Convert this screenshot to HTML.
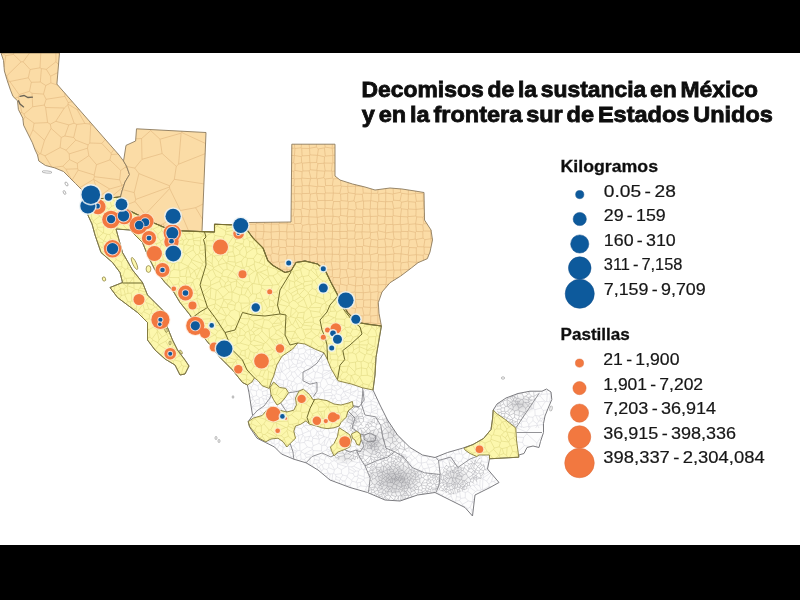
<!DOCTYPE html>
<html><head><meta charset="utf-8"><title>Decomisos</title>
<style>html,body{margin:0;padding:0;background:#000;width:800px;height:600px;overflow:hidden}svg{display:block}</style></head>
<body>
<svg width="800" height="600" viewBox="0 0 800 600" style="display:block">
<rect width="800" height="600" fill="#000"/>
<rect x="0" y="53" width="800" height="492" fill="#fff"/>
<clipPath id="cv"><rect x="0" y="53" width="800" height="492"/></clipPath>
<filter id="bl" x="-2%" y="-2%" width="104%" height="104%"><feGaussianBlur stdDeviation="0.45"/></filter>
<g clip-path="url(#cv)"><g filter="url(#bl)">
<path d="M1.0 53.0 L59.5 53.0 L56.9 84.1 L119.0 155.0 L123.5 161.0 L126.5 166.0 L129.5 174.5 L125.0 182.0 L122.0 191.0 L120.5 197.0 L84.0 200.0 L81.5 189.5 L75.5 183.5 L69.5 177.5 L63.5 171.5 L54.5 167.8 L45.5 165.5 L38.8 161.0 L37.5 155.0 L35.0 149.8 L32.4 142.8 L28.0 134.0 L23.6 125.2 L22.8 118.2 L18.4 109.5 L17.5 100.8 L13.0 96.4 L10.5 90.2 L7.0 79.8 L4.4 71.0 L3.5 60.5 L1.0 53.0Z" fill="#fbdca6"/>
<path d="M68.0 104.2L67.8 104.9M68.0 104.2L77.1 109.5M67.8 104.9L74.1 123.2M77.1 109.5L84.9 123.5M74.1 123.2L76.8 124.4M84.9 123.5L76.8 124.4M61.2 137.4L60.1 147.6M61.2 137.4L64.8 136.0M64.8 136.0L73.7 137.5M66.1 150.2L60.1 147.6M66.1 150.2L75.8 140.1M75.8 140.1L73.7 137.5M40.6 153.8L44.5 140.3M40.6 153.8L44.9 155.8M44.9 155.8L60.1 147.6M44.5 140.3L51.1 128.4M51.1 128.4L61.2 137.4M68.8 124.9L74.1 123.2M68.8 124.9L64.8 136.0M76.8 124.4L73.7 137.5M88.1 144.9L87.5 148.2M88.1 144.9L75.8 140.1M66.1 150.2L69.2 153.9M69.2 153.9L87.5 148.2M46.3 69.3L50.6 76.2M46.3 69.3L56.0 61.7M56.0 61.7L58.5 64.7M50.6 76.2L57.9 72.5M59.4 54.0L58.4 53.0M56.0 61.7L55.9 53.0M50.3 124.2L47.6 122.6M50.3 124.2L55.8 121.3M47.6 122.6L45.6 107.5M55.8 121.3L64.3 108.0M64.3 108.0L45.6 107.5M68.8 124.9L55.8 121.3M51.1 128.4L50.3 124.2M67.8 104.9L64.3 108.0M109.9 159.9L120.7 170.4M109.9 159.9L96.5 164.7M94.4 176.7L119.7 179.8M94.4 176.7L94.2 175.0M120.7 170.4L119.7 179.8M96.5 164.7L94.2 175.0M40.6 153.8L39.8 153.8M44.9 155.8L51.8 167.1M39.8 153.8L37.6 155.5M19.1 94.6L9.8 81.5M19.1 94.6L29.5 91.3M9.8 81.5L28.3 77.8M29.5 91.3L31.3 82.3M31.3 82.3L28.3 77.8M41.4 68.6L46.3 69.3M41.4 68.6L40.0 67.8M40.8 53.0L40.0 67.8M21.1 61.8L23.1 61.8M21.1 61.8L6.8 75.8M6.8 75.8L7.1 77.2M9.8 81.5L9.0 81.1M28.3 77.8L30.1 69.5M7.1 77.2L9.0 81.1M23.1 61.8L30.1 69.5M40.3 82.0L41.4 68.6M40.3 82.0L31.3 82.3M40.0 67.8L30.1 69.5M21.1 61.8L13.5 54.4M13.5 54.4L13.7 53.0M23.1 61.8L29.5 53.0M77.1 109.5L79.3 109.7M84.9 123.5L89.7 124.0M89.7 124.0L89.9 121.7M111.2 154.5L109.9 159.9M111.2 154.5L118.2 154.1M120.7 170.4L125.2 167.4M126.1 165.4L125.2 167.4M121.8 185.6L121.8 185.3M121.8 185.6L122.5 187.5M121.8 185.3L124.2 184.3M122.5 187.5L122.9 188.2M109.7 189.0L93.7 179.4M109.7 189.0L121.8 185.6M94.4 176.7L93.6 179.3M119.7 179.8L121.8 185.3M93.7 179.4L93.6 179.3M110.1 197.9L122.5 187.5M29.6 137.1L32.9 129.7M23.0 120.0L25.0 116.6M32.9 129.7L34.1 123.2M25.0 116.6L34.1 123.2M39.8 153.8L34.3 147.8M44.5 140.3L32.9 129.7M47.6 122.6L34.1 123.2M24.0 114.0L25.0 116.6M24.0 114.0L32.7 106.8M32.7 106.8L44.3 105.0M44.3 105.0L45.6 107.5M40.3 82.0L45.8 85.5M50.6 76.2L50.9 82.9M45.8 85.5L50.9 82.9M32.0 93.3L43.5 94.1M32.0 93.3L29.5 91.3M45.8 85.5L43.5 94.1M50.9 82.9L57.9 85.2M32.0 93.3L32.7 106.8M44.3 105.0L46.1 99.3M46.1 99.3L43.5 94.1M4.1 67.0L5.8 55.7M5.8 55.7L1.8 53.0M6.8 75.8L5.4 74.5M13.5 54.4L5.8 55.7M69.2 153.9L69.5 159.6M87.5 148.2L88.9 155.6M88.9 155.6L77.3 163.4M77.3 163.4L69.5 159.6M53.2 167.4L62.9 166.2M62.9 166.2L69.5 159.6M7.1 77.2L6.3 77.6M9.0 81.1L7.9 82.6M72.2 101.6L68.2 102.6M68.2 102.6L64.9 96.4M64.9 96.4L64.9 93.2M68.0 104.2L68.2 102.6M46.1 99.3L64.9 96.4M89.7 124.0L90.7 125.1M90.7 125.1L92.7 125.0M88.1 144.9L89.8 143.0M90.7 125.1L89.8 143.0M111.2 154.5L111.1 153.4M114.0 149.3L111.1 153.4M89.8 143.0L101.8 143.4M105.3 139.4L101.8 143.4M88.9 155.6L96.5 164.7M111.1 153.4L101.8 143.4M85.2 199.9L82.8 195.0M82.8 195.0L99.1 196.1M99.8 198.7L99.3 196.4M99.3 196.4L99.1 196.1M82.8 195.0L82.8 195.0M79.7 187.7L93.6 179.3M93.7 179.4L99.1 196.1M109.7 189.0L99.3 196.4M20.0 112.7L21.9 112.6M14.8 98.2L18.5 97.1M21.9 112.6L18.5 97.1M24.0 114.0L21.9 112.6M19.1 94.6L18.5 97.1M78.2 170.1L77.7 168.8M78.2 170.1L72.1 180.1M77.7 168.8L65.9 169.2M71.5 179.5L65.9 169.2M94.2 175.0L78.2 170.1M77.3 163.4L77.7 168.8M62.9 166.2L65.9 169.2M125.2 167.4L127.1 167.8" fill="none" stroke="#e0b67c" stroke-width="0.6"/>
<path d="M1.0 53.0 L59.5 53.0 L56.9 84.1 L119.0 155.0 L123.5 161.0 L126.5 166.0 L129.5 174.5 L125.0 182.0 L122.0 191.0 L120.5 197.0 L84.0 200.0 L81.5 189.5 L75.5 183.5 L69.5 177.5 L63.5 171.5 L54.5 167.8 L45.5 165.5 L38.8 161.0 L37.5 155.0 L35.0 149.8 L32.4 142.8 L28.0 134.0 L23.6 125.2 L22.8 118.2 L18.4 109.5 L17.5 100.8 L13.0 96.4 L10.5 90.2 L7.0 79.8 L4.4 71.0 L3.5 60.5 L1.0 53.0Z" fill="none" stroke="#8c7b5e" stroke-width="0.9" stroke-linejoin="round"/>
<path d="M136.5 128.8 L206.0 132.5 L202.0 231.6 L171.0 230.5 L164.5 227.5 L154.0 223.0 L133.0 212.5 L120.0 205.5 L120.5 197.0 L122.0 191.0 L125.0 182.0 L129.5 174.5 L126.5 166.0 L123.5 161.0 L124.5 155.0 L126.0 145.4 L135.6 141.0 L136.5 128.8Z" fill="#fbdca6"/>
<path d="M205.6 143.5L181.7 132.5M181.7 132.5L181.7 131.2M205.1 153.7L178.6 164.2M181.7 132.5L181.1 133.2M181.1 133.2L178.6 164.2M141.6 138.5L142.0 159.3M141.6 138.5L150.7 130.6M150.7 130.6L160.0 139.2M160.0 139.2L162.1 153.5M142.0 159.3L162.1 153.5M135.8 138.8L141.6 138.5M134.8 168.1L126.7 166.5M134.8 168.1L142.0 159.3M150.6 129.5L150.7 130.6M181.1 133.2L160.0 139.2M176.3 166.3L178.6 164.2M176.3 166.3L162.1 153.5M134.8 168.1L138.9 173.6M138.9 173.6L134.2 192.6M122.5 189.6L134.2 192.6M180.4 210.5L195.6 207.7M180.4 210.5L169.7 188.5M174.3 179.3L203.9 183.9M174.3 179.3L169.6 185.8M195.6 207.7L203.1 204.0M169.7 188.5L169.5 187.0M169.6 185.8L169.5 187.0M176.3 166.3L174.3 179.3M138.9 173.6L169.6 185.8M134.2 192.6L135.7 199.4M135.7 199.4L169.5 187.0M195.6 207.7L202.5 219.2M163.1 224.0L165.9 228.1M163.1 224.0L180.2 211.3M180.2 211.3L188.7 231.1M180.2 211.3L180.4 210.5M121.9 206.5L135.1 201.6M135.1 201.6L145.3 214.4M145.3 214.4L145.8 218.9M135.7 199.4L135.1 201.6M169.7 188.5L145.3 214.4M163.1 224.0L159.1 225.2" fill="none" stroke="#e0b67c" stroke-width="0.6"/>
<path d="M136.5 128.8 L206.0 132.5 L202.0 231.6 L171.0 230.5 L164.5 227.5 L154.0 223.0 L133.0 212.5 L120.0 205.5 L120.5 197.0 L122.0 191.0 L125.0 182.0 L129.5 174.5 L126.5 166.0 L123.5 161.0 L124.5 155.0 L126.0 145.4 L135.6 141.0 L136.5 128.8Z" fill="none" stroke="#8c7b5e" stroke-width="0.9" stroke-linejoin="round"/>
<path d="M291.8 144.2 L335.0 144.2 L335.0 176.0 L340.0 180.0 L352.5 184.0 L365.0 187.0 L375.0 190.0 L390.0 188.0 L402.0 189.0 L415.0 191.0 L424.0 192.5 L424.5 220.0 L431.0 230.0 L432.5 240.0 L430.0 252.0 L427.3 258.7 L418.0 262.7 L411.3 268.0 L400.7 276.0 L390.0 282.7 L382.0 292.0 L378.3 302.7 L379.0 313.3 L381.4 326.0 L370.0 324.5 L357.5 322.5 L347.5 312.5 L339.0 297.5 L331.0 282.5 L325.0 270.0 L317.5 264.0 L305.0 261.0 L296.0 262.5 L291.0 271.0 L285.0 272.5 L273.0 265.5 L268.0 261.0 L266.0 256.0 L263.0 248.0 L258.0 243.0 L253.0 238.0 L247.0 230.0 L245.0 226.0 L249.0 222.5 L291.0 222.0 L291.8 144.2Z" fill="#fbdca6"/>
<path d="M332.6 269.8L331.2 261.8M332.6 269.8L339.9 268.8M339.8 261.9L339.9 268.8M339.8 261.9L331.8 261.3M331.8 261.3L331.2 261.8M340.5 269.3L339.9 268.8M340.5 269.3L339.6 277.6M333.1 277.5L339.6 277.6M333.1 277.5L332.3 276.6M332.6 269.8L332.5 269.9M332.3 276.6L332.5 269.9M248.3 224.7L248.7 231.5M248.3 224.7L248.7 224.4M255.7 231.8L248.7 231.5M255.7 231.8L256.1 231.3M256.1 231.3L255.9 224.2M248.7 224.4L255.9 224.2M286.7 254.3L285.7 247.5M286.7 254.3L287.3 254.8M285.7 247.5L286.7 246.3M293.8 254.6L287.3 254.8M293.8 254.6L293.9 246.5M286.7 246.3L293.9 246.5M286.7 254.3L279.0 255.2M285.7 247.5L279.9 247.4M279.0 255.2L278.3 254.3M279.9 247.4L278.3 254.3M291.1 209.1L294.2 209.4M294.3 202.0L291.2 201.7M294.3 202.0L294.4 209.1M294.4 209.1L294.2 209.4M256.1 231.3L263.9 231.6M255.9 224.2L256.4 223.6M256.4 223.6L263.7 224.3M263.7 224.3L263.9 231.6M294.3 193.6L294.2 193.8M294.3 193.6L301.8 193.9M294.8 201.5L294.2 193.8M294.8 201.5L302.2 201.1M301.8 193.9L302.2 201.1M353.9 200.9L355.3 194.1M353.9 200.9L355.6 202.4M355.3 194.1L362.3 194.3M362.3 194.3L363.1 200.8M355.6 202.4L363.1 200.8M408.9 224.4L408.3 223.8M408.9 224.4L408.7 231.0M408.3 223.8L400.8 224.7M408.7 231.0L408.1 231.6M408.1 231.6L401.3 231.4M401.3 231.4L400.8 224.7M408.0 238.8L408.1 231.6M408.0 238.8L401.1 239.2M400.9 231.9L401.1 239.2M400.9 231.9L401.3 231.4M407.7 216.9L408.3 223.8M407.7 216.9L400.5 216.5M400.5 216.5L400.5 216.6M400.8 224.7L400.2 224.3M400.5 216.6L400.2 224.3M400.9 231.9L393.2 231.9M393.2 231.9L394.2 238.9M401.1 239.2L400.4 239.8M400.4 239.8L394.2 238.9M428.9 254.7L424.3 254.1M423.6 260.3L423.1 255.2M424.3 254.1L423.1 255.2M431.0 247.3L424.0 247.1M424.0 247.1L424.3 254.1M377.8 300.8L379.0 300.8M377.8 300.8L377.5 300.5M377.5 300.5L378.4 291.9M378.4 291.9L381.8 292.5M422.9 217.2L416.7 216.9M422.9 217.2L423.8 223.8M416.7 216.9L415.6 223.8M423.8 223.8L422.8 224.9M422.8 224.9L415.8 224.0M415.6 223.8L415.8 224.0M385.6 201.8L385.3 208.7M385.6 201.8L385.7 201.7M385.7 201.7L392.4 201.6M385.3 208.7L393.2 209.3M392.4 201.6L393.8 208.5M393.2 209.3L393.8 208.5M385.3 208.8L385.3 208.7M385.3 208.8L385.5 216.4M385.5 216.4L392.6 216.4M392.6 216.4L393.2 215.7M393.2 215.7L393.2 209.3M400.5 216.5L401.5 208.8M400.5 216.6L393.2 215.7M401.5 208.8L400.7 207.8M400.7 207.8L393.8 208.5M393.1 188.3L393.4 193.8M385.7 193.0L385.7 188.6M385.7 193.0L385.7 193.0M385.7 193.0L393.1 194.1M393.4 193.8L393.1 194.1M400.5 188.9L400.6 192.3M393.4 193.8L400.6 192.3M385.7 193.0L385.7 201.7M392.4 201.6L393.6 200.2M393.1 194.1L393.6 200.2M371.3 193.4L371.4 193.4M371.3 193.4L370.8 200.6M371.4 193.4L377.7 193.3M370.8 200.6L377.8 202.1M378.7 194.0L377.7 193.3M378.7 194.0L378.8 201.3M378.8 201.3L377.8 202.1M370.5 200.8L370.8 200.6M370.5 200.8L363.5 201.1M363.3 193.1L362.3 194.3M363.3 193.1L371.3 193.4M363.5 201.1L363.1 200.8M371.2 188.8L371.4 193.4M378.1 189.6L377.7 193.3M385.7 193.0L378.7 194.0M385.6 201.8L378.8 201.3M293.9 171.2L294.0 178.5M293.9 171.2L291.5 171.0M294.0 178.5L291.4 178.5M369.5 224.5L369.9 224.1M369.5 224.5L370.2 232.1M370.2 232.1L370.7 232.6M369.9 224.1L377.2 223.9M377.2 223.9L378.2 224.8M377.3 231.8L370.7 232.6M377.3 231.8L378.2 230.9M378.2 224.8L378.2 230.9M355.5 239.6L356.2 246.4M355.5 239.6L362.5 238.4M356.2 246.4L362.4 246.6M362.4 246.6L363.6 245.6M362.5 238.4L363.6 239.3M363.6 239.3L363.6 245.6M377.3 231.8L378.4 239.5M370.7 232.6L370.0 237.8M377.7 240.2L378.4 239.5M377.7 240.2L371.2 239.3M371.2 239.3L370.0 237.8M377.4 253.2L378.0 247.5M377.4 253.2L370.2 254.9M377.7 247.1L378.0 247.5M377.7 247.1L370.1 246.5M369.8 246.7L370.1 246.5M369.8 246.7L369.5 254.2M369.5 254.2L370.2 254.9M377.7 240.2L377.7 247.1M371.2 239.3L370.1 246.5M363.6 239.3L370.0 237.8M363.6 245.6L369.8 246.7M362.4 246.6L363.1 254.1M363.1 254.1L369.5 254.2M400.7 245.6L392.9 247.7M400.7 245.6L400.4 239.8M393.1 239.9L394.2 238.9M393.1 239.9L391.9 246.7M391.9 246.7L392.9 247.7M385.3 238.4L384.7 239.0M385.3 238.4L393.1 239.9M384.7 239.0L385.9 246.9M391.9 246.7L385.9 246.9M384.7 239.0L378.4 239.5M378.0 247.5L385.6 247.2M385.9 246.9L385.6 247.2M370.7 261.3L370.2 254.9M370.7 261.3L371.1 261.8M371.1 261.8L377.9 261.9M377.4 253.2L378.5 254.6M378.5 254.6L377.9 261.9M371.1 261.8L370.5 269.5M370.5 269.5L377.8 270.5M377.8 270.5L378.2 270.1M378.2 270.1L378.7 262.5M377.9 261.9L378.7 262.5M385.9 269.9L378.2 270.1M385.9 269.9L385.9 262.1M378.7 262.5L385.9 262.1M355.0 270.0L354.9 276.3M355.0 270.0L347.9 268.4M354.9 276.3L348.4 277.5M346.2 269.8L347.9 268.4M346.2 269.8L347.8 277.1M347.8 277.1L348.4 277.5M340.5 269.3L346.2 269.8M339.6 277.6L340.4 278.4M340.4 278.4L347.8 277.1M369.8 270.1L369.9 277.0M369.8 270.1L363.3 269.5M363.3 269.5L361.8 277.3M369.9 277.0L362.9 278.2M362.9 278.2L361.8 277.3M370.7 261.3L362.5 262.3M362.5 262.3L362.5 268.5M362.5 268.5L363.3 269.5M370.5 269.5L369.8 270.1M356.2 277.3L354.9 276.3M356.2 277.3L361.8 277.3M362.5 268.5L355.5 269.5M355.5 269.5L355.0 270.0M347.4 254.1L339.7 255.0M347.4 254.1L347.3 261.1M347.3 261.1L340.0 261.6M339.7 255.0L340.0 261.6M348.5 262.3L347.9 268.4M348.5 262.3L347.3 261.1M339.8 261.9L340.0 261.6M339.1 254.4L332.4 254.3M339.1 254.4L339.7 255.0M332.4 254.3L331.8 261.3M362.4 254.7L356.1 254.0M362.4 254.7L362.2 262.0M362.2 262.0L354.9 261.4M355.0 255.1L356.1 254.0M355.0 255.1L354.9 261.4M354.9 261.4L354.9 261.4M356.2 246.4L355.5 247.1M363.1 254.1L362.4 254.7M355.5 247.1L356.1 254.0M362.5 262.3L362.2 262.0M355.5 269.5L354.9 261.4M347.5 247.4L347.5 254.0M347.5 247.4L355.5 247.1M347.5 254.0L355.0 255.1M348.5 262.3L354.9 261.4M347.5 254.0L347.4 254.1M332.2 284.7L332.5 284.4M332.5 284.4L339.4 285.3M339.4 285.3L339.3 292.0M336.1 292.0L339.3 292.0M339.3 292.0L339.3 292.0M333.1 277.5L332.5 284.4M340.4 278.4L340.6 284.1M340.6 284.1L339.4 285.3M339.4 298.2L339.3 292.0M331.2 261.8L325.2 261.9M332.5 269.9L325.1 269.7M324.5 262.5L325.2 261.9M324.5 262.5L324.3 268.8M324.3 268.8L325.1 269.7M317.3 263.9L317.5 261.8M324.5 262.5L317.5 261.8M324.3 268.8L323.7 268.9M255.7 231.8L255.8 238.4M248.7 231.5L248.4 231.8M255.8 238.4L253.8 238.8M248.3 224.7L246.7 224.5M279.2 239.3L279.6 231.5M279.2 239.3L286.0 240.1M286.0 240.1L287.1 238.8M287.1 238.8L286.8 232.0M286.8 232.0L286.6 231.7M286.6 231.7L279.6 231.5M255.8 238.4L256.6 239.1M263.9 231.6L263.9 231.6M263.9 231.6L262.8 238.9M256.6 239.1L262.8 238.9M271.5 238.9L263.8 240.0M271.5 238.9L271.1 232.2M271.1 232.2L263.9 231.6M262.8 238.9L263.8 240.0M278.8 246.4L271.6 247.4M278.8 246.4L278.6 239.7M278.6 239.7L271.9 239.4M271.9 239.4L271.2 246.9M271.2 246.9L271.6 247.4M279.9 247.4L278.8 246.4M272.3 253.2L278.3 254.3M272.3 253.2L271.6 247.4M286.7 246.3L286.0 240.1M279.2 239.3L278.6 239.7M271.5 238.9L271.9 239.4M271.2 232.0L271.1 232.2M271.2 232.0L279.4 231.4M279.4 231.4L279.6 231.5M263.9 247.0L263.8 240.0M263.9 247.0L271.2 246.9M287.3 222.0L287.2 223.8M287.2 223.8L279.4 223.5M279.4 222.1L279.4 223.5M293.3 215.9L294.2 209.4M293.3 215.9L291.1 216.3M286.6 231.7L287.4 224.0M287.4 224.0L287.2 223.8M279.4 231.4L278.9 224.1M278.9 224.1L279.4 223.5M340.6 223.5L340.2 223.8M340.6 223.5L339.0 216.9M333.1 216.3L339.0 216.9M333.1 216.3L331.7 223.8M340.2 223.8L332.5 224.9M331.7 223.8L332.5 224.9M347.4 312.3L347.4 306.8M347.4 306.8L347.2 306.4M347.2 306.4L344.3 306.8M354.7 315.0L354.9 315.3M354.7 315.0L350.3 315.3M354.9 315.3L355.3 320.3M355.6 308.8L354.7 315.0M355.6 308.8L347.4 306.8M377.5 300.5L370.7 299.5M378.4 291.9L377.9 291.5M377.9 291.5L370.8 292.5M370.7 299.5L370.8 292.5M363.5 284.5L369.4 285.4M363.5 284.5L362.5 285.4M369.4 285.4L370.1 292.0M362.5 285.4L363.3 292.7M363.3 292.7L363.4 292.8M363.4 292.8L370.1 292.0M361.8 323.2L362.6 323.3M362.6 323.3L362.6 323.3M377.8 300.8L377.2 307.6M378.7 308.2L377.9 308.3M377.2 307.6L377.9 308.3M363.3 193.1L362.7 186.4M355.3 194.1L355.1 193.8M355.6 186.1L361.9 186.3M355.6 186.1L355.5 186.2M355.5 186.2L355.1 193.8M294.8 201.5L294.3 202.0M300.9 209.6L294.4 209.1M300.9 209.6L302.3 208.2M302.2 201.1L302.7 201.5M302.3 208.2L302.7 201.5M355.6 224.5L362.5 224.5M355.6 224.5L354.4 231.0M362.5 224.5L362.1 231.8M355.3 232.0L354.4 231.0M355.3 232.0L361.9 231.9M361.9 231.9L362.1 231.8M369.5 224.5L363.3 223.8M370.2 232.1L362.1 231.8M363.3 223.8L362.5 224.5M354.6 238.8L355.3 232.0M354.6 238.8L355.5 239.6M362.5 238.4L361.9 231.9M355.6 202.4L356.3 208.8M363.5 201.1L363.7 208.8M363.7 208.8L362.8 209.5M362.8 209.5L356.3 208.8M408.5 246.7L409.2 247.5M408.5 246.7L401.8 246.7M409.2 247.5L408.2 254.9M401.8 246.7L401.1 253.9M401.1 253.9L408.2 254.9M409.3 239.9L408.0 238.8M409.3 239.9L408.5 246.7M400.7 245.6L401.8 246.7M424.0 247.1L423.8 246.9M431.6 244.5L430.7 238.7M430.7 238.7L424.9 239.7M423.8 246.9L424.9 239.7M370.3 216.2L369.7 209.3M370.3 216.2L370.5 216.5M370.5 216.5L377.4 216.2M370.3 208.9L377.4 208.9M370.3 208.9L369.7 209.3M377.5 209.1L377.4 208.9M377.5 209.1L377.9 215.7M377.9 215.7L377.4 216.2M363.7 208.8L369.7 209.3M362.8 216.6L362.8 209.5M362.8 216.6L370.3 216.2M363.3 223.8L362.3 217.2M369.9 224.1L370.5 216.5M362.8 216.6L362.3 217.2M377.2 223.9L377.4 216.2M370.5 200.8L370.3 208.9M377.8 202.1L377.4 208.9M385.3 208.8L377.5 209.1M385.5 216.4L385.1 216.7M385.1 216.7L377.9 215.7M385.1 216.7L384.7 223.6M384.7 223.6L378.2 224.8M416.4 262.1L416.2 262.3M416.4 262.1L416.5 254.8M416.2 262.3L408.3 261.6M416.5 254.8L416.3 254.7M416.3 254.7L408.6 255.4M408.6 255.4L408.3 261.6M419.2 262.2L416.4 262.1M416.1 264.2L416.2 262.3M423.1 255.2L416.5 254.8M416.3 247.8L416.3 254.7M416.3 247.8L417.5 246.7M417.5 246.7L423.8 246.9M416.3 247.8L409.2 247.5M408.2 254.9L408.6 255.4M385.7 284.5L386.0 284.3M385.7 284.5L385.9 287.5M386.0 284.3L388.4 284.6M426.9 223.7L423.8 223.8M422.9 217.2L424.3 216.0M424.4 216.0L424.3 216.0M293.9 171.2L294.9 170.4M293.7 162.9L291.6 163.0M293.7 162.9L295.0 164.0M294.9 170.4L295.0 164.0M293.7 162.9L294.4 155.5M295.0 164.0L301.7 162.7M301.7 162.7L301.3 156.6M301.3 156.6L294.4 155.5M294.9 170.4L302.1 171.7M301.7 162.7L302.3 163.2M302.1 171.7L302.9 171.0M302.3 163.2L302.9 171.0M401.5 202.2L408.1 201.0M401.5 202.2L400.1 200.7M400.1 200.7L401.6 193.3M408.1 201.0L408.4 194.2M401.6 193.3L408.3 194.2M408.4 194.2L408.3 194.2M400.7 207.8L401.5 202.2M393.6 200.2L400.1 200.7M400.6 192.3L401.6 193.3M408.4 190.0L408.3 194.2M415.3 193.6L415.6 193.3M415.3 193.6L408.4 194.2M415.6 193.3L415.7 191.1M301.5 144.2L301.1 147.8M301.1 147.8L295.0 148.5M294.4 144.2L294.8 148.3M294.8 148.3L295.0 148.5M340.7 208.9L340.5 208.8M340.7 208.9L340.6 215.5M333.1 216.2L333.1 216.3M333.1 216.2L332.5 209.3M340.6 215.5L339.0 216.9M340.5 208.8L332.5 209.3M340.2 223.8L339.8 231.5M332.4 231.3L332.5 224.9M332.4 231.3L332.5 231.4M339.8 231.5L332.5 231.4M370.8 277.9L370.2 284.7M370.8 277.9L377.8 277.9M370.2 284.7L378.1 285.1M377.8 277.9L378.4 284.8M378.4 284.8L378.1 285.1M363.5 284.5L362.9 278.2M369.4 285.4L370.2 284.7M369.9 277.0L370.8 277.9M378.2 277.3L377.8 270.5M378.2 277.3L377.8 277.9M377.9 291.5L378.1 285.1M370.1 292.0L370.8 292.5M385.7 284.5L378.4 284.8M386.1 224.7L385.4 232.4M386.1 224.7L392.9 224.4M393.2 224.8L392.9 224.4M393.2 224.8L393.2 231.9M393.2 231.9L385.8 232.9M385.8 232.9L385.4 232.4M384.7 223.6L386.1 224.7M378.2 230.9L385.4 232.4M392.6 216.4L392.9 224.4M400.2 224.3L393.2 224.8M393.2 231.9L393.2 231.9M385.3 238.4L385.8 232.9M386.4 270.5L386.0 277.1M386.4 270.5L393.7 270.0M393.7 270.0L394.0 270.2M394.0 270.2L393.5 277.7M393.5 277.7L393.3 277.8M393.3 277.8L386.5 277.7M386.0 277.1L386.5 277.7M385.9 269.9L386.4 270.5M378.2 277.3L386.0 277.1M398.2 277.6L393.5 277.7M393.6 280.4L393.3 277.8M386.0 284.3L386.5 277.7M392.9 247.7L394.1 253.6M401.1 253.9L401.1 253.9M394.1 253.6L401.1 253.9M408.3 261.6L408.0 262.0M401.2 262.8L408.0 262.0M401.2 262.8L400.3 262.0M401.1 253.9L400.3 262.0M325.2 261.9L324.2 254.1M317.5 261.8L317.2 261.6M317.2 261.6L317.7 254.2M324.2 254.1L317.7 254.2M332.4 254.3L332.4 254.2M332.4 254.2L324.4 254.0M324.2 254.1L324.4 254.0M248.7 224.4L248.8 222.7M256.4 223.6L256.4 222.4M263.7 249.7L263.6 247.3M263.6 247.3L262.2 247.2M263.9 247.0L263.6 247.3M256.6 239.1L256.6 241.6M300.9 209.6L302.0 216.5M302.3 208.2L309.6 209.9M309.6 209.9L308.7 216.6M308.7 216.6L302.0 216.5M272.6 265.1L272.9 262.5M279.9 269.6L280.2 269.3M280.2 269.3L279.4 262.2M272.9 262.5L278.6 261.6M278.6 261.6L279.4 262.2M287.3 254.8L286.3 261.8M279.0 255.2L278.6 261.6M286.3 261.8L279.4 262.2M269.2 262.1L271.8 261.7M271.8 261.7L270.6 255.1M270.6 255.1L265.6 254.9M272.9 262.5L271.8 261.7M272.3 253.2L270.6 255.1M264.4 223.6L271.4 224.2M264.4 223.6L264.5 222.3M271.4 224.2L271.5 224.1M271.5 224.1L271.5 222.2M263.7 224.3L264.4 223.6M271.2 232.0L271.4 224.2M278.9 224.1L271.5 224.1M286.3 261.8L286.8 262.4M280.2 269.3L286.9 269.3M286.8 262.4L286.9 269.3M293.8 254.6L294.1 254.9M286.8 262.4L294.8 262.6M294.8 262.6L295.0 262.3M294.1 254.9L295.0 262.3M293.9 246.5L294.5 245.9M294.5 245.9L302.0 246.9M302.0 246.9L302.3 247.3M302.3 247.3L301.9 253.7M294.1 254.9L301.9 253.7M356.2 277.3L355.4 285.8M348.4 277.5L348.4 284.2M355.4 285.8L348.4 284.2M362.5 285.4L355.5 285.9M355.4 285.8L355.5 285.9M340.6 284.1L347.0 285.5M347.0 285.5L348.4 284.2M339.3 292.0L346.7 292.1M347.0 285.5L346.7 292.1M362.7 323.1L370.6 322.7M362.7 323.1L363.2 315.9M363.2 315.9L363.9 315.2M363.9 315.2L369.8 315.1M370.8 316.0L369.8 315.1M370.8 316.0L370.6 322.7M370.6 322.7L370.6 322.7M370.4 324.6L370.6 322.7M362.6 323.3L362.7 323.1M354.9 315.3L363.2 315.9M355.6 308.8L356.7 307.7M362.4 307.8L356.7 307.7M362.4 307.8L363.9 315.2M377.4 325.5L377.5 323.9M377.5 323.9L370.6 322.7M380.9 323.5L377.9 323.5M377.9 323.5L377.8 315.3M379.4 315.3L377.9 315.1M377.9 315.1L377.8 315.3M377.5 323.9L377.9 323.5M370.8 316.0L377.8 315.3M377.9 308.3L377.9 315.1M370.6 307.8L369.8 315.1M370.6 307.8L377.2 307.6M370.6 299.7L363.7 300.1M370.6 299.7L370.3 307.5M363.7 300.1L363.4 306.9M370.3 307.5L363.4 306.9M370.7 299.5L370.6 299.7M363.4 292.8L363.0 299.4M363.0 299.4L363.7 300.1M370.6 307.8L370.3 307.5M362.4 307.8L363.4 306.9M355.6 186.1L355.4 184.7M309.7 193.4L309.0 185.7M309.7 193.4L310.4 194.0M310.4 194.0L316.3 193.1M317.3 186.7L316.3 193.1M317.3 186.7L309.1 185.6M309.1 185.6L309.0 185.7M302.1 171.7L301.9 178.1M310.9 178.4L310.5 178.7M310.9 178.4L309.1 170.8M309.1 170.8L302.9 171.0M310.5 178.7L301.9 178.1M309.7 201.1L316.6 201.8M309.7 201.1L309.5 201.2M309.5 201.2L310.1 209.4M316.6 201.8L317.3 208.4M310.1 209.4L316.5 209.2M317.3 208.4L316.5 209.2M301.8 193.9L302.1 193.6M302.1 193.6L309.7 193.4M310.4 194.0L309.7 201.1M302.7 201.5L309.5 201.2M309.6 209.9L310.1 209.4M347.7 208.6L340.7 208.9M347.7 208.6L348.3 201.7M348.3 201.7L347.7 201.2M347.7 201.2L341.0 200.6M340.5 208.8L340.0 201.5M341.0 200.6L340.0 201.5M353.9 200.9L348.3 201.7M347.7 201.2L347.7 193.3M355.1 193.8L348.3 192.7M347.7 193.3L348.3 192.7M341.0 200.6L340.5 194.1M347.7 193.3L340.5 194.1M348.3 192.7L347.5 186.6M340.5 194.1L339.8 193.4M339.8 193.4L341.4 186.1M341.4 186.1L347.5 186.6M355.5 186.2L347.7 186.4M348.2 182.6L347.7 186.4M347.7 186.4L347.5 186.6M317.8 200.6L316.7 193.5M317.8 200.6L324.9 200.4M316.7 193.5L324.9 193.8M324.9 200.4L324.9 193.8M316.3 193.1L316.7 193.5M316.6 201.8L317.8 200.6M347.7 208.6L348.1 209.1M340.6 215.5L347.1 216.2M348.1 209.1L347.1 216.2M356.3 208.8L354.9 210.1M348.1 209.1L354.9 210.1M432.3 238.6L430.8 238.5M431.1 230.6L431.0 230.6M430.8 238.5L430.5 231.1M431.0 230.6L430.5 231.1M430.7 238.7L430.8 238.5M431.0 230.0L431.0 230.6M423.4 231.0L430.5 231.1M423.4 231.0L422.8 224.9M422.8 231.7L423.0 238.1M422.8 231.7L416.3 231.5M423.0 238.1L416.0 239.6M416.3 231.5L415.4 232.3M415.4 232.3L415.2 239.1M415.2 239.1L416.0 239.6M423.4 231.0L422.8 231.7M424.9 239.7L423.0 238.1M415.8 224.0L416.3 231.5M417.5 246.7L416.0 239.6M408.9 224.4L415.6 223.8M408.7 231.0L415.4 232.3M409.3 239.9L415.2 239.1M409.2 269.3L400.5 270.0M409.2 269.3L409.2 269.3M409.2 269.3L409.2 269.6M401.6 275.3L400.5 270.0M400.5 270.0L400.5 270.0M401.2 262.8L400.5 270.0M408.0 262.0L409.2 269.3M409.5 269.3L409.2 269.3M394.0 270.2L400.5 270.0M415.9 216.0L416.1 209.4M415.9 216.0L408.0 216.6M416.1 209.4L408.4 209.0M408.0 216.6L407.8 209.5M407.8 209.5L408.4 209.0M407.7 216.9L408.0 216.6M416.7 216.9L415.9 216.0M401.5 208.8L407.8 209.5M408.7 201.6L408.4 209.0M408.7 201.6L408.1 201.0M415.3 193.6L416.4 201.3M415.6 193.3L422.8 193.6M423.3 194.2L422.8 193.6M423.3 194.2L423.2 201.0M416.4 201.3L423.2 201.0M408.7 201.6L415.5 202.2M416.4 201.3L415.5 202.2M416.1 209.4L416.1 209.4M415.5 202.2L416.1 209.4M294.4 155.5L294.4 155.5M294.4 155.5L291.6 155.5M294.4 155.5L295.0 148.5M294.8 148.3L291.7 148.2M301.3 156.6L302.1 155.9M301.1 147.8L301.7 148.3M301.7 148.3L302.1 155.9M309.6 148.3L309.1 144.2M309.6 148.3L309.5 148.5M301.7 148.3L309.5 148.5M309.6 148.3L316.3 147.1M316.5 144.2L316.3 147.1M325.3 156.1L324.4 147.9M325.3 156.1L324.5 156.8M324.5 156.8L317.5 155.2M317.5 155.2L318.4 148.9M318.4 148.9L324.4 147.9M332.3 163.2L324.2 163.0M332.3 163.2L332.9 162.7M324.2 163.0L324.5 156.8M332.9 162.7L332.7 155.5M332.7 155.5L325.3 156.1M310.9 178.4L316.6 178.3M316.6 178.3L317.0 170.6M317.0 170.6L316.8 170.3M309.1 170.8L310.2 169.8M316.8 170.3L310.2 169.8M317.0 170.6L324.9 171.2M324.1 163.2L325.2 170.9M324.1 163.2L317.9 163.7M317.9 163.7L316.8 170.3M324.9 171.2L325.2 170.9M332.3 163.2L331.5 171.0M324.2 163.0L324.1 163.2M325.2 170.9L331.5 171.0M335.0 171.0L331.9 171.3M335.0 163.2L332.9 162.7M331.9 171.3L331.5 171.0M332.2 148.3L332.9 155.3M332.2 148.3L335.0 147.7M332.9 155.3L335.0 155.3M332.7 155.5L332.9 155.3M325.0 200.6L332.6 200.4M325.0 200.6L325.0 208.3M325.0 208.3L332.3 209.0M332.3 209.0L333.6 201.5M332.6 200.4L333.6 201.5M324.5 208.9L317.3 208.4M324.5 208.9L325.0 208.3M324.9 200.4L325.0 200.6M332.5 209.3L332.3 209.0M340.0 201.5L333.6 201.5M333.3 193.1L339.8 193.4M333.3 193.1L332.6 200.4M347.6 230.9L347.2 231.4M347.6 230.9L346.8 223.9M346.8 223.9L340.6 223.5M339.8 231.5L339.8 231.5M347.2 231.4L339.8 231.5M393.8 254.0L393.6 261.5M393.8 254.0L385.6 254.9M386.0 262.0L385.5 255.0M386.0 262.0L392.9 262.1M392.9 262.1L393.6 261.5M385.6 254.9L385.5 255.0M394.1 253.6L393.8 254.0M400.3 262.0L393.6 261.5M385.6 247.2L385.6 254.9M378.5 254.6L385.5 255.0M385.9 262.1L386.0 262.0M393.7 270.0L392.9 262.1M332.3 276.6L328.4 277.1M325.1 269.7L325.1 270.2M293.3 215.9L294.3 216.8M302.0 216.5L301.9 216.6M294.3 216.8L301.9 216.6M324.5 208.9L324.3 215.9M333.1 216.2L324.8 216.3M324.3 215.9L324.8 216.3M331.7 223.8L325.6 223.3M324.8 216.3L325.6 223.3M332.4 231.3L324.6 231.1M324.6 231.1L324.6 224.2M325.6 223.3L324.6 224.2M294.2 193.8L291.3 193.8M294.5 245.9L294.5 239.5M302.0 246.9L302.7 239.5M302.7 239.5L302.1 238.9M302.1 238.9L294.5 239.5M287.1 238.8L294.3 239.3M294.3 239.3L294.5 239.5M286.8 232.0L294.7 231.8M294.3 239.3L294.7 231.8M291.8 269.7L287.3 269.7M287.3 269.7L287.0 272.0M294.8 262.6L294.7 264.7M295.0 262.3L297.7 262.2M286.9 269.3L287.3 269.7M302.1 261.5L302.1 254.0M309.5 262.1L309.9 261.6M309.9 261.6L309.5 255.3M302.1 254.0L309.2 255.0M309.2 255.0L309.5 255.3M301.9 253.7L302.1 254.0M317.2 261.6L309.9 261.6M317.3 253.8L317.7 254.2M317.3 253.8L309.5 255.3M302.3 247.3L310.1 246.8M310.1 246.8L309.2 255.0M355.3 292.3L355.0 292.0M355.3 292.3L355.7 299.6M355.0 292.0L347.3 292.8M355.3 300.1L355.7 299.6M355.3 300.1L348.1 300.8M347.3 292.8L347.0 299.5M348.1 300.8L347.0 299.5M363.3 292.7L355.3 292.3M355.5 285.9L355.0 292.0M363.0 299.4L355.7 299.6M346.7 292.1L347.3 292.8M356.7 307.7L355.3 300.1M347.2 306.4L348.1 300.8M340.1 299.5L347.0 299.5M302.0 186.2L302.4 185.7M302.0 186.2L294.8 186.4M302.4 185.7L301.5 178.6M301.5 178.6L294.4 178.9M294.4 178.9L293.9 185.6M294.8 186.4L293.9 185.6M302.1 193.6L302.0 186.2M309.0 185.7L302.4 185.7M294.3 193.6L294.8 186.4M309.1 185.6L310.5 178.7M301.9 178.1L301.5 178.6M294.0 178.5L294.4 178.9M291.3 185.8L293.9 185.6M341.4 186.1L341.0 185.6M341.0 185.6L340.5 180.2M332.5 178.1L331.9 171.3M332.5 178.1L333.3 178.9M333.3 178.9L338.2 178.6M333.3 193.1L333.3 193.1M341.0 185.6L333.0 186.2M333.3 193.1L333.0 186.2M324.9 193.8L325.5 193.0M333.3 193.1L325.5 193.0M333.3 178.9L332.4 185.5M333.0 186.2L332.4 185.5M317.2 178.8L323.8 177.7M317.2 178.8L317.8 186.2M317.8 186.2L324.5 186.7M323.8 177.7L325.1 179.0M325.1 179.0L325.6 185.6M324.5 186.7L325.6 185.6M316.6 178.3L317.2 178.8M324.9 171.2L323.8 177.7M317.3 186.7L317.8 186.2M325.5 193.0L324.5 186.7M332.5 178.1L325.1 179.0M332.4 185.5L325.6 185.6M355.3 216.9L354.9 216.4M355.3 216.9L354.6 223.3M354.9 216.4L347.6 216.8M354.6 223.3L347.1 223.5M347.1 223.5L347.6 216.8M362.3 217.2L355.3 216.9M354.9 210.1L354.9 216.4M355.6 224.5L354.6 223.3M347.1 216.2L347.6 216.8M347.6 230.9L354.4 231.0M346.8 223.9L347.1 223.5M423.3 194.2L424.0 194.1M422.8 193.6L423.0 192.3M423.7 201.4L423.2 208.6M423.7 201.4L424.2 201.4M424.3 209.6L423.2 208.6M424.3 216.0L424.4 212.9M416.1 209.4L423.2 208.6M423.2 201.0L423.7 201.4M316.6 162.5L310.1 162.7M316.6 162.5L317.4 155.3M317.4 155.3L309.9 154.9M309.9 162.5L310.1 162.7M309.9 162.5L309.5 155.5M309.9 154.9L309.5 155.5M317.9 163.7L316.6 162.5M310.2 169.8L310.1 162.7M317.5 155.2L317.4 155.3M309.5 148.5L309.9 154.9M316.3 147.1L318.4 148.9M302.3 163.2L309.9 162.5M302.1 155.9L309.5 155.5M354.6 238.8L348.0 239.2M347.2 231.4L347.2 238.3M348.0 239.2L347.2 238.3M347.5 247.4L347.2 247.1M348.0 239.2L347.2 247.1M339.8 231.5L340.2 238.8M347.2 238.3L340.2 238.8M309.8 239.7L310.1 246.7M309.8 239.7L317.1 239.0M317.1 239.0L317.8 239.8M317.8 239.8L317.1 246.8M310.1 246.7L316.3 247.6M316.3 247.6L317.1 246.8M310.1 246.8L310.1 246.7M302.7 239.5L309.5 239.4M309.5 239.4L309.8 239.7M323.9 231.8L317.8 231.7M323.9 231.8L325.0 239.0M317.2 232.3L317.8 231.7M317.2 232.3L317.1 239.0M325.0 239.0L324.2 239.7M324.2 239.7L317.8 239.8M324.9 246.9L317.1 246.8M324.9 246.9L324.2 239.7M317.3 253.8L316.3 247.6M324.4 254.0L325.0 247.1M325.0 247.1L324.9 246.9M287.4 224.0L293.7 224.5M294.7 231.8L294.8 231.6M293.7 224.5L294.8 231.6M294.3 216.8L294.8 223.5M293.7 224.5L294.8 223.5M301.9 216.6L301.0 223.5M294.8 223.5L301.0 223.5M294.8 231.6L301.5 231.4M301.0 223.5L302.6 225.4M302.6 225.4L301.5 231.4M309.5 239.4L309.6 232.5M302.1 238.9L301.9 231.9M309.6 232.5L301.9 231.9M317.2 232.3L310.3 231.9M309.6 232.5L310.3 231.9M301.9 231.9L301.5 231.4M308.9 216.8L309.0 224.1M308.9 216.8L317.1 217.2M309.0 224.1L309.9 224.8M309.9 224.8L317.1 224.2M317.1 217.2L317.3 217.4M317.3 217.4L317.5 223.6M317.5 223.6L317.1 224.2M308.7 216.6L308.9 216.8M302.6 225.4L309.0 224.1M316.5 209.2L317.1 217.2M310.3 231.9L309.9 224.8M317.8 231.7L317.1 224.2M324.3 215.9L317.3 217.4M324.6 224.2L317.5 223.6M324.6 231.1L323.9 231.8M340.1 246.9L332.1 247.1M340.1 246.9L340.4 246.7M340.4 246.7L339.2 239.7M339.2 239.7L332.3 238.9M331.7 246.7L332.1 247.1M331.7 246.7L332.2 238.9M332.2 238.9L332.3 238.9M339.1 254.4L340.1 246.9M332.4 254.2L332.1 247.1M347.2 247.1L340.4 246.7M340.2 238.8L339.2 239.7M332.5 231.4L332.3 238.9M325.0 247.1L331.7 246.7M325.0 239.0L332.2 238.9M332.4 144.2L332.1 148.2M332.1 148.2L325.1 147.1M325.1 147.1L324.8 144.2M332.2 148.3L332.1 148.2M324.4 147.9L325.1 147.1" fill="none" stroke="#e0b67c" stroke-width="0.6"/>
<path d="M291.8 144.2 L335.0 144.2 L335.0 176.0 L340.0 180.0 L352.5 184.0 L365.0 187.0 L375.0 190.0 L390.0 188.0 L402.0 189.0 L415.0 191.0 L424.0 192.5 L424.5 220.0 L431.0 230.0 L432.5 240.0 L430.0 252.0 L427.3 258.7 L418.0 262.7 L411.3 268.0 L400.7 276.0 L390.0 282.7 L382.0 292.0 L378.3 302.7 L379.0 313.3 L381.4 326.0 L370.0 324.5 L357.5 322.5 L347.5 312.5 L339.0 297.5 L331.0 282.5 L325.0 270.0 L317.5 264.0 L305.0 261.0 L296.0 262.5 L291.0 271.0 L285.0 272.5 L273.0 265.5 L268.0 261.0 L266.0 256.0 L263.0 248.0 L258.0 243.0 L253.0 238.0 L247.0 230.0 L245.0 226.0 L249.0 222.5 L291.0 222.0 L291.8 144.2Z" fill="none" stroke="#8c7b5e" stroke-width="0.9" stroke-linejoin="round"/>
<path d="M84.0 200.0 L120.5 197.0 L120.0 205.5 L133.0 212.5 L154.0 223.0 L164.5 227.5 L171.0 230.5 L202.0 231.6 L214.5 232.0 L214.5 224.2 L236.0 225.0 L245.0 226.0 L247.0 230.0 L253.0 238.0 L258.0 243.0 L263.0 248.0 L266.0 256.0 L268.0 261.0 L273.0 265.5 L285.0 272.5 L291.0 271.0 L296.0 262.5 L305.0 261.0 L317.5 264.0 L325.0 270.0 L331.0 282.5 L339.0 297.5 L347.5 312.5 L357.5 322.5 L370.0 324.5 L381.4 326.0 L379.0 340.0 L376.0 357.5 L375.0 375.0 L373.0 390.0 L380.0 405.0 L387.5 420.0 L397.5 435.0 L410.0 447.5 L422.5 455.0 L435.0 457.5 L447.5 452.5 L462.5 448.2 L473.0 444.5 L483.5 438.5 L491.0 429.5 L492.5 419.0 L493.2 410.0 L497.0 404.0 L506.0 398.0 L518.0 393.5 L530.0 391.2 L542.0 391.2 L546.5 389.0 L551.0 392.0 L551.8 399.5 L548.0 408.5 L545.0 416.0 L543.5 423.5 L543.5 432.5 L540.5 441.5 L539.0 447.5 L533.0 446.0 L527.0 447.5 L524.0 453.5 L518.8 455.0 L518.8 457.2 L489.5 458.8 L487.5 469.0 L499.0 482.5 L490.0 487.5 L475.0 495.0 L472.5 516.0 L465.0 507.5 L450.0 500.0 L435.0 492.5 L417.5 495.0 L400.0 501.0 L385.0 500.0 L367.5 492.5 L350.0 487.5 L330.0 480.0 L318.0 470.0 L306.0 462.8 L293.8 459.2 L281.5 454.0 L274.5 447.0 L265.8 442.6 L257.0 438.2 L250.0 427.8 L248.2 421.6 L252.6 415.5 L250.9 405.0 L249.0 392.8 L247.4 385.0 L242.5 382.5 L232.5 370.0 L220.0 357.5 L210.0 345.0 L200.0 332.5 L190.0 315.0 L180.0 302.5 L172.5 290.0 L165.0 282.5 L155.0 270.0 L147.5 255.0 L142.5 242.5 L130.0 230.0 L116.0 229.0 L122.5 252.5 L132.5 270.0 L142.5 282.5 L147.5 295.0 L155.0 302.5 L165.0 312.5 L167.5 327.5 L172.5 340.0 L177.5 350.0 L185.0 360.0 L189.0 366.0 L185.0 374.0 L180.0 375.0 L175.0 365.0 L165.0 359.0 L155.0 350.0 L147.5 340.0 L147.5 322.5 L137.5 312.5 L127.5 305.0 L117.5 297.5 L110.0 287.5 L122.5 282.5 L120.0 272.5 L112.5 262.5 L101.0 252.5 L95.0 235.0 L92.0 224.0 L88.2 215.8 L86.0 209.0 L84.0 200.0Z" fill="#fdfdfd"/>
<path d="M486.6 481.1L489.0 484.3M486.6 481.1L482.9 478.9M489.0 484.3L489.2 486.3M482.8 489.7L488.6 486.7M482.8 489.7L482.4 489.7M482.9 478.9L482.4 489.7M489.2 486.3L488.6 486.7M482.8 489.7L483.4 490.8M488.6 486.7L488.6 488.2M487.9 466.7L487.6 466.6M487.6 466.6L488.0 463.4M488.6 463.3L488.0 463.4M281.5 409.1L277.4 406.8M281.5 409.1L281.2 410.6M276.8 409.1L276.5 408.2M277.4 406.8L276.5 408.2M329.1 463.8L328.6 467.6M329.1 463.8L330.6 462.9M328.6 467.6L334.4 470.0M330.6 462.9L334.7 469.6M334.4 470.0L334.7 469.6M369.2 484.0L367.1 485.5M367.1 485.5L367.1 486.2M367.1 486.2L368.6 486.9M409.2 448.7L409.1 450.8M409.1 450.8L407.4 451.3M421.4 464.3L417.6 470.5M421.4 464.3L423.2 468.7M423.2 468.7L422.2 470.9M422.2 470.9L419.4 471.2M481.9 460.9L482.0 460.9M479.2 458.3L480.8 456.9M482.0 460.9L481.5 457.0M481.5 457.0L480.8 456.9M470.4 461.8L471.1 460.1M466.9 463.5L467.9 459.4M467.9 459.4L468.3 459.3M468.3 459.3L471.1 460.1M477.8 490.3L473.7 485.5M477.8 490.3L475.5 491.5M475.5 491.5L469.4 487.1M472.9 485.0L473.7 485.5M472.9 485.0L471.7 485.6M480.1 479.8L479.8 486.1M477.0 482.0L477.0 484.5M479.8 486.1L477.0 484.5M482.9 478.9L482.7 478.8M482.7 478.8L480.6 479.1M482.4 489.7L481.1 489.8M481.1 489.8L479.8 486.1M480.4 490.3L481.1 489.8M480.4 490.3L477.8 490.3M473.7 485.5L477.0 484.5M491.2 486.8L489.6 486.5M489.6 486.5L489.8 487.6M489.2 486.3L489.6 486.5M487.6 466.6L486.5 468.2M482.8 461.8L482.6 462.1M482.8 461.8L487.3 462.4M487.3 462.4L488.0 463.4M482.8 461.8L482.0 460.9M483.1 475.7L483.1 475.3M483.1 475.7L483.1 477.9M483.1 475.3L488.3 472.0M483.1 477.9L489.6 473.5M489.6 473.5L488.3 472.0M482.8 475.5L483.1 475.7M483.1 475.1L483.1 475.3M482.7 478.8L483.1 477.9M486.5 469.8L488.3 472.0M486.6 481.1L491.6 474.2M491.6 474.2L489.6 473.5M319.0 462.7L319.1 460.4M319.0 462.7L321.5 464.7M324.5 460.4L319.7 458.6M324.5 460.4L324.8 462.8M324.8 462.8L322.1 464.8M319.1 460.4L319.7 458.6M321.5 464.7L322.1 464.8M324.8 462.8L329.1 463.8M328.6 467.6L327.0 469.5M327.0 469.5L323.5 468.8M322.1 464.8L323.5 468.8M324.5 460.4L326.0 456.6M319.7 458.6L319.5 457.3M319.5 457.3L322.8 453.9M326.0 456.6L322.8 453.9M330.6 462.9L332.0 461.3M332.0 461.3L327.6 456.5M326.0 456.6L327.6 456.5M332.0 461.3L334.1 460.7M334.1 460.7L333.9 457.3M332.7 453.2L329.1 454.6M327.6 456.5L329.1 454.6M321.7 445.3L321.1 444.6M321.7 445.3L324.0 445.2M324.0 445.2L325.1 439.8M321.1 444.6L325.1 439.8M274.6 447.1L275.1 444.6M277.0 449.5L279.5 444.9M275.1 444.6L278.7 443.0M278.7 443.0L279.5 444.9M270.4 445.0L272.2 443.2M272.2 443.2L273.9 443.5M273.9 443.5L275.1 444.6M266.7 443.1L270.6 440.8M272.2 443.2L270.6 440.8M275.2 408.4L276.5 408.2M497.0 406.3L494.6 408.3M497.0 409.8L494.3 409.0M494.6 408.3L494.3 409.0M493.7 409.2L494.1 409.2M494.1 409.2L494.3 409.0M494.6 408.3L494.5 408.0M346.6 485.7L349.9 485.7M346.6 485.7L346.4 486.2M349.9 485.7L351.3 487.9M345.5 485.0L343.7 485.1M345.5 485.0L346.6 485.7M345.5 485.0L345.0 481.0M345.0 481.0L347.4 477.0M349.9 485.7L352.0 481.2M347.4 477.0L351.6 480.1M352.0 481.2L351.6 480.1M407.8 457.1L405.8 455.8M407.8 457.1L407.6 458.0M405.8 455.8L404.6 456.4M405.5 454.1L405.8 455.8M369.1 477.3L369.2 477.1M369.1 477.3L369.3 477.6M422.4 455.0L421.9 456.2M421.9 456.2L421.4 456.3M421.4 456.3L418.7 454.6M418.5 452.6L418.7 454.6M413.6 449.7L413.0 451.8M417.6 452.1L413.0 451.8M409.1 450.8L411.1 452.6M413.0 451.8L411.1 452.6M409.1 456.3L411.1 454.2M409.1 456.3L407.8 457.1M411.1 452.6L411.1 454.2M410.2 462.6L411.9 467.4M410.2 462.6L412.0 460.2M411.9 467.4L418.2 462.5M412.0 460.2L414.9 458.0M418.2 462.5L415.7 458.1M415.7 458.1L414.9 458.0M411.8 467.8L411.5 468.0M411.8 467.8L411.9 467.4M408.5 461.6L410.2 462.6M411.2 468.0L411.5 468.0M409.1 456.3L412.0 460.2M421.4 464.3L421.4 463.1M421.4 463.1L418.2 462.5M411.8 467.8L412.5 468.5M411.1 454.2L414.9 458.0M421.4 463.1L421.4 463.1M421.4 463.1L421.4 456.3M418.7 454.6L415.7 458.1M438.2 493.2L442.3 494.8M438.2 493.2L437.8 493.9M442.5 496.2L442.5 496.2M442.5 496.2L442.3 494.8M443.5 496.8L442.5 496.2M445.0 497.5L448.2 494.2M442.3 494.8L444.3 492.4M438.2 493.2L437.4 491.0M423.2 468.7L424.5 468.7M424.5 468.7L426.2 472.8M422.2 470.9L423.6 472.6M439.5 471.1L443.3 467.4M439.5 471.1L436.3 469.6M443.3 467.4L436.0 467.3M436.3 469.6L436.0 467.3M440.2 473.8L439.5 471.1M443.4 467.4L444.3 468.0M443.4 467.4L443.3 467.4M433.2 473.4L436.3 469.6M453.4 450.8L453.3 451.2M452.3 451.1L453.3 451.2M469.7 445.9L469.6 445.7M466.8 452.5L466.2 450.8M465.2 447.8L465.0 447.4M466.8 452.5L468.6 452.5M478.7 455.2L479.2 456.3M479.2 456.3L480.8 456.9M481.5 457.0L482.7 455.8M482.3 455.0L482.7 455.8M477.1 456.5L476.9 456.4M477.1 456.5L476.0 459.5M472.9 454.8L472.7 459.7M474.2 460.2L473.1 460.0M473.1 460.0L472.7 459.7M479.2 456.3L477.1 456.5M469.8 453.4L468.3 459.3M471.1 460.1L472.7 459.7M473.1 460.6L473.1 460.0M475.5 491.5L472.4 494.8M469.2 487.2L467.8 491.5M467.8 491.5L472.4 494.8M480.4 490.3L480.2 492.4M474.5 499.1L472.9 499.9M472.4 494.8L472.9 499.9M474.2 501.6L472.3 501.7M472.9 499.9L472.3 501.7M472.9 485.0L473.0 484.7M489.5 456.4L488.8 457.1M484.4 455.5L484.6 455.0M484.4 455.5L487.9 457.5M487.9 457.5L488.8 457.1M489.5 457.6L488.8 457.1M482.7 455.8L484.4 455.5M487.3 462.4L487.9 457.5M364.0 416.6L370.5 414.9M364.0 416.8L369.5 419.8M370.7 419.2L369.5 419.8M370.7 419.2L371.1 417.2M371.1 417.2L370.5 414.9M370.5 414.9L370.4 413.0M362.7 409.8L370.4 413.0M354.5 431.9L355.3 432.0M494.3 411.1L494.1 409.2M325.9 364.5L328.0 361.0M325.9 364.5L330.1 366.3M269.7 403.0L269.8 398.8M269.7 403.0L274.8 401.6M269.8 398.8L272.3 397.1M281.5 409.1L284.0 406.9M284.0 406.9L286.2 408.0M286.9 411.6L286.7 412.0M286.9 411.6L286.6 408.6M286.6 408.6L286.2 408.0M284.5 398.6L284.5 399.6M280.7 402.9L281.0 402.9M281.0 402.9L284.5 399.6M277.4 406.8L277.7 404.6M284.0 406.9L283.0 405.1M281.0 402.9L283.0 405.1M314.4 378.2L322.7 377.6M314.4 378.2L313.4 379.0M313.4 379.0L316.6 382.3M316.6 382.3L320.5 382.7M320.5 382.7L322.9 378.0M322.9 378.0L322.7 377.6M310.5 349.5L313.1 349.5M310.5 349.5L310.2 349.4M313.7 348.5L313.1 349.5M310.2 349.4L309.9 346.6M350.7 389.1L344.6 391.4M350.7 389.1L350.7 392.6M344.6 391.4L350.4 393.5M350.7 392.6L350.4 393.5M343.5 391.5L343.6 391.2M343.5 391.5L346.0 395.3M343.6 391.2L344.6 391.4M350.7 394.6L350.4 393.5M350.7 394.6L348.4 397.9M346.0 395.3L348.4 397.9M341.0 395.3L343.5 391.5M341.0 395.3L341.3 398.1M346.0 395.3L341.3 398.1M313.1 349.5L315.2 351.4M315.2 351.4L315.7 351.4M315.7 351.4L317.6 350.2M323.8 352.7L323.2 353.5M323.2 353.5L322.6 352.2M313.1 450.6L312.5 449.4M313.1 450.6L321.5 451.0M312.5 449.4L312.1 448.1M321.5 451.0L321.7 445.3M318.9 443.4L313.2 445.8M318.9 443.4L321.1 444.6M312.1 448.1L313.2 445.8M319.1 460.4L314.4 459.4M319.5 457.3L313.8 455.3M314.4 459.4L313.8 455.3M319.0 462.7L316.4 463.4M316.4 463.4L313.5 463.5M314.4 459.4L313.5 463.5M313.1 450.6L312.9 454.1M321.5 451.0L322.5 451.9M322.5 451.9L322.8 453.9M312.9 454.1L313.8 455.3M318.0 467.8L316.9 469.3M318.0 467.8L319.1 466.8M319.1 466.8L321.6 471.1M321.6 471.1L320.8 472.3M316.4 463.4L318.0 467.8M313.5 463.5L311.8 464.9M311.8 464.9L314.8 468.0M321.5 464.7L319.1 466.8M323.5 468.8L321.6 471.1M310.4 465.4L310.4 465.0M311.8 464.9L310.4 465.0M310.4 465.0L310.1 464.9M310.1 464.9L309.8 465.1M304.5 459.5L301.2 459.1M304.5 459.5L305.6 461.7M305.6 461.7L304.8 462.4M301.2 459.1L299.1 460.8M310.1 464.9L310.1 464.9M310.1 464.9L305.6 461.7M296.3 456.9L297.4 460.3M296.3 456.9L300.6 454.4M300.6 454.4L301.2 459.1M329.1 454.6L327.8 451.5M322.5 451.9L326.3 450.0M326.3 450.0L327.8 451.5M326.3 450.0L327.0 448.9M327.8 451.5L331.2 450.8M327.0 448.9L331.2 450.8M331.6 450.9L331.2 450.8M349.7 450.7L351.5 446.7M349.7 450.7L351.0 451.7M351.5 446.7L355.5 446.4M355.2 450.3L356.5 448.5M356.5 448.5L355.5 446.4M351.4 440.5L356.0 445.1M351.5 446.7L350.5 444.0M355.5 446.4L356.0 445.1M296.1 452.0L289.2 452.6M296.1 452.0L297.1 451.0M297.1 451.0L290.0 449.0M289.2 452.6L290.0 449.0M296.3 456.9L294.9 455.7M294.9 455.7L296.1 452.0M300.9 451.1L299.9 450.5M300.9 451.1L301.1 451.7M299.9 450.5L297.8 450.6M300.6 454.4L301.1 451.7M297.8 450.6L297.1 451.0M249.0 392.6L249.9 391.0M248.4 390.1L249.9 390.4M249.9 391.0L249.9 390.4M249.7 397.1L252.8 397.2M252.8 397.2L253.1 396.7M253.1 396.7L249.9 391.0M322.7 364.7L322.6 364.7M322.7 364.7L323.4 370.2M322.6 364.7L318.8 366.1M322.1 374.1L323.4 370.2M322.1 374.1L316.9 371.8M318.8 366.1L316.9 371.8M312.1 379.3L313.4 379.0M312.1 379.3L307.4 375.0M307.4 375.0L313.9 371.3M314.4 378.2L315.5 372.1M313.9 371.3L315.5 372.1M291.3 374.5L287.0 378.8M291.3 374.5L291.9 372.1M287.0 378.8L285.5 375.0M285.5 375.0L290.2 370.8M291.9 372.1L290.2 370.8M287.1 368.4L281.8 371.9M287.1 368.4L288.8 368.7M281.8 371.9L285.5 375.0M290.2 370.8L288.8 368.7M269.8 398.8L269.7 398.6M269.7 398.6L270.9 394.3M270.9 394.3L271.0 394.2M253.9 415.9L252.4 415.7M253.9 415.9L256.4 410.5M251.8 410.3L252.0 408.3M256.4 410.5L252.4 407.4M252.0 408.3L252.4 407.4M256.1 417.2L254.1 416.1M254.1 416.1L253.6 418.0M259.7 409.7L256.4 410.5M259.7 409.7L262.0 412.6M259.5 416.3L262.0 412.6M253.9 415.9L254.1 416.1M250.7 418.1L251.2 419.6M251.5 408.8L252.0 408.3M260.0 408.8L260.1 405.6M260.0 408.8L269.0 406.9M265.0 403.3L268.8 404.1M265.0 403.3L260.2 404.8M260.2 404.8L260.1 405.6M269.0 406.9L268.8 404.1M259.7 409.7L260.0 408.8M252.4 407.4L252.1 406.6M252.1 406.6L260.1 405.6M269.3 408.1L269.0 406.9M262.0 412.6L264.1 413.3M262.7 398.5L265.0 403.3M262.7 398.5L266.8 399.5M266.8 399.5L269.5 403.2M269.5 403.2L268.8 404.1M269.7 403.0L269.5 403.2M251.0 428.4L250.2 428.1M252.5 430.1L251.8 430.4M283.6 388.1L283.9 387.5M275.3 383.5L275.6 383.2M275.6 383.2L283.8 387.4M283.9 387.5L283.8 387.4M303.8 426.2L301.3 428.7M303.8 426.2L303.9 426.2M301.3 428.7L302.7 433.6M302.7 433.6L309.1 431.1M303.9 426.2L309.1 431.1M258.1 438.8L255.7 436.3M254.5 432.5L253.6 433.1M254.5 432.6L255.5 434.9M255.4 435.8L255.5 434.9M255.4 435.8L255.4 435.8M255.4 435.9L255.4 435.8M279.7 440.3L277.9 438.3M279.7 440.3L278.7 443.0M273.9 443.5L274.6 438.6M277.8 438.3L277.9 438.3M345.0 481.0L343.4 480.9M343.4 480.9L340.5 483.9M327.0 469.5L328.2 473.0M328.2 473.0L322.8 474.0M367.1 486.2L366.8 486.6M366.8 486.6L365.6 489.6M367.8 490.9L365.6 489.6M397.4 453.5L397.2 453.2M396.9 453.3L397.1 453.2M411.5 468.0L411.4 468.1M421.9 456.2L427.0 456.4M427.0 455.9L427.0 456.4M447.2 498.6L451.1 496.0M453.2 501.6L453.4 501.4M453.4 501.4L451.1 496.0M451.1 494.6L451.1 496.0M447.0 457.7L453.7 452.8M447.0 457.7L445.8 453.2M453.3 451.2L453.7 452.8M464.8 464.6L461.1 461.1M467.9 459.4L462.9 457.5M462.9 457.5L461.1 461.1M466.8 452.5L462.8 455.0M462.9 457.5L462.8 455.0M461.3 448.6L461.9 454.3M462.8 455.0L461.9 454.3M458.2 449.5L459.5 453.8M461.9 454.3L459.5 453.8M453.7 452.8L455.1 454.1M459.5 453.8L455.1 454.1M521.4 419.6L522.2 421.4M522.2 421.4L521.2 423.4M521.2 423.4L519.0 423.1M522.8 417.5L527.0 419.5M522.2 421.4L526.6 421.1M526.6 421.1L527.0 419.5M525.7 413.2L528.2 416.8M527.0 419.5L528.2 416.8M493.1 475.5L491.4 481.8M491.4 481.8L493.7 481.5M493.7 481.5L496.5 479.5M491.6 474.2L491.9 474.2M489.0 484.3L491.4 481.8M496.8 483.7L493.7 481.5M456.1 493.6L452.7 494.1M456.1 493.6L456.5 493.4M456.2 492.9L456.5 493.4M467.8 491.5L465.3 492.4M465.3 492.4L461.5 491.2M456.5 493.4L459.7 492.0M459.7 492.0L459.9 491.7M472.6 514.8L472.3 514.7M472.3 514.7L471.5 509.7M471.5 509.7L473.2 509.9M474.1 502.4L472.3 501.9M473.9 504.1L472.3 502.1M472.3 501.9L472.3 502.1M472.3 501.7L472.2 501.8M472.3 501.9L472.2 501.8M465.3 492.4L465.3 497.8M465.3 497.8L468.4 501.0M472.2 501.8L468.4 501.0M471.5 509.7L470.1 507.2M472.3 502.1L470.1 507.2M467.1 509.9L467.9 508.5M471.6 515.0L472.3 514.7M467.9 508.5L470.1 507.2M379.4 417.2L379.5 416.9M379.5 416.9L384.6 414.2M377.8 420.6L377.5 420.7M371.2 419.8L370.7 419.2M371.1 417.2L378.6 416.3M379.5 416.9L378.6 416.3M370.4 413.0L371.0 412.4M378.6 416.3L377.1 413.7M371.0 412.4L377.1 413.7M366.5 423.2L366.3 422.0M366.3 422.0L364.0 421.5M369.5 419.8L366.3 422.0M380.5 425.0L380.4 425.1M286.2 408.0L288.7 404.4M283.0 405.1L287.2 402.8M288.7 404.4L287.2 402.8M284.5 399.6L286.4 400.6M286.4 400.6L287.2 402.8M322.7 376.7L331.5 372.0M322.7 376.7L322.3 374.8M322.3 374.8L330.1 370.7M331.5 372.0L332.1 371.1M332.1 371.1L331.9 370.6M331.9 370.6L330.1 370.7M325.7 379.4L329.3 377.9M325.7 379.4L322.9 378.0M329.3 377.9L331.5 372.0M322.7 377.6L322.7 376.7M322.1 374.1L322.3 374.8M315.5 372.1L316.9 371.8M323.4 370.2L330.1 370.7M322.7 364.7L325.9 364.5M332.0 370.2L331.9 370.6M303.8 385.4L307.8 386.6M303.8 385.4L308.2 381.7M307.8 386.6L311.4 381.2M308.2 381.7L311.4 381.1M311.4 381.1L311.4 381.2M303.8 385.4L303.8 385.4M303.8 385.4L301.5 382.8M303.3 379.0L302.2 379.9M303.3 379.0L308.2 381.7M301.5 382.8L302.2 379.9M312.1 379.3L311.4 381.1M307.4 375.0L306.9 374.8M303.3 379.0L306.9 374.8M341.0 395.3L336.1 393.7M340.9 388.0L342.8 388.8M340.9 388.0L337.3 390.0M342.8 388.8L343.6 391.2M336.1 393.7L336.4 391.1M337.3 390.0L336.4 391.1M340.9 387.9L340.9 388.0M340.9 387.9L337.9 385.1M337.9 385.1L333.6 385.8M337.3 390.0L333.6 385.8M281.5 371.9L281.8 371.9M281.5 371.9L282.9 363.0M287.1 368.4L283.6 362.8M282.9 363.0L283.6 362.8M351.5 401.8L351.5 401.7M351.5 401.7L356.5 399.7M357.1 407.0L356.6 400.0M356.5 399.7L356.6 400.0M350.7 394.6L351.7 394.8M350.7 392.6L356.0 390.6M351.7 394.8L356.0 390.6M349.4 400.4L348.3 398.5M349.4 400.4L346.6 403.4M348.3 398.5L341.3 399.4M342.1 404.7L340.6 400.7M340.6 400.7L341.3 399.4M351.5 401.7L349.4 400.4M348.4 397.9L348.3 398.5M341.3 398.1L341.3 399.4M337.4 400.6L333.9 403.5M337.4 400.6L340.6 400.7M334.4 404.1L333.9 403.5M322.1 361.4L321.2 355.4M322.1 361.4L326.7 358.1M321.2 355.4L323.2 353.5M323.2 353.5L324.6 353.9M322.6 364.7L322.0 362.4M322.0 362.4L322.1 361.4M315.7 351.4L321.1 355.4M323.2 353.5L323.2 353.5M321.1 355.4L321.2 355.4M373.2 390.5L372.2 391.5M375.3 394.9L373.7 395.6M373.7 395.6L372.2 391.5M373.5 398.6L377.0 398.7M373.5 398.6L373.7 395.6M300.9 451.1L307.4 447.0M299.9 450.5L299.8 443.0M307.4 447.0L304.4 442.4M304.4 442.4L299.8 443.0M279.7 440.3L281.1 440.3M279.5 444.9L283.0 447.3M283.0 441.6L283.0 447.3M281.7 453.1L281.1 453.6M281.7 453.1L283.3 447.7M283.3 447.7L283.0 447.3M309.8 456.8L311.5 455.2M309.8 456.8L306.1 457.5M311.5 455.2L305.0 453.5M306.1 457.5L304.4 453.7M305.0 453.5L304.4 453.7M312.9 454.1L311.5 455.2M310.1 464.9L309.8 456.8M304.5 459.5L306.1 457.5M312.5 449.4L305.0 453.5M301.1 451.7L304.4 453.7M307.4 447.0L312.1 448.1M334.1 460.7L336.0 461.2M338.0 452.5L337.3 452.5M338.1 459.1L336.0 461.2M359.5 458.2L359.5 462.1M352.0 461.2L357.6 462.6M357.6 462.6L359.5 462.1M318.9 443.4L319.3 439.2M325.1 439.8L326.8 437.3M326.8 437.3L324.0 436.6M324.0 436.6L319.3 439.2M312.8 438.2L312.1 441.5M312.8 438.2L319.2 439.2M312.1 441.5L313.2 445.8M319.3 439.2L319.2 439.2M358.3 448.8L356.5 448.5M361.9 447.0L361.4 446.3M356.0 445.1L356.0 445.0M361.4 446.3L356.0 445.0M361.6 441.3L360.6 441.4M361.4 446.3L360.1 443.0M353.9 432.3L353.8 432.7M351.4 440.3L352.8 438.5M356.0 445.0L356.7 444.2M289.9 457.6L290.7 456.6M291.3 456.8L290.7 456.6M291.3 456.8L292.8 458.8M289.1 452.8L290.7 456.6M289.1 452.8L281.7 453.1M294.9 455.7L291.3 456.8M289.2 452.6L289.1 452.8M322.0 362.4L317.0 360.4M321.1 355.4L316.3 357.1M316.3 357.1L317.0 360.4M310.5 349.5L310.5 354.2M315.2 351.4L314.3 355.0M310.5 354.2L314.3 355.0M316.3 357.1L315.7 356.9M315.7 356.9L314.4 355.3M314.3 355.0L314.4 355.3M315.7 356.9L311.4 360.9M317.0 360.4L312.6 364.0M311.4 360.9L312.6 364.0M306.5 373.8L305.2 372.8M306.5 373.8L310.7 366.2M304.0 368.0L305.2 372.8M304.0 368.0L306.7 365.4M306.7 365.4L310.7 366.2M306.9 374.8L306.5 373.8M313.9 371.3L311.6 365.9M310.7 366.2L311.6 365.9M318.8 366.1L312.6 364.6M311.6 365.9L312.6 364.6M312.6 364.6L312.6 364.0M304.0 368.0L300.8 366.9M300.8 366.9L302.6 362.6M304.3 361.4L306.7 365.4M304.3 361.4L303.1 361.9M302.6 362.6L303.1 361.9M287.6 394.2L288.9 394.2M285.5 387.1L283.9 387.5M285.5 387.1L290.9 391.7M290.9 391.7L288.9 394.2M286.4 400.6L292.2 398.9M288.9 394.2L292.2 398.9M296.2 390.4L294.0 390.6M296.2 390.4L297.2 384.0M297.2 384.0L296.3 383.5M292.7 390.5L294.0 390.6M292.7 390.5L292.4 386.8M296.3 383.5L292.4 386.8M301.2 372.6L297.5 368.7M301.2 372.6L298.3 376.5M297.5 376.3L298.3 376.5M297.5 376.3L294.7 371.7M294.7 371.7L297.5 368.7M305.2 372.8L301.2 372.6M300.8 366.9L297.7 367.7M297.7 367.7L297.5 368.7M302.2 379.9L298.3 376.5M301.5 382.8L297.2 384.0M294.5 378.8L293.5 381.3M294.5 378.8L297.5 376.3M296.3 383.5L293.5 381.3M291.3 374.5L294.5 378.8M291.9 372.1L294.7 371.7M297.7 367.7L296.8 366.3M288.8 368.7L289.1 368.3M289.1 368.3L296.8 366.3M269.7 398.6L266.5 395.2M266.8 399.5L265.9 395.5M266.5 395.2L265.9 395.5M270.9 394.3L267.3 394.5M266.5 395.2L267.3 394.5M252.8 397.2L252.7 399.3M250.4 401.7L252.7 399.3M288.7 386.5L287.2 386.3M288.7 386.5L291.0 384.8M287.2 386.3L288.3 380.1M291.0 384.8L292.1 381.5M288.3 380.1L292.1 381.5M285.5 387.1L287.2 386.3M292.3 390.6L290.9 391.7M292.3 390.6L288.7 386.5M292.7 390.5L292.3 390.6M292.4 386.8L291.0 384.8M293.5 381.3L292.1 381.5M287.0 378.8L287.0 379.0M287.0 379.0L288.3 380.1M283.6 380.5L283.4 384.9M283.6 380.5L279.9 379.3M283.4 384.9L275.9 382.6M279.9 379.3L279.3 379.6M279.3 379.6L276.6 381.2M276.6 381.2L275.9 382.6M283.8 387.4L283.4 384.9M287.0 379.0L283.6 380.5M275.6 383.2L275.9 382.6M274.8 373.4L279.3 379.6M274.8 373.4L274.1 377.4M274.1 377.4L276.6 381.2M305.7 425.4L310.5 425.5M305.7 425.4L307.1 421.8M310.5 425.5L310.2 424.4M310.3 431.1L313.2 428.0M310.3 431.1L311.0 435.8M316.0 434.8L317.1 431.1M316.0 434.8L312.5 437.2M317.1 431.1L314.1 427.9M311.0 435.8L312.5 437.2M313.2 428.0L314.1 427.9M303.9 426.2L305.7 425.4M309.1 431.1L310.3 431.1M310.5 425.5L313.2 428.0M312.8 438.2L312.5 437.2M318.1 436.6L319.2 439.2M318.1 436.6L316.0 434.8M315.7 425.8L314.1 427.9M270.6 440.8L271.2 439.0M528.8 424.5L526.6 421.1M528.8 424.5L533.0 420.6M528.2 416.8L532.9 417.3M533.0 420.6L532.9 417.3M517.2 425.8L517.3 427.7M517.3 427.7L516.4 428.0M516.0 428.1L515.8 428.2M521.9 426.8L521.8 426.9M521.9 426.8L521.2 423.4M521.8 426.9L517.3 425.6M520.8 428.0L521.8 426.9M518.5 428.0L517.3 427.7M516.0 430.6L515.9 430.4M532.0 403.9L533.5 405.1M530.6 405.9L532.8 408.8M532.8 408.8L533.5 408.7M533.5 405.1L533.5 408.7M532.0 408.9L532.8 408.8M532.0 408.9L527.1 411.1M532.9 417.3L535.1 415.2M535.1 415.2L534.9 409.7M533.5 408.7L534.9 409.7M532.0 408.9L529.8 407.1M544.7 401.2L545.3 401.6M544.7 401.2L537.3 401.9M537.3 401.9L541.3 407.7M545.3 401.6L541.3 407.7M533.5 405.1L535.4 400.7M535.4 400.7L537.3 401.9M534.9 409.7L541.1 408.0M541.3 407.7L541.1 408.0M343.4 480.9L340.4 479.4M339.4 483.5L339.5 480.5M339.5 480.5L340.4 479.4M347.4 477.0L347.0 476.0M347.0 476.0L342.8 475.1M342.8 475.1L340.6 478.3M340.6 478.3L340.4 479.4M335.3 474.5L336.0 476.3M335.3 474.5L333.7 473.3M333.7 473.3L332.8 473.7M332.8 473.7L332.0 479.9M336.0 476.3L335.6 479.4M335.6 479.4L334.4 480.6M334.4 480.6L332.0 479.9M342.8 475.1L341.5 473.5M341.5 473.5L335.3 474.5M340.6 478.3L336.0 476.3M334.4 470.0L333.7 473.3M328.2 473.0L328.8 473.5M328.8 473.5L330.2 473.9M330.2 473.9L332.8 473.7M339.5 480.5L335.6 479.4M334.7 481.8L334.4 480.6M363.9 480.2L360.4 482.3M363.9 480.2L363.8 479.8M363.8 479.8L358.2 477.9M360.4 482.3L357.0 482.9M358.2 477.9L356.2 482.2M356.2 482.2L357.0 482.9M367.1 485.5L363.9 480.2M366.8 486.6L360.8 485.9M360.8 485.9L360.4 482.3M369.1 477.3L364.5 478.2M364.5 478.2L363.8 479.8M357.3 487.6L360.8 485.9M357.3 487.6L357.0 482.9M368.2 473.7L364.4 472.1M364.5 478.2L364.2 476.8M364.4 472.1L364.2 476.8M429.9 473.1L429.1 468.1M436.0 467.3L435.2 465.6M435.2 465.6L429.1 468.1M424.5 468.7L428.8 467.8M428.8 467.8L429.1 468.1M457.7 465.4L458.6 462.1M458.6 462.1L461.1 461.1M468.4 501.0L462.4 504.3M467.9 508.5L462.2 505.1M462.2 505.1L462.4 504.3M453.4 501.4L454.8 501.3M454.8 501.3L455.8 502.9M462.2 505.1L461.7 505.9M442.3 460.9L443.4 467.4M442.3 460.9L442.4 460.8M442.4 460.8L447.0 464.1M455.0 458.4L455.8 460.5M455.0 458.4L446.9 457.8M446.9 457.8L446.6 458.5M455.0 460.8L446.9 458.7M455.0 460.8L455.8 460.5M446.6 458.5L446.9 458.7M455.1 454.1L455.0 458.4M458.6 462.1L455.8 460.5M447.0 457.7L446.9 457.8M453.0 462.1L455.0 460.8M449.0 461.4L446.9 458.7M442.4 460.8L446.6 458.5M371.0 412.4L371.3 411.8M377.1 413.7L377.9 409.3M371.3 411.8L377.9 409.3M340.9 387.9L341.5 382.1M342.8 388.8L347.1 384.9M347.1 384.9L344.8 382.4M341.5 382.1L341.9 381.7M337.9 385.1L337.7 382.2M341.5 382.1L337.7 382.2M337.7 382.2L335.7 379.4M336.4 378.0L335.7 379.4M332.1 371.1L332.8 371.6M335.7 379.4L334.0 380.3M329.5 378.0L334.0 380.3M329.5 378.0L334.9 375.4M329.3 377.9L329.5 378.0M307.1 390.7L305.1 390.7M307.1 390.7L308.2 393.2M308.2 393.2L308.1 393.3M303.8 385.4L302.8 388.8M307.1 390.7L309.1 387.9M309.1 387.9L307.8 386.6M302.8 388.8L303.2 389.3M297.0 391.0L293.7 399.7M297.0 391.0L297.4 391.2M297.4 391.2L298.3 392.5M295.7 399.2L293.8 400.0M293.8 400.0L293.6 399.8M293.7 399.7L293.6 399.8M296.2 390.4L297.0 391.0M294.0 390.6L293.7 399.7M302.8 388.8L297.4 391.2M296.3 404.1L294.0 402.9M294.0 402.9L293.8 400.0M288.7 404.4L293.5 403.5M294.0 402.9L293.5 403.5M292.2 398.9L293.6 399.8M292.3 407.7L293.5 403.5M292.3 407.7L292.9 410.5M293.5 403.5L295.0 407.7M286.6 408.6L292.3 407.7M293.5 403.5L293.5 403.5M286.9 411.6L288.3 411.6M309.1 387.9L309.9 388.2M308.2 393.2L312.9 393.7M309.9 388.2L312.9 393.7M310.4 395.9L313.2 393.8M312.9 393.7L313.2 393.8M314.1 394.3L321.6 392.7M314.1 394.3L314.2 394.5M314.2 394.5L318.3 398.3M321.6 392.7L318.3 398.3M313.8 394.0L313.2 393.8M313.8 394.0L314.1 394.3M314.2 394.5L314.1 394.8M312.0 398.2L314.1 394.8M337.4 400.6L335.5 398.1M336.1 393.7L334.5 395.1M335.5 398.1L334.5 395.1M325.7 379.4L328.0 384.4M320.5 382.7L320.7 387.0M320.7 387.0L323.4 389.4M323.4 389.4L328.0 384.4M334.0 380.3L331.6 385.0M328.0 384.4L331.6 385.0M333.6 385.8L331.9 385.4M331.6 385.0L331.9 385.4M308.1 345.7L303.9 346.5M303.6 343.8L303.9 346.5M310.2 349.4L305.8 350.3M305.8 350.3L303.9 347.8M303.9 346.5L303.9 347.8M286.6 353.2L287.1 354.3M285.1 354.2L287.1 354.3M283.6 362.8L285.0 361.1M289.5 367.4L289.1 368.3M289.5 367.4L288.3 359.7M288.3 359.7L285.0 361.1M274.8 373.4L274.8 372.5M274.1 377.4L273.0 377.5M274.8 372.5L274.7 372.4M372.2 391.5L370.1 391.9M367.5 388.8L367.4 389.9M367.4 389.9L370.1 391.9M351.7 394.8L357.2 397.0M358.3 391.1L357.8 389.6M358.3 391.1L357.8 395.6M356.0 390.6L357.8 389.6M357.8 395.6L357.2 397.0M358.3 391.1L364.1 392.8M364.1 392.8L364.6 394.9M357.8 395.6L364.6 394.9M356.5 399.7L357.3 397.6M356.6 400.0L361.1 403.1M361.1 403.1L362.6 398.9M362.6 398.9L357.3 397.6M357.3 397.6L357.2 397.0M362.6 398.9L363.8 398.8M364.6 394.9L366.0 396.7M363.8 398.8L366.0 396.7M373.5 398.6L371.2 400.5M370.1 391.9L367.4 396.8M371.2 400.5L367.4 396.8M367.4 389.9L365.5 390.4M365.5 390.4L364.1 392.8M367.4 396.8L366.0 396.7M371.0 404.6L362.8 408.1M371.0 404.6L371.1 404.3M371.1 404.3L371.0 401.4M371.0 401.4L364.7 402.4M364.7 402.4L362.8 405.8M362.8 405.8L362.8 408.1M362.5 408.8L362.8 408.1M371.5 409.8L371.3 411.8M371.5 409.8L371.0 404.6M363.8 398.8L364.7 402.4M371.2 400.5L371.2 400.9M371.2 400.9L371.0 401.4M361.1 403.1L362.8 405.8M298.6 442.4L298.6 435.4M298.6 442.4L299.5 442.8M299.5 442.8L303.0 435.1M298.6 435.4L302.5 434.2M302.5 434.2L303.0 435.1M297.8 450.6L293.7 445.8M299.8 443.0L299.5 442.8M293.7 445.8L296.5 442.4M296.5 442.4L298.6 442.4M307.8 440.5L305.1 440.8M307.8 440.5L309.8 436.3M305.1 440.8L304.7 437.2M309.8 436.3L304.7 437.2M312.1 441.5L307.8 440.5M304.4 442.4L305.1 440.8M311.0 435.8L309.8 436.3M303.0 435.1L304.7 437.2M302.7 433.6L302.5 434.2M277.9 438.3L277.9 438.3M298.5 435.4L295.3 437.3M298.5 435.4L298.6 435.4M296.5 442.4L293.9 439.9M289.9 446.5L290.3 446.2M289.9 446.5L287.7 446.0M290.3 446.2L290.3 443.4M290.0 449.0L289.9 446.5M293.7 445.8L290.3 446.2M283.3 447.7L286.3 446.3M339.8 451.4L339.3 451.9M346.2 450.3L344.9 449.4M347.3 450.8L349.7 450.7M350.2 461.9L347.8 464.5M346.5 461.3L346.9 463.5M346.9 463.5L347.8 464.5M342.6 460.5L343.4 462.2M346.9 463.5L343.4 462.2M336.0 461.2L337.6 463.5M343.4 462.2L337.6 463.5M348.6 466.7L351.3 466.9M348.6 466.7L347.9 466.0M357.6 462.6L353.6 466.2M347.9 466.0L347.8 464.5M351.3 466.9L353.6 466.2M350.3 431.6L348.7 431.8M348.9 427.0L346.0 427.1M348.7 431.8L346.0 427.1M346.3 418.1L345.1 418.4M347.2 421.0L346.0 423.0M342.0 421.5L346.0 423.0M346.0 427.1L344.6 426.3M344.6 426.3L346.0 423.0M330.9 448.4L329.8 446.9M332.4 445.1L331.6 444.8M331.6 444.8L329.8 446.9M327.0 448.9L327.4 447.4M329.8 446.9L327.4 447.4M324.0 445.2L325.9 445.3M325.9 445.3L327.4 447.4M326.8 437.3L328.2 437.4M325.9 445.3L329.2 438.5M328.2 437.4L329.2 438.5M331.6 444.8L329.3 438.6M329.2 438.5L329.3 438.6M320.5 431.3L321.9 431.8M320.5 431.3L317.6 431.2M319.0 434.6L324.0 436.4M319.0 434.6L317.6 431.2M324.0 436.4L321.9 431.8M324.0 436.6L324.0 436.4M318.1 436.6L319.0 434.6M317.1 431.1L317.6 431.2M328.2 428.7L328.1 428.5M328.2 428.7L329.6 433.2M325.6 428.4L321.9 431.8M329.6 433.2L328.2 437.4M359.5 462.1L359.7 462.4M359.7 462.4L362.3 461.7M280.3 372.5L279.7 372.4M280.3 372.5L281.4 371.9M279.7 372.4L276.6 365.6M281.4 371.9L278.6 362.9M277.9 363.1L278.3 362.8M278.6 362.9L278.3 362.8M274.8 372.5L279.7 372.4M279.9 379.3L280.3 372.5M281.5 371.9L281.4 371.9M282.9 363.0L278.6 362.9M278.3 362.5L278.3 362.8M282.0 356.2L285.0 361.1M262.7 398.5L261.6 397.2M265.9 395.5L263.0 395.5M263.0 395.5L261.6 397.2M259.3 398.9L259.6 397.9M259.3 398.9L259.2 403.5M259.2 403.5L260.2 404.8M261.6 397.2L259.6 397.9M253.1 396.7L256.5 395.5M259.3 398.9L254.6 400.5M252.7 399.3L254.6 400.5M259.6 397.9L256.5 395.5M252.0 406.5L256.3 403.4M252.0 406.5L251.0 405.7M251.0 405.7L254.8 401.2M256.3 403.4L254.8 401.2M259.2 403.5L256.3 403.4M252.1 406.6L252.0 406.5M254.6 400.5L254.8 401.2M298.4 425.0L296.4 427.3M295.4 426.3L295.7 427.2M296.4 427.3L295.7 427.2M303.8 426.2L302.7 422.9M301.3 428.7L296.4 427.3M295.1 428.0L295.7 427.2M295.1 428.0L294.8 428.0M264.7 442.1L264.6 441.2M258.4 438.9L259.1 438.4M255.5 434.9L256.4 435.1M537.1 423.8L538.6 421.4M537.1 423.8L533.0 420.6M535.1 415.2L535.7 415.5M538.6 421.4L535.7 415.5M521.9 426.8L523.7 427.4M528.8 424.5L528.8 426.3M528.8 426.3L523.7 427.4M523.7 427.4L523.8 428.0M535.4 392.6L535.3 391.2M535.4 400.7L535.2 399.1M537.0 396.5L540.0 395.9M544.7 401.2L540.0 395.9M541.1 408.0L543.2 410.5M539.0 416.0L535.7 415.5M539.0 416.0L543.7 414.2M543.2 410.5L543.7 414.2M364.4 472.1L363.8 469.8M363.8 469.8L366.9 469.2M354.8 471.9L353.0 473.5M354.8 471.9L356.0 471.0M356.0 471.0L358.5 471.0M358.5 471.0L358.0 474.8M353.0 473.5L354.6 476.5M358.0 474.8L357.3 476.2M354.6 476.5L357.3 476.2M348.9 472.8L353.0 473.5M348.9 472.8L348.7 468.7M348.7 468.7L354.8 471.9M348.6 466.7L348.7 468.7M351.3 466.9L356.0 471.0M353.6 466.2L360.3 469.5M360.3 469.5L358.5 471.0M347.0 476.0L348.9 472.8M351.6 480.1L354.6 476.5M358.2 477.9L357.3 476.2M364.2 476.8L358.0 474.8M352.0 481.2L356.2 482.2M392.7 453.9L392.7 453.7M392.3 450.8L392.3 450.8M392.6 453.9L392.2 454.0M442.3 460.9L441.5 460.7M440.8 455.2L441.5 460.7M435.2 465.6L435.5 464.4M435.5 464.4L441.3 460.7M441.5 460.7L441.3 460.7M427.0 456.4L428.0 458.8M428.0 458.8L430.6 456.6M435.5 464.4L434.9 463.9M428.8 467.8L427.5 464.3M434.9 463.9L427.5 464.3M421.4 463.1L426.5 462.1M428.0 458.8L428.2 459.6M428.2 459.6L426.5 462.1M426.5 462.1L427.5 464.3M456.5 496.6L455.6 501.0M456.5 496.6L460.4 497.3M455.6 501.0L459.5 500.5M459.5 500.5L460.7 498.4M460.4 497.3L460.7 498.4M456.1 493.6L456.5 496.6M454.8 501.3L455.6 501.0M459.7 492.0L460.4 497.3M462.4 504.3L459.5 500.5M465.3 497.8L460.7 498.4M376.4 406.2L378.3 403.3M376.4 406.2L376.7 407.0M376.7 407.0L378.1 409.2M379.0 402.8L378.3 403.3M382.1 409.3L378.1 409.2M371.2 400.9L378.3 403.3M371.1 404.3L376.4 406.2M371.5 409.8L376.7 407.0M377.9 409.3L378.1 409.2M315.9 384.4L316.1 387.4M315.9 384.4L312.0 382.6M316.1 387.4L312.8 386.2M312.0 382.6L312.8 386.2M316.6 382.3L315.9 384.4M320.7 387.0L316.2 387.4M316.2 387.4L316.1 387.4M311.4 381.2L312.0 382.6M316.2 387.4L313.8 394.0M309.9 388.2L312.8 386.2M314.1 394.8L314.6 399.5M319.0 399.1L318.3 398.3M331.2 392.5L324.0 392.7M331.2 392.5L332.0 389.4M332.0 389.4L331.8 388.9M331.8 388.9L323.7 391.1M324.0 392.7L323.7 392.1M323.7 392.1L323.7 391.1M332.8 394.9L332.3 395.4M332.8 394.9L331.2 392.5M332.3 395.4L324.7 395.9M324.7 395.9L324.0 392.7M336.4 391.1L332.0 389.4M332.8 394.9L334.5 395.1M331.9 385.4L331.8 388.9M323.4 389.4L323.7 391.1M324.5 400.1L324.7 400.0M321.6 392.7L323.7 392.1M324.7 400.0L324.7 395.9M304.3 361.4L304.9 360.0M303.1 361.9L298.0 359.8M304.9 360.0L299.5 356.5M298.0 359.8L299.5 356.5M304.9 360.0L306.0 359.1M306.0 359.1L303.9 353.5M303.9 353.5L299.3 354.3M299.5 356.5L299.3 354.3M298.8 343.1L297.5 343.6M297.5 343.6L297.4 343.4M357.8 389.6L357.8 387.1M365.5 390.4L362.1 387.6M359.4 386.7L357.8 387.1M294.0 432.1L294.7 431.7M294.4 434.0L294.9 432.0M294.7 431.7L294.9 432.0M295.1 428.0L294.7 431.7M298.5 435.4L294.9 432.0M341.4 469.7L337.6 467.5M341.4 469.7L346.3 466.7M346.3 466.7L337.6 463.9M337.6 467.5L337.6 463.9M334.7 469.6L337.6 467.5M341.5 473.5L341.4 469.7M347.9 466.0L346.3 466.7M337.6 463.5L337.6 463.9M348.0 432.6L346.3 432.4M348.0 432.6L347.8 433.5M348.7 431.8L348.0 432.6M342.7 427.1L344.6 426.3M342.7 427.1L345.9 432.2M352.3 437.7L350.3 436.5M328.2 428.7L336.5 427.7M329.6 433.2L334.7 431.9M336.5 427.7L334.7 431.9M342.7 427.1L341.1 427.5M341.1 427.5L341.2 429.0M337.1 437.4L337.1 434.7M337.9 434.0L337.1 434.7M336.3 438.9L329.3 438.6M334.7 431.9L337.1 434.7M341.1 427.5L338.4 426.3M336.5 427.7L337.4 426.7M337.4 426.7L337.9 426.4M320.5 431.3L321.2 427.6M268.5 388.1L268.5 388.3M264.1 386.4L260.7 390.0M268.5 388.3L267.1 390.3M267.1 390.3L262.2 391.6M262.2 391.6L260.7 390.0M272.1 384.3L270.4 384.4M270.4 390.5L268.5 388.3M267.3 394.5L267.1 390.3M263.0 395.5L262.2 391.6M252.5 381.0L253.5 381.8M251.8 382.2L253.3 382.3M253.5 381.8L253.3 382.3M256.6 390.9L258.7 389.5M256.6 390.9L251.0 389.6M258.7 389.5L258.0 385.9M258.0 385.9L253.5 383.8M253.5 383.8L251.3 387.5M251.0 389.6L251.3 387.5M256.5 395.5L256.6 390.9M260.7 390.0L258.7 389.5M249.9 390.4L251.0 389.6M248.2 384.5L251.3 387.5M253.3 382.3L253.5 383.8M543.6 423.1L543.4 423.1M543.4 423.1L542.5 424.5M542.5 424.5L543.5 427.0M541.2 421.1L543.9 418.0M541.2 421.1L539.7 420.9M539.7 420.9L540.3 418.5M543.9 418.0L540.3 418.5M544.7 417.6L543.9 418.0M543.4 423.1L541.2 421.1M538.6 421.4L539.7 420.9M539.0 416.0L540.3 418.5M543.7 414.2L545.1 415.8M528.8 426.3L528.9 426.4M528.6 428.0L528.9 426.4M537.2 425.2L529.2 426.6M537.2 425.2L537.1 423.8M529.2 426.6L528.9 426.4M540.3 395.3L540.0 395.9M540.3 395.3L538.9 391.2M543.2 410.5L547.3 409.8M547.3 409.8L547.4 409.9M325.1 475.9L326.9 476.2M326.9 476.2L326.8 477.3M328.8 473.5L326.9 476.2M330.2 473.9L329.4 479.5M332.0 479.9L330.8 480.3M365.6 489.6L364.3 491.4M357.3 487.6L356.7 489.4M364.3 491.4L363.2 491.3M361.6 468.8L363.8 469.8M361.6 468.8L360.8 464.7M363.8 469.8L366.0 466.0M366.0 466.0L366.4 465.4M360.8 464.7L363.6 463.8M360.3 469.5L361.6 468.8M363.8 469.8L363.8 469.8M359.7 462.4L360.8 464.7M369.3 464.8L369.0 464.2M436.0 457.1L436.9 457.2M434.3 457.4L431.5 460.0M431.5 460.0L432.5 461.0M432.5 461.0L438.4 458.6M438.4 458.6L436.9 457.2M437.1 456.7L436.9 457.2M428.2 459.6L431.5 460.0M434.9 463.9L432.5 461.0M441.3 460.7L438.4 458.6M347.1 384.9L348.6 384.7M350.7 389.1L351.7 386.0M348.6 384.7L351.7 386.0M348.6 384.7L348.7 383.4M357.8 387.1L355.8 385.5M351.7 386.0L355.5 385.4M333.0 399.0L330.8 398.5M333.0 399.0L332.7 403.4M330.8 398.5L328.5 400.7M328.5 400.7L330.2 402.2M335.5 398.1L333.0 399.0M332.3 395.4L330.8 398.5M333.9 403.5L333.2 403.6M324.7 400.0L328.5 400.7M307.1 358.9L309.0 355.2M307.1 358.9L310.6 360.2M311.4 357.3L309.9 354.8M311.4 357.3L310.6 360.2M309.9 354.8L309.0 355.2M306.0 359.1L307.1 358.9M305.3 351.9L303.9 353.5M305.3 351.9L309.0 355.2M311.4 360.9L310.6 360.2M310.5 354.2L309.9 354.8M314.4 355.3L311.4 357.3M305.8 350.3L305.3 351.9M303.9 347.8L298.5 349.1M299.3 354.3L298.1 353.4M298.1 353.4L298.5 349.1M297.5 343.6L297.5 347.9M293.6 348.0L293.9 348.3M293.9 348.3L297.5 347.9M298.5 349.1L297.5 347.9M302.6 362.6L297.3 363.5M298.0 359.8L297.8 360.0M297.8 360.0L297.3 363.5M296.8 366.3L296.4 365.3M297.3 363.5L296.4 365.3M289.5 367.4L293.0 363.7M296.4 365.3L293.0 363.7M287.1 354.3L287.9 354.6M289.6 351.2L289.9 352.2M289.9 352.2L287.9 354.6M288.3 359.7L288.7 359.4M287.9 354.6L288.7 359.4M293.0 363.7L291.1 359.9M288.7 359.4L291.1 359.9M337.4 426.7L337.2 426.7M373.2 462.3L374.6 462.1M372.4 462.6L372.5 463.6M374.6 462.1L375.3 462.6M374.6 462.1L374.7 461.6M258.8 381.6L254.2 380.8M254.2 380.8L254.6 378.0M258.0 385.9L260.2 383.2M253.5 381.8L254.2 380.8M539.0 428.0L537.5 425.4M535.6 428.0L537.4 425.3M537.4 425.3L537.5 425.4M542.5 424.5L537.5 425.4M529.2 426.6L530.5 428.0M537.2 425.2L537.4 425.3M546.5 391.2L547.2 394.0M546.5 391.2L544.1 390.2M547.2 394.0L541.2 394.4M543.0 390.8L541.2 394.4M540.3 395.3L541.2 394.4M550.5 393.7L547.3 394.1M550.5 393.7L550.8 393.9M550.8 393.9L549.7 402.1M547.3 394.1L546.7 401.4M546.7 401.4L549.7 402.1M548.0 390.0L546.5 391.2M550.5 391.6L550.5 393.7M547.2 394.0L547.3 394.1M545.3 401.6L546.7 401.4M547.3 409.8L547.9 408.7M550.5 402.5L549.7 402.1M550.8 393.9L551.2 394.0M364.3 491.4L364.3 491.6M292.2 352.2L295.2 353.9M292.2 352.2L292.0 352.2M292.0 352.2L291.9 359.5M295.2 353.9L293.2 358.8M293.2 358.8L291.9 359.5M298.1 353.4L295.2 353.9M293.9 348.3L292.2 352.2M289.9 352.2L292.0 352.2M291.1 359.9L291.9 359.5M297.8 360.0L293.2 358.8M381.4 460.4L381.3 459.7M377.6 461.8L378.5 460.0M380.1 459.5L381.3 459.7M384.9 458.0L381.6 459.5M381.6 459.0L381.6 459.5M382.6 459.9L381.6 459.5M381.3 459.7L381.6 459.5M381.6 459.5L381.6 459.5" fill="none" stroke="#cbcbd3" stroke-width="0.4"/>
<path d="M526.5 432.1L526.8 433.8M526.5 432.1L529.8 428.0M526.8 433.8L536.9 443.0M543.0 434.0L536.9 443.0M526.5 432.1L517.5 428.3M517.5 428.3L517.5 428.0M524.3 445.5L530.4 446.7M524.3 445.5L518.0 451.7M516.3 436.9L523.7 437.5M516.7 441.8L522.5 442.5M523.7 437.5L522.5 442.5M517.5 428.3L516.0 429.7M526.8 433.8L523.7 437.5M524.3 445.5L522.5 442.5M536.9 443.0L536.6 446.9" fill="none" stroke="#cbcbd3" stroke-width="0.4"/>
<path d="M439.4 484.0L439.3 483.9M439.3 483.9L439.4 483.6M432.8 484.3L434.2 483.8M432.8 484.3L431.0 483.1M434.2 483.8L433.6 481.1M431.0 483.1L430.6 480.0M430.6 480.0L432.6 479.7M433.6 481.1L432.6 479.7M435.4 479.5L435.4 477.7M435.4 479.5L433.6 481.1M433.0 478.2L432.6 479.7M433.0 478.2L434.0 477.9M434.0 477.9L435.4 477.7M436.0 486.7L435.5 484.6M436.0 486.7L439.2 486.8M435.5 484.6L437.9 484.6M437.9 484.6L439.2 486.3M439.3 483.9L437.9 484.6M438.0 479.1L436.3 480.1M438.0 479.1L439.3 481.1M439.3 481.1L436.2 482.4M436.3 480.1L436.2 482.4M434.8 483.9L435.5 484.6M434.8 483.9L436.2 482.4M439.6 481.2L439.3 481.1M434.2 483.8L434.8 483.9M435.4 479.5L436.3 480.1M379.4 480.6L378.4 476.3M379.4 480.6L381.5 480.3M382.5 478.8L381.5 480.3M382.5 478.8L379.2 476.3M379.2 476.3L378.4 476.3M383.2 478.5L381.9 475.0M383.2 478.5L382.5 478.8M381.9 475.0L379.2 476.3M366.6 468.2L366.8 468.2M366.7 468.6L366.8 468.2M367.0 465.6L367.4 467.5M366.8 468.2L367.4 467.5M380.2 472.7L377.7 474.1M380.2 472.7L379.1 471.1M377.0 472.2L379.1 471.1M377.0 472.2L377.0 472.8M377.0 472.8L377.7 474.1M437.8 477.9L437.7 477.7M437.8 477.9L439.7 478.1M437.7 477.7L439.0 476.6M439.8 477.0L439.0 476.6M438.0 479.1L437.8 477.9M439.9 474.8L439.0 476.6M433.9 475.4L434.0 477.9M433.9 475.4L435.9 476.5M435.4 477.7L436.3 477.0M436.3 477.0L435.9 476.5M437.7 477.7L436.4 477.0M436.3 477.0L436.4 477.0M432.8 484.3L431.3 486.3M431.0 483.1L430.3 483.0M427.2 485.2L429.7 486.4M427.2 485.2L427.3 484.0M430.3 483.0L427.3 484.0M431.3 486.3L429.7 486.4M412.4 496.8L412.0 496.2M412.0 496.2L413.6 496.3M430.3 483.0L427.7 479.8M428.4 479.3L430.6 480.0M428.4 479.3L428.2 479.3M428.2 479.3L427.7 479.8M421.5 484.9L421.4 485.1M421.5 484.9L426.1 486.0M421.4 485.1L422.4 488.3M422.4 488.3L425.5 488.9M426.1 486.0L426.0 487.7M426.0 487.7L425.5 488.9M427.2 485.2L426.1 486.0M428.7 488.7L429.7 486.4M428.7 488.7L426.0 487.7M418.3 489.4L418.8 486.9M418.3 489.4L418.5 489.6M418.8 486.9L421.4 485.1M422.4 488.3L421.7 490.4M418.5 489.6L421.7 490.4M394.4 479.4L395.3 481.2M394.4 479.4L396.5 478.8M395.3 481.2L397.9 479.9M396.5 478.8L397.9 479.9M367.6 491.8L368.0 492.7M371.6 473.1L368.6 475.1M371.6 473.1L369.1 471.6M367.7 471.6L369.1 471.6M367.7 471.6L367.7 471.9M371.7 473.1L371.6 473.1M371.7 473.1L370.7 476.3M370.7 476.3L368.9 476.1M367.5 471.3L367.7 471.6M373.1 470.2L369.7 470.8M373.1 470.2L370.6 468.6M370.6 468.6L369.7 470.8M373.1 470.2L372.7 472.7M373.1 470.2L373.1 470.2M371.7 473.1L372.5 473.0M372.5 473.0L372.7 472.7M369.1 471.6L369.7 470.8M367.4 467.5L369.9 467.4M369.9 467.4L370.6 468.6M375.2 478.3L376.2 476.7M375.2 478.3L372.6 479.2M376.2 476.7L373.1 474.3M373.1 474.3L371.8 477.1M372.6 479.2L371.8 477.1M379.4 480.6L378.4 481.5M378.4 476.3L377.6 475.9M377.6 475.9L376.2 476.7M377.5 481.8L378.4 481.5M377.5 481.8L375.2 478.3M372.5 483.6L371.4 480.7M372.5 483.6L374.8 484.7M371.4 480.7L372.6 479.2M374.8 484.7L376.4 483.8M376.4 483.8L377.5 481.8M372.5 473.0L373.1 474.3M372.7 472.7L377.0 472.8M377.6 475.9L377.7 474.1M370.7 476.3L371.8 477.1M428.4 479.3L431.0 477.2M433.0 478.2L432.3 477.3M431.0 477.2L432.3 477.3M436.4 477.0L437.9 473.8M372.5 483.6L369.3 486.3M369.3 486.3L370.7 487.9M374.8 484.7L375.1 486.8M375.1 486.8L370.7 487.9M367.8 490.9L371.5 489.5M369.3 486.3L368.7 486.4M371.5 489.5L370.7 487.9M422.1 483.2L424.6 479.4M422.1 483.2L426.9 482.6M424.6 479.4L427.1 480.1M426.9 482.6L427.1 480.1M427.3 484.0L426.9 482.6M421.4 483.8L422.1 483.2M421.4 483.8L421.5 484.9M427.7 479.8L427.1 480.1M415.7 479.8L415.9 480.7M415.7 479.8L419.8 478.9M415.9 480.7L418.2 482.4M419.8 478.9L419.8 482.3M419.8 482.3L418.2 482.4M413.3 483.6L414.5 485.0M413.3 483.6L415.9 480.7M415.2 484.9L418.2 482.4M415.2 484.9L414.5 485.0M421.4 483.8L419.8 482.3M417.9 486.5L418.8 486.9M417.9 486.5L415.2 484.9M413.1 483.5L413.3 483.6M413.1 483.5L412.6 482.3M415.2 479.2L414.1 479.4M415.2 479.2L415.7 479.8M412.6 482.3L414.1 479.4M425.5 488.9L425.8 490.2M421.7 490.4L422.4 492.0M425.8 490.2L422.4 492.0M417.3 494.0L417.5 495.0M417.3 494.0L418.2 492.9M418.2 492.9L422.3 492.6M422.2 494.3L422.6 493.4M422.6 493.4L422.3 492.6M418.2 492.9L418.5 489.6M422.3 492.6L422.4 492.0M404.7 472.7L406.1 473.5M404.7 472.7L402.8 476.1M406.2 474.1L406.1 473.5M406.2 474.1L404.4 478.1M402.8 476.1L404.4 478.1M396.5 484.8L399.7 482.0M396.5 484.8L393.8 483.9M399.7 482.0L399.5 481.2M395.3 481.2L393.7 483.8M397.9 479.9L398.4 479.9M393.8 483.9L393.7 483.8M399.5 481.2L398.4 479.9M387.7 460.1L389.5 457.3M387.7 460.1L386.4 457.6M389.5 457.3L388.6 456.3M386.9 469.9L388.0 473.8M386.9 469.9L383.3 471.7M383.3 471.7L383.3 471.7M388.0 473.8L385.9 473.6M383.3 471.7L385.9 473.6M383.2 478.5L383.7 478.4M381.9 475.0L382.5 474.0M382.5 474.0L384.3 475.2M384.3 475.2L385.1 476.8M385.1 476.8L383.7 478.4M385.1 476.8L386.1 476.6M385.9 480.8L383.7 478.4M385.9 480.8L387.0 478.0M386.1 476.6L387.0 478.0M391.8 463.9L391.7 465.8M391.8 463.9L393.7 463.6M391.7 465.8L395.0 466.8M393.7 463.6L395.6 465.1M395.0 466.8L395.6 465.3M395.6 465.1L395.6 465.3M390.8 462.0L391.8 463.9M390.8 462.0L391.0 461.9M391.0 461.9L393.7 461.4M393.7 461.4L393.7 463.6M393.7 461.4L394.1 461.1M394.1 461.1L395.9 462.8M395.9 462.8L395.6 465.1M399.5 466.6L397.4 465.0M399.5 466.6L396.2 468.3M396.2 468.3L395.2 467.9M395.2 467.9L395.0 466.8M397.4 465.0L395.6 465.3M384.3 458.9L384.1 460.3M387.7 460.1L387.4 460.7M387.4 460.7L384.1 460.3M381.8 461.3L381.4 462.8M381.8 461.3L383.1 460.9M381.4 462.8L382.3 466.0M382.3 466.0L383.4 466.5M383.4 466.5L385.2 463.6M385.2 463.6L383.1 460.9M381.8 461.3L381.1 460.5M384.1 460.3L383.1 460.9M370.0 480.4L369.9 480.5M370.0 480.4L369.9 480.4M371.4 480.7L370.0 480.4M370.6 466.5L371.2 465.8M370.6 466.5L374.3 469.2M371.2 465.8L376.0 467.8M374.3 469.2L375.9 468.1M375.9 468.1L376.0 467.8M369.9 467.4L370.6 466.5M371.3 464.1L371.2 465.8M373.1 470.2L374.3 469.2M376.3 468.8L377.0 472.2M376.3 468.8L375.9 468.1M376.4 467.3L377.2 464.1M376.4 467.3L376.1 467.6M376.1 467.6L374.3 465.1M374.3 465.1L374.4 462.9M377.2 464.1L376.1 462.7M375.4 462.6L376.1 462.7M381.4 462.8L377.2 464.1M380.9 467.3L382.3 466.0M380.9 467.3L376.4 467.3M371.6 464.0L374.3 465.1M376.0 467.8L376.1 467.6M376.5 462.2L376.2 462.6M376.2 462.6L376.1 462.7M432.2 473.3L431.9 473.7M433.9 475.4L432.6 475.5M433.9 475.4L434.7 473.5M432.6 475.5L431.7 474.3M431.9 473.7L431.7 474.3M433.9 475.4L433.9 475.4M432.3 477.3L432.6 475.5M435.9 476.5L435.3 473.6M423.4 477.7L424.3 476.2M423.4 477.7L421.7 477.6M421.3 472.4L420.9 474.2M421.3 472.4L421.7 472.3M421.7 472.3L424.3 476.2M420.9 474.2L421.7 477.6M423.4 477.7L424.6 479.4M419.8 478.9L420.0 478.4M420.0 478.4L421.7 477.6M421.3 472.4L420.2 471.8M421.7 472.3L421.9 472.2M420.2 471.8L420.2 471.6M398.4 497.2L398.9 500.9M398.4 497.2L396.1 500.6M396.2 500.7L396.1 500.6M412.0 496.2L411.4 495.8M411.3 497.1L411.4 495.8M415.4 492.9L417.3 494.0M415.4 492.9L410.9 495.3M411.4 495.8L410.9 495.3M396.5 484.8L396.8 485.4M396.8 485.4L400.5 487.1M401.7 485.2L401.3 483.0M401.7 485.2L401.3 486.3M399.7 482.0L401.3 483.0M400.5 487.1L401.0 486.9M401.3 486.3L401.0 486.9M401.7 485.2L405.1 485.4M405.1 485.4L404.3 487.1M401.3 486.3L404.3 487.1M400.2 492.7L402.0 490.8M400.2 492.7L399.3 491.7M399.3 491.7L398.8 489.5M402.0 490.8L402.1 490.1M402.1 490.1L399.4 488.9M398.8 489.5L399.4 488.9M400.5 487.1L399.4 488.9M401.0 486.9L402.6 488.7M402.6 488.7L402.1 490.1M396.8 485.4L396.4 488.7M396.4 488.7L398.8 489.5M414.6 490.5L415.2 489.6M414.6 490.5L414.4 490.5M414.4 490.5L410.9 488.0M415.2 489.6L414.9 488.5M414.9 488.5L414.0 486.5M414.0 486.5L410.9 488.0M418.3 489.4L415.2 489.6M415.4 492.9L414.6 490.5M417.9 486.5L414.9 488.5M414.5 485.0L414.0 486.5M381.9 494.1L382.6 492.8M381.9 494.1L378.7 495.3M382.6 492.8L382.5 492.2M377.8 494.2L378.7 495.3M377.8 494.2L378.7 492.3M378.7 492.3L382.5 492.2M374.5 492.1L374.6 491.5M374.5 492.1L370.9 493.3M374.6 491.5L373.4 489.6M370.9 493.3L372.0 489.8M372.0 489.8L373.4 489.6M377.3 488.5L375.2 486.9M377.3 488.5L377.6 490.2M377.6 490.2L374.6 491.5M375.2 486.9L373.4 489.6M370.5 493.8L370.9 493.3M371.5 489.5L372.0 489.8M375.1 486.8L375.2 486.9M377.3 488.5L378.8 487.7M377.6 490.2L378.2 490.8M378.2 490.8L382.1 488.8M378.8 487.7L382.1 488.8M378.2 490.8L378.7 492.3M382.5 492.2L383.4 489.8M383.4 489.8L382.3 488.8M382.1 488.8L382.3 488.8M381.9 481.0L381.5 480.3M381.9 481.0L384.1 482.2M385.9 480.8L386.3 481.6M384.1 482.2L386.3 481.6M388.9 479.7L389.7 479.5M388.9 479.7L387.0 482.1M389.7 479.5L391.0 482.5M391.0 482.5L387.4 482.9M387.4 482.9L387.0 482.1M388.9 479.7L388.1 478.3M388.1 478.3L387.0 478.0M387.0 482.1L386.3 481.6M388.3 491.5L391.7 492.0M388.3 491.5L388.4 489.9M391.7 492.0L391.6 490.9M391.6 490.9L389.7 489.5M388.4 489.9L389.7 489.5M391.6 495.1L390.4 496.0M391.6 495.1L395.4 496.5M395.4 496.5L394.7 499.4M390.4 496.6L390.4 496.0M390.4 496.6L393.6 499.6M393.6 499.6L394.7 499.4M398.5 496.1L398.4 497.2M398.5 496.1L396.7 495.9M396.7 495.9L395.4 496.5M396.1 500.6L394.7 499.4M388.9 500.3L388.9 499.6M392.9 500.5L393.6 499.6M388.9 499.6L390.4 496.6M394.1 492.2L394.1 488.6M394.1 492.2L395.4 492.2M395.6 492.0L396.1 488.8M395.6 492.0L395.4 492.2M396.1 488.8L394.1 488.6M391.7 492.0L392.1 492.7M392.1 492.7L394.1 492.2M392.6 487.9L391.6 490.9M392.6 487.9L394.1 488.6M396.7 495.9L395.4 492.2M392.1 492.7L391.6 495.1M396.4 488.7L396.1 488.8M399.3 491.7L395.6 492.0M398.5 496.1L400.8 495.1M400.8 495.1L400.2 492.7M379.9 497.8L379.6 496.1M378.0 497.0L378.7 495.5M379.6 496.1L378.7 495.5M382.2 496.9L383.2 498.1M382.2 496.9L379.6 496.1M382.3 498.8L383.2 498.1M381.9 494.1L382.2 496.9M378.7 495.3L378.7 495.5M384.3 497.5L383.5 498.1M384.3 497.5L387.3 500.2M383.5 498.1L383.9 498.9M383.9 498.9L384.6 499.8M383.8 499.5L383.9 498.9M383.2 498.1L383.5 498.1M377.8 494.2L376.9 494.2M374.5 492.1L375.5 493.9M375.5 493.9L376.9 494.2M375.5 493.9L374.0 495.3M420.9 474.2L418.5 475.3M418.3 471.7L420.2 471.8M418.3 471.7L417.7 472.6M417.7 472.6L418.5 475.3M420.0 478.4L417.9 476.7M418.5 475.3L417.9 476.7M404.7 472.7L404.3 472.1M404.3 472.1L407.7 468.1M406.1 473.5L407.6 473.3M407.7 468.1L408.8 467.8M408.8 467.8L408.9 467.9M408.9 467.9L409.8 469.4M407.6 473.3L409.8 469.4M376.2 462.6L376.1 462.3M404.8 480.5L405.6 483.0M404.8 480.5L402.2 482.6M405.6 483.0L402.1 482.7M402.2 482.6L402.1 482.7M403.4 479.9L402.2 482.6M403.4 479.9L404.7 479.3M404.7 479.3L404.8 480.5M401.9 479.6L400.0 480.8M401.9 479.6L402.1 478.2M400.0 480.8L401.3 478.1M401.3 478.1L401.9 478.0M401.9 478.0L402.1 478.2M401.3 483.0L402.1 482.7M403.4 479.9L401.9 479.6M399.5 481.2L400.0 480.8M404.7 479.3L404.8 479.1M404.8 479.1L404.7 479.0M404.7 479.0L402.1 478.2M402.8 476.1L402.2 476.4M402.2 476.4L401.9 478.0M404.4 478.1L404.7 479.0M386.1 476.6L388.4 474.5M388.1 478.3L389.5 475.7M389.5 475.7L388.4 474.5M404.3 472.1L404.0 471.9M402.2 476.4L400.2 476.0M400.2 476.0L401.5 473.2M401.5 473.2L404.0 471.9M403.6 465.2L407.7 468.1M403.6 465.2L402.9 470.5M404.0 471.9L402.9 470.5M394.2 460.8L391.6 458.2M394.2 460.8L395.8 459.1M395.8 458.9L395.8 459.1M395.8 458.9L391.5 457.5M391.5 457.5L391.6 458.2M391.0 461.9L391.6 458.2M394.1 461.1L394.2 460.8M391.3 457.3L389.5 457.3M391.3 457.3L391.5 457.5M390.8 462.0L388.4 462.1M388.4 462.1L387.4 460.7M382.7 472.0L382.4 472.3M382.7 472.0L380.9 469.0M380.9 469.0L379.3 470.2M382.1 472.3L382.4 472.3M382.1 472.3L379.4 470.4M379.3 470.2L379.4 470.4M383.3 471.7L382.7 472.0M382.5 474.0L382.4 472.3M384.3 475.2L385.9 473.6M383.3 471.7L383.6 466.6M380.9 467.3L380.9 469.0M383.6 466.6L383.4 466.5M376.3 468.8L379.3 470.2M380.2 472.7L382.1 472.3M379.1 471.1L379.4 470.4M394.9 455.5L397.0 453.3M394.9 455.5L392.8 455.1M392.8 455.1L392.5 454.0M391.3 457.3L392.8 455.1M395.5 456.3L398.7 456.3M395.5 456.3L395.8 458.6M395.8 458.6L398.8 457.0M398.7 456.3L398.8 457.0M399.5 454.3L398.7 456.3M394.9 455.5L395.5 456.3M395.8 458.9L395.8 458.6M391.7 469.1L390.5 466.8M391.7 469.1L389.3 469.8M389.3 469.8L390.5 466.8M395.2 467.9L393.5 470.2M393.5 470.2L391.7 469.1M391.7 465.8L390.4 466.5M390.4 466.5L390.5 466.8M389.9 466.3L386.8 468.8M389.9 466.3L387.9 464.0M387.4 464.3L387.9 464.0M387.4 464.3L385.3 466.8M385.3 466.8L386.8 468.8M390.4 466.5L389.9 466.3M387.0 469.7L389.2 469.8M387.0 469.7L386.8 468.8M389.2 469.8L389.3 469.8M388.4 462.1L387.9 464.0M385.2 463.6L387.4 464.3M383.6 466.6L385.3 466.8M386.9 469.9L387.0 469.7M425.8 472.8L426.3 473.2M424.3 476.2L426.3 474.8M426.3 473.2L426.3 474.8M428.2 479.3L427.9 476.0M426.3 474.8L427.9 476.0M431.0 477.2L429.8 475.2M427.9 476.0L429.8 475.2M431.7 474.3L429.9 475.0M429.8 475.2L429.9 475.0M418.3 471.7L417.8 471.0M417.8 471.0L417.5 470.5M403.6 465.2L403.2 463.8M405.2 462.0L406.9 462.3M405.2 462.0L403.3 463.2M408.8 467.8L408.0 464.7M403.3 463.2L403.2 463.8M408.0 464.7L406.9 462.3M407.1 457.3L407.1 457.5M407.1 457.5L406.8 457.7M405.1 456.6L406.8 457.7M407.1 457.5L407.3 457.4M405.2 462.0L405.2 461.8M406.9 462.3L408.6 462.0M406.8 457.7L405.2 461.8M430.8 489.5L430.8 492.0M430.8 489.5L428.8 489.3M430.8 492.0L427.5 491.2M428.8 489.3L427.5 491.2M427.3 492.3L427.3 491.3M427.3 492.3L426.2 493.8M424.1 494.1L423.7 493.8M423.7 493.8L427.0 491.2M427.0 491.2L427.3 491.3M431.7 493.0L430.8 492.0M428.1 493.5L427.3 492.3M427.5 491.2L427.3 491.3M422.6 493.4L423.7 493.8M425.8 490.2L427.0 491.2M428.7 488.7L428.8 489.3M432.7 489.5L435.6 489.3M432.7 489.5L431.7 488.3M431.8 487.8L431.7 488.3M431.8 487.8L436.0 488.4M435.6 489.3L436.0 488.7M436.0 488.7L436.0 488.4M436.0 488.4L436.0 488.4M433.3 492.7L432.7 489.5M434.5 492.6L435.6 489.3M430.8 489.5L431.7 488.3M431.3 486.3L431.8 487.8M436.0 486.7L436.0 488.4M438.5 490.3L436.0 488.7M439.1 487.7L436.0 488.4M405.1 485.4L405.4 485.3M405.9 483.1L405.6 483.0M405.9 483.1L406.1 483.8M406.1 483.8L405.4 485.3M409.4 483.1L406.8 482.1M409.4 483.1L409.5 483.9M405.9 483.1L406.8 482.1M409.5 483.9L408.2 484.1M408.2 484.1L407.2 484.2M406.1 483.8L407.2 484.2M380.4 485.3L379.5 485.5M380.4 485.3L380.4 483.3M380.2 483.1L378.3 484.8M380.2 483.1L380.4 483.3M378.3 484.8L379.5 485.5M376.4 483.8L378.3 484.8M378.4 481.5L380.2 483.1M381.9 481.0L381.7 482.8M381.7 482.8L380.4 483.3M378.8 487.7L379.5 485.5M382.1 487.3L380.5 485.3M382.1 487.3L383.8 485.1M380.5 485.3L382.6 483.9M383.8 485.1L382.9 484.0M382.6 483.9L382.9 484.0M382.3 488.8L382.1 487.3M380.4 485.3L380.5 485.3M384.0 489.7L386.7 487.5M384.0 489.7L383.4 489.8M387.1 485.3L383.8 485.1M387.1 485.3L387.4 485.9M387.4 485.9L386.7 487.5M381.7 482.8L382.6 483.9M387.1 485.3L387.4 482.9M384.1 482.2L382.9 484.0M387.7 486.0L389.8 489.1M387.7 486.0L392.1 486.5M389.8 489.1L392.2 487.1M392.1 486.5L392.2 487.1M387.4 485.9L387.7 486.0M386.7 487.5L388.4 489.9M389.7 489.5L389.8 489.1M391.0 482.5L392.5 482.6M392.5 482.6L393.7 483.8M393.8 483.9L392.1 486.5M392.6 487.9L392.2 487.1M386.3 495.7L385.3 493.6M386.3 495.7L385.0 496.9M385.0 496.9L384.9 497.0M384.9 497.0L383.0 493.1M383.0 493.1L385.3 493.6M388.9 499.6L385.0 496.9M388.2 495.1L386.3 495.7M388.2 495.1L390.4 496.0M384.3 497.5L384.9 497.0M382.6 492.8L383.0 493.1M388.1 491.7L387.8 493.0M388.1 491.7L385.3 490.8M387.8 493.0L385.9 492.9M385.3 490.8L385.9 492.9M388.3 491.5L388.1 491.7M388.2 495.1L387.8 493.0M384.0 489.7L385.3 490.8M385.3 493.6L385.9 492.9M376.9 494.2L376.2 496.2M407.6 473.3L410.5 474.1M409.8 469.4L411.0 469.9M411.4 473.0L410.5 474.1M411.4 473.0L411.1 470.0M411.1 470.0L411.0 469.9M408.0 464.7L409.4 465.0M414.8 469.4L414.2 470.1M414.2 470.1L411.1 470.0M411.0 469.9L412.1 468.3M408.9 467.9L409.9 467.1M417.7 472.6L415.7 473.7M417.9 476.7L417.9 476.7M415.7 473.7L417.9 476.7M415.2 479.2L415.5 477.6M415.5 477.6L415.8 477.4M415.8 477.4L417.9 476.7M412.5 472.7L415.0 473.9M412.5 472.7L414.2 470.6M414.2 470.6L414.8 472.0M414.8 472.0L415.4 473.7M415.4 473.7L415.2 473.8M415.0 473.9L415.2 473.8M411.4 473.0L412.5 472.7M414.2 470.1L414.2 470.6M417.8 471.0L414.8 472.0M415.7 473.7L415.4 473.7M415.8 477.4L415.2 473.8M415.5 477.6L412.8 476.1M412.8 476.1L415.0 473.9M410.5 474.1L410.7 474.5M412.8 476.1L412.4 476.1M412.4 476.1L410.7 474.5M414.1 479.4L411.6 478.7M412.4 476.1L411.6 478.7M400.2 476.0L399.5 476.2M398.4 473.4L401.5 473.2M398.4 473.4L397.8 474.1M397.8 474.1L399.5 476.2M401.3 478.1L399.1 477.6M399.5 476.2L399.1 477.6M398.4 479.9L398.9 477.9M399.1 477.6L398.9 477.9M393.4 471.5L394.4 473.3M393.4 471.5L390.7 471.9M394.4 473.3L388.4 474.4M390.7 471.9L388.4 474.2M388.4 474.2L388.4 474.4M393.5 470.2L393.4 471.5M389.2 469.8L390.7 471.9M388.0 473.8L388.4 474.2M388.4 474.5L388.4 474.4M398.7 471.5L402.0 470.3M398.7 471.5L397.8 470.4M397.6 469.4L397.8 470.4M397.6 469.4L400.0 468.8M400.0 468.8L402.0 470.3M398.4 473.4L398.7 471.5M402.9 470.5L402.0 470.3M396.2 468.3L397.6 469.4M394.5 473.3L394.4 473.3M394.5 473.3L397.8 470.4M399.5 466.6L399.7 466.6M399.7 466.6L400.0 468.8M399.7 466.6L403.2 463.8M401.7 455.2L401.1 457.5M398.8 457.0L398.8 457.0M398.8 457.0L400.5 457.8M401.1 457.5L400.5 457.8M396.5 459.5L398.6 458.7M396.5 459.5L397.9 461.5M398.6 458.7L400.7 461.2M397.9 461.5L400.3 462.0M400.3 462.0L400.8 462.0M400.8 462.0L400.7 461.3M400.7 461.3L400.7 461.2M395.8 459.1L396.5 459.5M398.8 457.0L398.6 458.7M395.9 462.8L397.9 461.5M400.5 457.8L400.7 461.2M397.4 465.0L400.3 462.0M403.3 463.2L400.8 462.0M401.1 457.5L402.2 457.9M402.2 457.9L400.7 461.3M426.3 473.2L427.0 472.9M429.9 475.0L429.1 473.1M431.9 473.7L431.2 473.2M403.6 458.6L404.0 456.8M403.6 458.6L402.4 457.8M404.0 456.8L402.6 457.3M402.4 457.8L402.6 457.3M404.4 456.2L404.0 456.8M405.2 461.8L403.6 458.6M402.2 457.9L402.4 457.8M402.2 455.4L402.6 457.3M400.8 495.1L401.0 495.2M399.7 501.0L400.8 499.0M401.0 495.2L400.8 499.0M400.8 499.0L402.6 500.1M409.5 483.9L410.3 484.4M408.2 484.1L409.0 488.0M410.3 484.4L409.8 487.9M409.0 488.0L409.8 487.9M407.2 484.2L408.7 488.0M409.0 488.0L408.7 488.0M414.4 490.5L411.3 491.6M410.9 488.0L410.3 488.1M410.3 488.1L411.3 491.6M413.1 483.5L410.3 484.4M410.3 488.1L409.8 487.9M410.5 495.0L410.9 495.3M410.5 495.0L410.4 493.5M410.4 493.5L411.3 491.6M409.7 476.3L410.8 479.3M409.7 476.3L407.6 477.9M407.6 477.9L407.5 478.8M407.5 478.8L408.5 479.7M408.5 479.7L409.5 480.0M409.5 480.0L410.3 479.9M410.3 479.9L410.8 479.3M410.7 474.5L409.7 476.3M411.6 478.7L410.8 479.3M406.2 474.1L407.6 477.9M404.8 479.1L407.5 478.8M406.8 482.1L408.5 479.7M409.4 483.1L409.5 480.0M412.6 482.3L410.3 479.9M394.8 474.2L391.6 477.0M394.8 474.2L394.9 474.2M394.9 474.2L395.6 476.2M391.6 477.0L391.7 478.3M395.6 477.4L395.6 476.2M395.6 477.4L393.9 479.0M393.9 479.0L392.0 478.6M392.0 478.6L391.7 478.3M394.5 473.3L394.8 474.2M389.5 475.7L391.6 477.0M397.8 474.1L394.9 474.2M398.9 477.9L395.6 476.2M389.7 479.5L391.7 478.3M396.5 478.8L395.6 477.4M394.4 479.4L393.9 479.0M392.5 482.6L392.0 478.6M404.5 495.5L409.0 495.6M404.5 495.5L406.1 498.5M406.2 498.6L406.1 498.5M406.2 498.6L408.4 496.8M408.4 496.8L409.0 495.6M408.7 498.0L408.4 496.8M406.1 498.9L406.2 498.6M410.5 495.0L409.1 495.6M409.1 495.6L409.0 495.6M401.6 495.2L404.7 498.2M401.6 495.2L401.3 495.3M401.3 495.3L403.2 499.3M404.7 498.2L403.2 499.3M402.8 494.9L404.5 495.5M402.8 494.9L401.6 495.2M406.1 498.5L404.7 498.2M401.0 495.2L401.3 495.3M403.2 499.9L403.2 499.3M407.3 488.4L407.6 488.6M407.3 488.4L404.4 488.4M407.6 488.6L407.2 490.3M407.2 490.3L406.0 491.3M406.0 491.3L404.9 491.5M404.4 488.4L403.8 488.8M403.8 488.8L404.7 491.3M404.7 491.3L404.9 491.5M405.4 485.3L407.3 488.4M408.7 488.0L407.6 488.6M404.3 487.1L404.4 488.4M410.4 493.5L407.2 490.3M402.6 488.7L403.8 488.8M402.0 490.8L404.7 491.3M402.8 494.9L403.6 494.0M403.6 494.0L404.9 491.5M408.0 494.6L405.9 493.8M408.0 494.6L406.2 491.9M406.2 491.9L405.9 493.8M409.1 495.6L408.0 494.6M403.6 494.0L405.9 493.8M406.0 491.3L406.2 491.9M361.4 436.4L360.4 434.7M359.7 433.4L358.1 430.8M361.4 436.4L360.8 436.9M357.3 431.7L358.1 430.8M360.7 436.8L360.8 436.9M360.8 436.9L360.7 437.1M363.3 433.6L361.7 432.1M363.3 433.6L362.6 436.1M361.7 432.1L361.8 436.2M362.6 436.1L361.8 436.2M360.1 428.0L358.3 430.2M360.1 428.0L360.1 427.9M358.3 430.2L357.4 430.0M358.1 430.8L358.3 430.2M376.3 428.7L375.8 427.3M376.3 428.7L377.7 429.7M375.8 427.3L376.3 424.7M376.3 424.7L376.6 424.4M381.2 427.2L378.8 429.0M379.4 423.6L376.6 424.4M377.7 429.7L378.8 429.0M362.5 440.3L360.9 438.8M362.5 440.3L363.4 442.7M362.1 442.1L363.4 442.7M362.5 440.3L364.5 439.6M363.4 442.7L363.7 443.0M363.7 443.0L363.7 443.0M363.7 443.0L364.5 439.6M361.4 436.4L361.8 436.2M364.2 436.5L365.5 438.3M364.2 436.5L362.6 436.1M364.5 439.6L365.5 438.3M377.5 452.3L376.1 453.9M377.5 452.3L376.7 451.7M376.1 453.9L375.8 451.2M376.7 451.7L375.8 451.2M378.6 449.4L378.2 449.1M378.6 449.4L376.7 451.7M378.2 449.1L374.4 449.5M374.4 449.5L374.0 450.0M374.0 450.0L375.8 451.2M360.1 428.0L360.1 428.1M361.7 432.1L361.4 430.1M360.1 428.1L361.4 430.1M363.3 433.6L363.8 432.5M361.4 430.1L363.8 432.5M374.6 429.8L370.6 431.1M374.6 429.8L372.6 434.8M369.7 434.6L372.6 434.8M369.7 434.6L369.1 433.7M370.6 431.1L369.1 433.7M364.2 436.5L367.7 433.5M369.7 434.6L369.6 437.0M365.5 438.3L367.2 439.3M369.6 437.0L367.2 439.3M367.7 433.5L369.1 433.7M363.8 432.5L366.1 431.7M367.7 433.5L366.1 431.7M363.4 428.3L366.0 431.3M363.4 428.3L360.1 428.1M366.1 431.7L366.0 431.3M376.6 424.4L377.6 420.9M376.3 424.7L374.5 422.7M374.5 422.7L374.0 418.6M374.0 418.6L375.9 418.4M373.2 418.3L374.0 418.6M381.0 432.9L382.2 431.8M381.0 432.9L382.6 434.2M377.7 429.7L378.7 432.0M378.8 429.0L381.6 429.1M378.7 432.0L381.0 432.9M378.7 432.0L376.9 435.4M376.9 435.4L380.3 439.1M383.2 436.8L382.5 438.4M382.5 438.4L380.3 439.1M363.7 443.0L363.0 444.0M378.4 446.9L376.7 446.2M378.4 446.9L381.8 445.0M381.8 445.0L378.9 442.5M378.9 442.5L377.0 444.5M376.7 446.2L377.0 444.5M376.3 428.7L374.6 429.8M372.6 434.8L375.2 436.5M376.9 435.4L375.5 436.4M375.2 436.5L375.5 436.4M371.2 424.6L370.4 423.6M371.2 424.6L373.0 422.3M370.4 423.6L371.8 421.7M373.0 422.3L371.9 421.7M371.9 421.7L371.8 421.7M375.8 427.3L372.1 426.1M374.5 422.7L373.0 422.3M372.1 426.1L371.2 424.6M368.8 421.5L368.8 422.2M369.6 420.9L371.8 421.7M368.8 422.2L369.9 423.5M369.9 423.5L370.4 423.6M372.4 418.9L371.9 421.7M369.2 427.3L368.3 425.0M369.2 427.3L368.5 428.1M368.5 428.1L368.4 428.1M368.4 428.1L365.6 427.0M365.6 427.0L366.0 424.6M366.0 424.6L367.5 424.7M368.3 425.0L367.5 424.7M372.1 426.1L369.2 427.3M369.9 423.5L368.3 425.0M370.6 431.1L368.5 428.1M366.0 431.3L368.4 428.1M363.4 428.3L365.6 427.0M368.8 422.2L368.1 422.6M368.1 422.6L367.5 424.7M365.6 423.9L365.5 423.9M365.5 423.9L365.5 423.9M368.1 422.6L367.1 422.7M366.0 424.6L365.5 423.9M369.6 437.0L370.9 438.0M367.2 439.3L367.8 441.4M368.6 441.4L367.8 441.4M368.6 441.4L370.8 440.3M370.8 440.3L370.9 438.0M375.2 436.5L373.9 438.4M370.9 438.0L373.9 438.4M385.0 443.9L384.9 443.9M384.8 443.2L384.9 443.9M387.3 448.6L386.9 448.7M383.2 445.3L384.9 443.9M383.2 445.3L383.2 445.9M386.9 448.7L383.2 445.9M378.7 442.0L378.6 441.2M378.7 442.0L374.3 443.1M378.6 441.2L378.2 441.0M378.2 441.0L373.9 440.5M373.4 442.2L374.3 443.1M373.4 442.2L373.5 441.2M373.5 441.2L373.9 440.5M381.8 445.0L383.2 445.3M384.6 442.5L384.3 442.0M384.3 442.0L382.5 438.4M380.3 439.1L378.6 441.2M378.9 442.5L378.7 442.0M374.5 443.6L377.0 444.5M374.5 443.6L374.3 443.1M375.5 436.4L378.2 441.0M373.9 438.4L373.9 440.5M368.6 441.4L371.4 443.4M371.4 443.4L373.4 442.2M370.8 440.3L373.5 441.2M365.4 465.8L365.1 465.5M365.1 465.5L364.8 465.6M365.1 465.5L365.5 464.2M363.3 463.2L365.5 464.2M367.8 464.7L367.6 462.7M367.6 462.7L366.8 462.5M366.8 462.5L365.5 464.2M367.6 462.7L368.1 462.6M368.1 462.6L370.3 463.6M386.9 448.7L386.5 449.8M386.5 449.8L383.4 448.5M383.2 445.9L383.0 448.0M383.0 448.0L383.4 448.5M378.4 446.9L378.2 449.1M378.6 449.4L380.7 451.0M383.0 448.0L380.7 451.0M377.5 452.3L379.8 452.7M379.8 452.7L380.7 451.6M380.7 451.0L380.7 451.6M367.8 441.4L367.0 442.5M371.4 443.4L371.1 444.7M371.1 444.7L370.8 445.0M370.8 445.0L370.6 445.2M370.6 445.2L370.3 445.2M367.0 442.5L370.3 445.2M372.4 445.3L374.4 444.2M372.4 445.3L373.4 446.4M374.4 444.2L374.9 446.9M373.4 446.4L374.8 447.0M374.8 447.0L374.9 446.9M371.1 444.7L372.4 445.3M374.5 443.6L374.4 444.2M370.8 445.0L371.5 446.0M372.2 446.7L371.5 446.0M372.2 446.7L373.4 446.4M376.7 446.2L374.9 446.9M374.4 449.5L374.8 447.0M384.0 458.3L384.0 457.8M384.0 457.8L385.0 458.0M389.8 449.7L389.3 452.1M393.5 451.3L390.2 453.5M390.2 453.5L389.3 452.1M391.4 454.6L390.3 453.8M390.2 453.5L390.3 453.8M386.5 449.8L387.2 451.8M389.3 452.1L387.2 451.8M388.9 456.3L389.0 455.4M390.3 453.8L389.0 455.4M361.4 460.3L362.1 458.5M362.1 458.5L360.2 458.4M370.6 445.2L370.2 448.4M371.5 446.0L371.3 449.0M370.2 448.4L371.3 449.0M372.2 446.7L371.4 449.1M371.4 449.1L371.3 449.0M374.0 450.0L373.0 450.6M371.4 449.1L373.0 450.6M383.9 457.7L384.0 457.8M383.9 457.7L380.4 458.2M380.5 459.4L380.4 458.2M363.0 446.5L364.3 449.7M359.7 448.2L364.3 449.7M366.3 443.0L366.6 442.9M366.3 443.0L364.3 449.8M366.6 442.9L367.9 446.2M367.9 446.2L367.3 448.5M367.3 448.5L365.5 449.8M365.5 449.8L364.4 449.9M364.3 449.8L364.4 449.9M363.7 443.0L366.3 443.0M367.0 442.5L366.6 442.9M364.3 449.7L364.3 449.8M370.3 445.2L367.9 446.2M370.2 448.4L367.3 448.5M385.5 452.1L384.9 452.5M385.5 452.1L386.5 452.0M386.5 452.0L386.2 455.8M384.9 452.5L385.3 456.1M385.3 456.1L386.2 455.8M382.7 452.8L380.7 451.6M382.7 452.8L384.9 452.5M383.4 448.5L385.5 452.1M387.2 451.8L386.5 452.0M389.0 455.4L386.2 455.8M384.0 457.2L385.3 456.1M384.0 457.2L383.2 455.9M383.2 455.9L382.7 452.8M384.0 457.2L383.9 457.7M363.5 454.7L369.7 456.5M363.5 454.7L363.2 456.6M363.2 456.6L363.1 457.9M363.1 457.9L365.5 460.3M369.7 456.5L365.5 460.4M365.5 460.4L365.5 460.3M359.5 456.9L363.2 456.6M363.4 454.5L359.0 456.0M363.4 454.5L363.5 454.7M362.1 458.5L363.1 457.9M362.6 462.2L365.5 460.3M366.8 462.5L365.5 460.4M373.0 450.6L371.7 453.9M365.5 449.8L371.4 454.3M371.7 453.9L371.4 454.3M376.1 453.9L375.6 454.5M371.7 453.9L375.6 454.5M379.8 452.7L379.8 452.8M379.8 452.8L377.8 456.3M375.6 454.5L377.8 456.3M363.4 454.5L363.2 453.0M357.7 453.3L357.8 453.3M357.8 453.3L363.2 453.0M380.1 458.0L378.9 457.6M380.1 458.0L381.3 455.1M378.9 457.6L381.0 454.9M381.3 455.1L381.0 454.9M380.4 458.2L380.1 458.0M378.2 457.4L378.9 457.6M378.2 457.4L376.9 460.3M377.0 460.5L376.9 460.3M383.2 455.9L381.3 455.1M378.2 457.4L378.0 457.0M379.8 452.8L381.0 454.9M377.8 456.3L378.0 457.0M374.2 457.6L370.7 456.1M374.2 457.6L375.0 459.7M375.0 459.7L374.0 460.3M374.0 460.3L370.9 458.4M370.8 458.4L370.9 458.4M370.8 458.4L370.5 456.4M370.5 456.4L370.7 456.1M371.4 454.3L370.7 456.1M378.0 457.0L374.2 457.6M376.9 460.3L375.0 459.7M373.7 462.0L374.0 460.3M372.0 462.8L370.9 458.4M368.1 462.6L370.8 458.4M369.7 456.5L370.5 456.4M364.4 449.9L363.6 451.5M363.2 453.0L363.6 451.5M357.4 449.5L360.8 451.0M357.4 449.5L357.5 452.0M357.5 452.0L360.8 451.0M357.3 449.4L357.4 449.5M363.6 451.5L360.8 451.0M357.4 452.7L357.5 452.0M498.4 403.0L497.5 406.3M497.5 406.3L497.0 406.7M498.4 403.0L500.2 403.3M497.5 406.3L500.2 405.8M500.2 403.3L500.2 405.8M500.2 403.3L502.2 401.7M501.5 401.0L502.2 401.7M500.7 409.0L497.0 409.5M500.7 409.0L501.8 407.9M500.2 405.8L500.4 405.9M501.8 407.9L500.4 405.9M502.2 401.7L503.0 401.8M503.0 401.8L503.8 403.8M500.4 405.9L503.8 403.8M525.0 402.5L528.2 405.6M525.0 402.5L528.8 402.4M528.8 402.4L529.5 403.7M528.2 405.6L529.5 403.7M497.0 410.9L498.8 412.4M498.8 412.4L498.8 415.0M500.7 409.0L501.4 411.7M498.8 412.4L501.0 412.2M501.4 411.7L501.0 412.2M529.2 392.5L529.1 393.7M529.2 392.5L527.9 391.6M524.9 392.2L528.0 394.3M528.0 394.3L529.1 393.7M504.2 400.7L503.0 401.8M504.2 400.7L503.7 399.6M529.2 392.5L530.1 391.3M534.1 396.2L533.7 392.3M534.1 396.2L538.6 393.5M538.7 393.4L538.6 393.5M533.9 392.2L533.7 392.3M538.7 393.9L538.6 393.5M533.5 392.1L533.7 392.3M501.8 407.9L504.5 407.8M503.8 403.8L505.6 406.5M505.6 406.5L504.5 407.8M501.4 411.7L504.8 411.2M504.5 407.8L504.8 411.2M522.1 393.9L523.8 397.2M522.1 393.9L522.5 392.7M528.0 394.3L525.6 396.2M523.8 397.2L525.6 396.2M529.1 393.7L531.6 396.1M534.1 396.2L533.8 396.7M531.6 396.1L533.8 396.7M534.7 399.9L534.6 399.8M534.6 399.8L533.8 396.7M513.3 407.2L512.0 404.0M513.3 407.2L515.8 404.8M515.8 404.8L512.1 403.7M512.0 404.0L512.1 403.7M512.8 409.6L509.8 408.5M512.8 409.6L513.3 407.2M509.8 408.5L508.1 406.8M512.0 404.0L508.1 406.8M522.1 393.9L517.4 393.7M522.8 399.5L521.2 399.6M522.8 399.5L523.4 398.6M521.2 399.6L518.0 398.2M518.0 398.2L516.9 393.9M523.8 397.2L523.4 398.6M523.0 405.8L518.9 408.2M523.0 405.8L525.7 408.1M524.4 412.2L526.0 411.3M524.4 412.2L523.8 412.3M523.8 412.3L519.5 411.0M519.5 411.0L518.3 409.8M518.3 409.8L518.9 408.2M525.7 408.1L526.0 411.3M523.4 401.9L522.9 404.3M523.4 401.9L525.0 402.5M528.2 405.6L528.1 406.0M522.9 404.3L523.0 405.8M525.7 408.1L528.1 406.0M532.2 403.7L529.5 403.7M528.1 406.0L529.9 407.0M524.4 412.2L524.8 414.5M523.8 412.3L523.1 413.8M523.1 413.8L523.3 416.1M523.3 416.1L523.6 416.3M526.0 411.3L526.8 411.6M512.8 409.6L512.8 409.6M512.8 409.6L509.3 412.9M509.8 408.5L507.6 411.3M509.3 412.9L507.6 411.3M505.6 406.5L507.2 406.3M504.8 411.2L505.3 412.0M508.1 406.8L507.2 406.3M505.3 412.0L507.6 411.3M528.2 397.6L528.9 399.3M528.2 397.6L530.9 396.7M530.9 396.7L528.9 399.3M525.6 396.2L528.2 397.6M531.6 396.1L530.9 396.7M528.8 401.6L531.8 400.1M528.8 401.6L528.2 400.0M531.8 400.1L528.9 399.4M528.2 400.0L528.9 399.4M528.8 402.4L528.8 401.6M534.6 399.8L531.8 400.1M523.4 401.9L522.8 399.5M523.4 398.6L528.2 400.0M528.9 399.3L528.9 399.4M517.3 404.5L518.0 404.0M517.3 404.5L517.0 404.4M517.0 404.4L517.7 401.3M518.0 404.0L519.6 401.2M519.6 401.2L517.7 401.3M522.9 404.3L518.0 404.0M518.9 408.2L517.3 404.5M512.8 409.6L514.5 410.9M515.8 404.8L516.7 404.3M514.5 410.9L518.3 409.8M516.7 404.3L517.0 404.4M514.9 401.2L517.7 401.3M514.9 401.2L516.7 404.3M521.2 399.6L519.6 401.2M518.0 398.2L517.3 398.6M514.9 401.2L514.8 401.1M517.3 398.6L514.8 401.1M514.6 397.6L516.6 398.3M514.6 397.6L514.3 396.3M516.6 398.3L514.4 396.2M514.3 396.3L514.4 396.2M517.3 398.6L516.6 398.3M516.6 394.0L514.4 396.2M512.4 396.5L512.8 395.4M512.4 396.5L514.3 396.3M514.8 401.1L513.6 400.9M514.6 397.6L513.5 399.5M513.5 399.5L513.6 400.9M511.9 402.1L512.1 403.7M511.9 402.1L512.9 401.2M512.9 401.2L513.6 400.9M507.4 405.5L510.7 402.0M507.4 405.5L507.1 399.7M510.7 402.0L507.2 399.6M507.1 399.7L507.2 399.6M511.9 402.1L510.7 402.0M507.2 406.3L507.4 405.5M504.2 400.7L507.1 399.7M507.4 398.8L509.9 397.9M507.4 398.8L507.2 399.6M509.9 397.9L512.9 401.2M507.0 397.6L507.0 397.6M507.0 397.6L507.4 398.8M523.1 413.8L520.8 415.8M523.3 416.1L522.4 417.8M520.8 415.8L522.4 417.8M519.5 411.0L519.0 415.4M519.0 415.4L519.4 416.0M520.8 415.8L519.4 416.0M513.7 425.2L513.8 425.7M513.7 425.2L513.4 424.7M511.7 424.7L513.4 424.7M513.8 425.7L513.3 426.1M509.3 412.9L509.1 414.9M505.3 412.0L505.3 412.9M509.1 414.9L505.3 412.9M510.9 397.1L511.9 396.7M510.9 397.1L510.3 396.4M511.7 395.9L512.0 396.7M512.0 396.7L511.9 396.7M509.9 397.9L510.9 397.1M513.5 399.5L511.9 396.7M507.0 397.6L507.0 397.6M512.4 396.5L512.0 396.7M514.5 410.9L514.3 413.2M509.2 415.2L509.1 414.9M509.2 415.2L509.7 415.3M509.7 415.3L514.3 413.2M519.0 415.4L514.7 414.5M514.3 413.2L514.7 414.5M518.4 419.4L519.4 416.0M518.4 419.4L517.8 419.7M514.7 414.5L514.5 417.5M517.8 419.7L514.5 417.5M509.7 415.3L512.6 418.7M514.5 417.5L512.6 418.7M513.7 425.2L517.8 423.5M517.8 423.5L517.3 421.5M513.4 424.7L513.4 423.4M513.4 423.4L516.0 421.8M517.3 421.5L516.0 421.8M517.8 419.7L517.3 421.5M516.0 421.8L512.5 420.3M512.6 418.7L512.2 419.3M512.2 419.3L512.5 420.3M516.8 426.4L514.1 426.1M514.1 426.1L514.2 426.8M517.8 423.5L518.4 424.1M513.8 425.7L514.1 426.1M504.9 413.6L504.4 416.3M504.9 413.6L501.5 413.5M504.4 416.3L502.6 416.8M502.6 416.8L500.8 416.3M500.8 416.3L501.5 413.5M509.2 415.2L507.0 418.1M507.0 418.1L504.7 416.6M505.3 412.9L504.9 413.6M504.7 416.6L504.4 416.3M501.0 412.2L501.5 413.5M504.1 418.7L504.7 416.6M502.6 417.7L502.6 416.8M500.7 416.3L500.8 416.3M513.0 422.7L512.5 421.1M513.0 422.7L510.2 423.2M512.5 421.1L510.3 422.6M510.2 423.2L510.3 422.6M513.4 423.4L513.0 422.7M512.5 420.3L512.5 421.1M510.1 423.5L510.2 423.2M509.7 421.2L510.7 419.6M509.7 421.2L507.8 421.6M510.7 419.6L507.0 418.1M506.9 420.9L506.6 419.4M506.6 419.4L507.0 418.1M512.2 419.3L510.7 419.6M510.3 422.6L509.7 421.2M507.0 418.1L507.0 418.1M505.5 419.8L506.6 419.4M518.4 419.4L520.2 419.8M520.2 419.8L520.8 420.6M521.9 418.8L521.6 419.1M521.6 419.1L521.7 419.2M522.4 417.8L522.5 418.0M520.2 419.8L521.6 419.1M377.3 419.3L377.2 416.9M409.4 448.4L408.9 447.6M409.5 447.0L408.9 447.6M396.3 445.5L398.9 442.8M396.3 445.5L398.8 448.4M398.8 448.4L398.9 448.4M398.9 448.4L400.5 445.3M400.5 445.3L400.0 442.8M400.0 442.8L398.9 442.8M404.5 442.5L404.6 448.5M404.5 442.5L402.4 441.2M404.6 448.5L400.5 445.3M402.4 441.2L400.0 442.8M408.9 447.6L405.0 449.4M405.0 449.4L407.0 451.9M404.6 448.5L404.9 449.4M398.9 448.4L404.6 449.6M404.9 449.4L404.6 449.6M403.9 456.4L402.6 456.5M404.9 455.0L401.7 454.9M401.8 456.0L401.7 454.9M405.0 449.4L404.9 449.4M404.6 449.6L401.4 454.0M401.4 454.0L401.7 454.9M404.5 442.5L404.9 442.4M402.4 441.2L402.3 441.0M402.3 441.0L402.8 440.3M391.4 425.8L390.0 427.4M394.0 429.7L391.3 429.9M390.0 427.4L391.3 429.9M393.3 435.8L390.1 432.2M393.3 435.8L394.3 430.2M391.3 429.9L390.1 432.2M399.3 453.5L397.9 453.6M399.3 453.5L399.4 453.5M399.4 453.5L399.0 454.3M398.0 449.7L399.3 453.5M398.0 449.7L398.8 448.4M401.4 454.0L399.4 453.5M383.2 438.4L384.8 439.6M384.3 442.2L384.3 442.0M384.3 442.0L384.8 439.6M382.8 434.1L388.6 432.8M382.8 434.1L382.4 435.2M388.6 432.8L388.1 437.9M388.1 437.9L385.7 439.6M385.7 439.6L384.8 439.6M396.7 439.3L393.5 436.4M396.7 439.3L399.7 437.2M393.5 436.2L393.5 436.4M393.5 436.2L397.0 434.3M392.7 442.2L396.8 441.0M392.7 442.2L392.4 437.6M396.8 441.0L396.7 439.3M392.4 437.6L393.5 436.4M398.9 442.8L396.8 441.0M402.3 441.0L400.0 437.5M388.6 432.8L388.7 432.6M388.1 437.9L392.4 437.6M393.3 435.8L393.5 436.2M388.7 432.6L390.1 432.2M386.2 422.6L386.4 417.9M386.2 422.6L387.7 422.6M387.8 422.6L387.7 422.6M387.8 422.6L387.3 419.7M388.9 422.2L387.8 422.6M388.6 426.9L390.0 427.4M388.6 426.9L387.7 422.6M382.8 434.1L382.5 431.7M382.5 431.7L381.8 431.6M386.2 422.6L384.5 422.7M385.6 417.8L383.7 420.1M384.5 422.7L383.7 420.1M382.6 417.5L383.1 419.9M383.1 419.9L383.7 420.1M379.9 417.2L377.9 419.2M383.1 419.9L377.9 419.2M377.3 419.3L377.4 419.4M377.4 419.4L377.9 419.2M377.4 419.4L377.4 419.8M382.5 431.7L382.6 431.2M382.6 431.2L381.5 429.8M386.7 427.5L385.5 428.7M386.7 427.5L384.2 423.2M384.2 423.2L381.7 424.7M381.7 424.7L384.9 428.8M384.9 428.8L385.5 428.7M388.6 426.9L386.7 427.5M388.7 432.6L385.5 428.7M384.5 422.7L384.2 423.2M380.4 424.8L381.7 424.7M382.6 431.2L384.9 428.8M398.0 449.7L397.6 449.7M396.3 445.5L396.3 445.5M396.0 449.0L397.6 449.7M396.0 449.0L395.6 446.4M395.6 446.4L396.3 445.5M392.7 442.2L392.3 442.8M396.3 445.5L392.3 442.8M385.7 439.6L390.9 443.7M392.3 442.8L390.9 443.7M385.3 445.7L386.0 446.6M390.9 443.7L389.9 446.8M386.0 446.6L389.9 446.8M386.0 446.6L385.7 447.2M389.6 449.7L390.9 448.6M392.4 450.8L391.7 449.3M391.7 449.3L391.6 449.1M391.6 449.1L390.9 448.6M389.9 446.8L390.9 448.6M396.0 449.0L391.7 449.3M397.6 449.7L394.7 451.7M395.6 446.4L391.6 449.1M481.9 465.1L479.3 467.8M481.9 465.1L480.9 463.8M480.9 463.8L477.4 466.4M479.3 467.8L477.7 466.9M477.7 466.9L477.4 466.4M439.5 481.2L439.9 480.9M439.5 482.4L440.0 483.7M439.9 480.9L441.2 482.9M441.2 482.9L440.0 483.7M439.3 484.7L439.4 484.7M440.0 483.7L439.4 484.7M439.9 480.9L440.3 480.1M440.3 480.1L439.6 480.0M454.4 488.5L453.6 488.6M454.4 488.5L455.4 493.2M452.3 489.2L454.0 493.7M452.3 489.2L453.6 488.6M454.0 493.7L454.0 493.7M480.3 469.6L480.7 469.6M480.3 469.6L479.3 471.2M480.7 469.6L483.3 470.6M479.3 471.2L479.0 472.9M483.3 470.6L483.4 472.7M483.4 472.7L479.8 473.5M479.0 472.9L479.8 473.5M475.9 469.5L475.8 469.8M475.9 469.5L477.7 466.9M475.8 469.8L479.3 471.2M479.3 467.8L480.3 469.6M480.8 476.0L483.9 473.2M480.8 476.0L479.8 473.5M483.9 473.2L483.4 472.7M486.0 470.5L485.2 469.6M484.2 473.4L483.9 473.2M483.3 470.6L484.9 469.5M485.2 469.6L484.9 469.5M485.2 469.6L486.8 468.8M478.9 458.4L479.1 458.5M475.8 459.6L474.9 462.0M479.1 458.5L476.2 462.8M476.2 462.8L474.8 463.7M474.9 462.0L474.6 463.7M474.8 463.7L474.6 463.7M480.4 458.6L479.1 458.5M475.1 459.8L474.9 462.0M480.6 463.1L476.2 462.8M480.6 463.1L480.9 463.8M477.4 466.4L474.8 463.7M468.9 469.2L471.9 463.4M468.9 469.2L467.5 466.0M471.9 463.4L469.4 464.0M467.5 466.0L469.4 464.0M466.3 473.5L463.0 470.6M466.3 473.5L468.0 471.2M468.0 471.2L468.0 471.2M468.0 471.2L464.4 467.9M463.0 470.6L464.2 468.0M464.4 467.9L464.2 468.0M466.2 473.9L466.3 473.5M466.2 473.9L463.6 474.8M463.6 474.8L460.7 472.5M460.7 472.5L461.6 470.3M461.6 470.3L463.0 470.6M472.2 475.3L472.7 474.3M472.2 475.3L468.8 477.5M471.6 472.5L468.0 471.2M471.6 472.5L472.7 474.3M466.2 473.9L468.1 477.2M472.7 474.3L472.7 474.3M468.8 477.5L468.1 477.2M468.9 469.2L468.9 469.2M468.9 469.2L468.0 471.2M467.5 466.0L465.0 465.2M465.0 465.2L464.4 467.9M461.6 470.3L461.2 469.6M461.2 469.6L461.2 468.0M461.2 468.0L464.2 468.0M474.1 473.1L476.2 472.7M474.1 473.1L474.7 470.9M476.2 472.7L475.1 470.8M474.7 470.9L475.1 470.8M477.2 473.6L476.2 472.7M477.2 473.6L476.3 475.4M472.7 474.3L474.1 473.1M472.7 474.3L476.0 475.4M476.3 475.4L476.0 475.4M471.6 472.5L473.5 470.8M473.5 470.8L474.7 470.9M477.2 473.6L479.0 472.9M475.8 469.8L475.1 470.8M474.4 463.7L473.6 463.5M474.4 463.7L473.8 467.9M473.6 463.5L471.0 468.7M473.8 467.9L472.7 468.9M471.0 468.7L472.7 468.9M472.0 461.5L472.0 461.0M472.0 461.5L472.6 463.0M472.6 463.0L473.6 463.5M474.6 463.7L474.4 463.7M475.9 469.5L473.8 467.9M468.9 469.2L471.0 468.7M472.6 463.0L471.9 463.4M473.5 470.8L472.7 468.9M449.6 460.5L450.1 460.4M448.9 461.5L450.4 466.6M450.1 460.4L454.4 464.1M454.4 464.1L453.3 465.9M453.3 465.9L450.8 466.8M450.4 466.6L450.8 466.8M449.0 467.0L450.4 466.6M449.0 467.0L446.4 465.5M446.4 465.0L446.4 465.5M454.8 463.4L454.6 464.0M454.6 464.0L454.4 464.1M450.1 460.4L450.3 460.2M440.3 480.1L441.0 479.4M439.7 478.3L441.0 479.2M441.0 479.2L441.0 479.4M452.3 489.2L450.6 489.8M454.0 493.7L451.4 492.9M451.4 492.9L450.6 489.8M465.8 483.8L464.7 485.8M465.8 483.8L464.1 480.7M463.1 484.3L462.9 481.7M463.1 484.3L464.6 485.8M464.6 485.8L464.7 485.8M462.9 481.7L463.0 480.7M463.0 480.7L464.1 480.7M459.6 484.4L460.4 485.4M459.6 484.4L462.9 481.7M460.4 485.4L463.1 484.3M462.8 486.9L460.4 486.3M462.8 486.9L463.9 486.3M464.4 486.0L463.9 486.3M464.4 486.0L464.6 485.8M460.4 485.4L460.4 486.3M461.5 479.6L460.3 479.9M461.5 479.6L463.0 480.7M460.3 479.9L458.4 483.5M458.4 483.5L459.6 484.4M461.5 479.6L462.1 476.8M463.6 474.8L462.3 476.4M462.3 476.4L462.1 476.8M465.4 480.3L468.1 477.2M465.4 480.3L464.1 480.7M465.4 480.3L467.6 482.4M465.8 483.8L467.1 483.2M467.1 483.2L467.6 482.4M484.9 469.5L484.2 466.0M485.0 465.8L484.2 466.0M481.9 465.1L483.4 465.4M480.7 469.6L483.9 465.9M483.4 465.4L483.9 465.9M483.9 465.9L484.2 466.0M480.8 476.0L481.2 477.8M481.4 477.8L481.2 477.8M476.3 475.4L476.8 476.6M480.5 478.1L476.8 476.6M480.5 478.1L480.8 478.2M481.2 477.8L480.8 478.2M472.0 461.5L471.4 461.3M469.4 464.0L467.8 463.1M465.0 465.2L464.7 464.6M480.5 478.1L476.7 479.1M476.8 476.6L476.5 477.1M476.5 477.1L476.7 479.1M483.4 465.4L483.7 463.9M480.6 463.1L481.6 460.5M461.0 466.5L460.9 467.7M457.7 465.4L457.8 466.6M457.8 466.6L458.5 468.1M458.5 468.1L460.9 467.7M454.6 464.0L456.4 464.5M461.2 468.0L460.9 467.7M454.8 467.8L453.3 465.9M454.8 467.8L457.8 466.6M454.8 467.8L454.8 467.9M458.5 468.1L458.2 468.5M454.8 467.9L458.2 468.5M449.0 467.0L447.0 469.4M450.8 466.8L451.3 470.0M447.2 470.6L447.0 469.4M447.2 470.6L450.5 471.5M450.5 471.5L451.3 470.0M462.3 476.4L459.1 474.5M462.1 476.8L457.8 475.9M459.1 474.5L457.8 475.9M460.3 479.9L455.8 477.9M455.8 477.9L457.0 476.3M457.8 475.9L457.0 476.3M447.0 469.4L444.1 468.3M446.4 465.5L446.1 465.6M446.1 465.6L444.4 467.9M444.4 487.7L446.3 489.0M444.4 487.7L444.3 486.4M447.5 486.9L446.3 489.0M447.5 486.9L446.5 486.3M446.5 486.3L444.3 486.4M439.2 489.0L439.7 490.3M439.2 489.0L440.7 487.2M440.7 487.2L443.3 489.2M440.5 490.7L442.9 490.4M442.9 490.4L443.3 489.9M443.3 489.9L443.3 489.2M439.1 489.0L439.2 489.0M439.4 484.7L440.9 486.4M440.9 486.4L440.7 487.2M440.9 486.4L443.3 485.3M444.4 487.7L443.3 489.2M443.3 485.3L444.3 486.4M443.2 491.9L442.9 490.4M441.0 479.2L441.9 474.7M441.0 479.4L442.8 480.0M442.8 480.0L443.2 479.8M443.2 479.8L443.9 475.7M443.9 475.7L441.9 474.7M447.2 470.6L446.4 472.1M443.5 469.2L444.1 471.9M444.1 471.9L446.4 472.1M440.3 473.6L441.5 474.2M444.1 471.9L441.5 474.2M441.5 474.2L441.9 474.7M451.7 485.4L453.6 488.6M451.7 485.4L449.2 486.5M450.6 489.8L450.4 489.8M450.4 489.8L449.0 486.9M449.2 486.5L449.0 486.9M447.5 486.9L447.8 486.9M450.4 489.8L449.2 490.3M449.2 490.3L446.3 489.0M446.3 489.0L446.3 489.0M449.0 486.9L447.8 486.9M451.4 492.9L450.9 493.5M450.9 493.5L451.5 494.5M448.4 494.3L449.3 493.9M449.3 493.9L450.1 494.1M450.1 494.1L450.2 494.9M448.2 491.5L449.3 493.9M448.2 491.5L449.2 490.3M450.9 493.5L450.1 494.1M444.2 490.2L446.2 489.1M444.2 490.2L446.1 492.4M446.2 489.1L446.1 492.3M446.1 492.4L446.1 492.3M446.3 489.0L446.2 489.1M443.3 489.9L444.2 490.2M445.7 493.1L446.1 492.4M448.2 491.5L446.1 492.3M464.5 489.6L464.7 490.1M464.5 489.6L467.1 488.5M467.1 488.5L467.1 488.6M464.4 486.0L463.8 489.5M464.7 485.8L466.6 486.7M464.5 489.6L463.8 489.5M467.1 488.5L466.6 486.7M467.1 483.2L467.7 485.9M466.6 486.7L467.7 485.9M463.9 486.3L462.3 489.5M463.8 489.5L462.6 489.9M462.3 489.5L462.6 489.9M462.8 486.9L461.9 488.8M462.3 489.5L461.9 488.8M480.8 478.2L480.7 478.9M457.3 470.8L457.8 470.7M457.3 470.8L455.3 472.3M457.9 470.7L457.8 470.7M457.9 470.7L459.2 472.7M459.2 472.7L459.2 472.7M459.2 472.7L456.9 473.7M455.3 472.3L456.9 473.7M454.8 467.9L454.8 468.7M454.8 468.7L457.3 470.8M458.2 468.5L457.8 470.7M461.2 469.6L457.9 470.7M460.7 472.5L459.2 472.7M459.1 474.5L459.2 472.7M457.0 476.3L456.9 473.7M454.8 468.7L454.1 470.1M455.3 472.3L455.1 472.4M454.1 470.1L455.1 472.4M451.3 470.0L452.5 470.3M454.1 470.1L452.5 470.3M456.3 481.5L455.2 482.7M456.3 481.5L458.1 483.6M455.2 482.7L456.2 484.1M456.2 484.1L457.8 483.9M458.1 483.6L457.8 483.9M455.8 477.9L455.1 478.0M458.4 483.5L458.1 483.6M455.1 478.0L456.3 481.5M455.1 478.0L453.0 477.8M455.1 472.4L454.1 473.2M453.0 477.8L454.1 473.2M447.1 482.8L447.9 482.6M447.1 482.8L447.8 486.9M449.2 486.5L448.8 483.5M448.8 483.5L447.9 482.6M446.1 465.6L446.0 465.6M443.5 484.5L446.6 483.3M443.5 484.5L442.8 483.0M442.9 482.5L442.8 483.0M442.9 482.5L445.9 481.8M445.9 481.8L447.1 482.8M447.1 482.8L446.6 483.3M443.3 485.3L443.5 484.5M446.5 486.3L446.6 483.3M441.2 482.9L442.8 483.0M442.8 480.0L442.9 482.5M443.2 479.8L443.6 479.8M443.6 479.8L445.3 480.7M445.3 480.7L445.9 481.8M447.1 482.8L447.1 482.8M443.6 479.8L446.6 477.6M445.3 480.7L448.0 478.1M448.0 478.1L446.6 477.6M447.9 482.6L449.9 478.4M448.0 478.1L449.9 478.4M443.9 475.7L444.9 475.8M446.6 477.6L444.9 475.8M454.9 488.2L454.9 487.8M454.9 488.2L455.8 488.2M456.2 484.1L455.4 484.7M457.8 483.9L457.3 487.2M454.9 487.8L455.4 484.7M455.8 488.2L457.3 487.2M460.4 486.3L460.0 487.3M457.3 487.2L460.0 487.3M461.9 488.8L460.1 487.6M460.0 487.3L460.1 487.6M467.6 482.4L469.6 482.3M467.7 485.9L469.4 485.4M469.4 485.4L469.6 482.3M468.8 477.5L470.2 479.3M470.2 479.3L470.6 481.5M469.6 482.3L470.6 481.5M470.5 479.2L473.8 478.7M470.5 479.2L473.1 476.9M473.8 478.7L473.6 477.4M473.1 476.9L473.6 477.3M473.6 477.3L473.6 477.4M472.2 475.3L473.1 476.9M470.2 479.3L470.5 479.2M476.0 475.4L473.6 477.3M476.5 477.1L476.2 477.3M476.2 477.3L473.6 477.4M474.5 479.0L476.4 480.6M474.5 479.0L474.1 479.0M474.1 479.0L472.8 482.5M476.9 482.1L476.4 480.6M472.8 482.5L474.3 483.8M476.2 477.3L474.5 479.0M476.7 479.1L476.4 480.6M473.8 478.7L474.1 479.0M470.6 481.5L472.8 482.5M452.6 470.4L453.8 473.0M452.6 470.4L452.7 472.5M452.7 472.5L453.8 473.0M452.5 470.3L452.6 470.4M454.1 473.2L453.8 473.0M450.5 471.5L450.5 471.7M450.5 471.7L452.7 472.5M453.0 477.8L452.5 478.0M450.3 472.6L451.6 477.8M450.3 472.6L450.5 471.7M451.6 477.8L452.5 478.0M454.2 482.4L452.6 479.7M454.2 482.4L454.0 484.1M452.6 479.7L451.7 483.6M453.1 484.4L454.0 484.1M453.1 484.4L452.1 484.4M452.1 484.4L451.7 483.6M455.2 482.7L454.2 482.4M452.5 478.0L452.6 479.7M455.4 484.7L454.0 484.1M451.6 477.8L450.7 478.0M448.8 483.5L451.7 483.6M450.7 478.0L449.9 478.4M454.9 487.8L453.1 484.4M451.7 485.4L452.1 484.4M454.4 488.5L454.9 488.2M446.6 472.7L445.6 475.0M446.6 472.7L447.9 473.5M445.6 475.0L448.4 475.0M447.9 473.5L448.4 475.0M446.4 472.1L446.6 472.7M444.9 475.8L445.6 475.0M450.3 472.6L447.9 473.5M450.7 478.0L448.4 475.0M471.2 485.9L470.5 486.1M470.5 486.1L470.5 486.4M469.4 485.4L470.5 486.1M462.6 489.9L462.2 490.9M462.2 490.9L462.2 490.9M455.8 488.2L457.4 489.8M460.1 487.6L459.2 489.7M457.4 489.8L459.2 489.7M460.8 491.4L460.2 491.1M460.2 491.1L457.4 492.0M457.1 492.6L457.4 492.0M462.2 490.9L462.0 491.0M459.2 489.7L460.2 491.1M457.4 489.8L457.4 492.0M335.9 458.2L335.9 458.0M338.7 459.4L337.7 457.6M335.9 458.0L337.7 457.6M350.8 461.7L351.6 460.4M351.6 460.4L352.3 461.1M344.6 460.9L345.2 459.0M345.2 459.0L348.5 458.6M348.5 458.6L350.9 459.4M351.6 460.4L350.9 459.4M358.3 454.3L358.2 454.3M357.4 452.6L357.8 453.3M357.8 453.3L358.2 454.3M357.3 452.2L355.0 453.1M358.2 454.3L357.8 454.7M357.8 454.7L355.0 453.1M351.9 455.3L348.5 458.6M351.9 455.3L353.0 454.8M350.9 459.4L353.0 458.3M353.0 458.3L353.7 455.8M353.7 455.8L353.0 454.8M353.2 452.5L351.4 451.9M353.2 452.5L353.3 452.8M351.9 455.3L348.0 453.8M351.4 451.9L348.0 453.8M353.0 454.8L353.3 452.8M353.2 452.5L354.1 450.7M353.3 452.8L355.0 453.1M347.1 450.7L346.2 452.2M346.2 452.2L348.7 451.4M351.4 451.9L351.2 451.6M348.0 453.8L344.3 454.5M344.3 454.5L346.2 452.2M336.3 453.5L335.9 454.1M336.6 453.2L343.1 453.0M335.9 454.1L338.8 456.6M343.1 453.0L344.3 454.5M339.1 456.7L338.8 456.6M339.1 456.7L344.3 455.7M344.3 455.7L344.3 454.5M342.5 450.5L343.1 453.0M344.3 454.5L344.3 454.5M338.8 459.4L339.1 456.7M337.7 457.6L338.8 456.6M345.2 459.0L344.3 455.7M334.8 455.2L335.3 454.7M334.8 455.2L334.4 455.4M333.9 455.5L332.5 456.0M335.3 454.7L335.2 454.6M332.2 455.4L332.5 456.0M335.9 458.0L334.8 455.2M335.9 454.1L335.3 454.7M332.0 456.5L332.5 456.0M357.5 457.0L357.0 456.5M357.5 457.0L357.5 458.8M357.0 456.5L355.5 456.6M355.5 456.6L354.9 459.8M357.5 458.8L357.4 459.0M355.0 460.0L354.9 459.8M359.6 457.2L357.5 457.0M357.8 454.7L357.0 456.5M358.1 458.8L357.5 458.8M353.7 455.8L355.5 456.6M353.0 458.3L354.9 459.8M361.1 424.1L362.6 426.1M361.1 424.1L361.1 423.2M364.0 421.6L363.3 421.4M361.1 423.2L363.3 421.4M364.0 419.6L363.7 419.7M363.3 421.4L363.7 419.7M344.5 404.1L344.4 404.0M346.9 403.3L346.6 403.6M362.4 408.7L361.9 409.1M361.9 409.1L358.8 408.8M356.8 407.0L358.8 408.8M355.0 407.0L352.0 410.0M350.2 409.2L352.0 410.0M349.7 409.6L348.0 411.1M363.6 419.0L363.7 419.7M363.6 419.0L363.5 417.2M363.5 417.2L364.0 416.8M361.1 424.1L358.1 426.3M357.6 429.8L358.1 426.3M357.4 422.0L359.6 422.0M357.4 422.0L353.9 425.3M361.1 423.2L359.6 422.0M358.1 426.3L353.9 425.3M352.5 431.5L352.1 433.3M352.5 431.5L355.2 430.3M356.4 430.7L355.2 430.3M346.8 419.7L346.8 419.7M346.8 419.7L347.4 421.6M347.4 421.6L347.4 421.6M347.6 422.4L347.7 422.2M347.4 421.6L347.7 422.2M348.0 418.6L346.8 419.7M348.0 418.6L352.3 420.7M347.7 422.2L351.6 423.6M351.6 423.6L352.4 421.4M352.3 420.7L352.4 421.4M346.6 416.1L349.0 416.5M347.0 414.5L347.9 414.0M347.9 414.0L349.5 415.9M349.0 416.5L349.5 415.9M348.0 418.6L349.0 416.5M358.8 408.8L355.4 412.7M352.0 410.0L352.9 411.6M355.4 412.7L352.9 411.6M347.5 413.1L347.6 412.4M347.5 413.1L347.9 414.0M349.5 415.9L350.4 415.8M352.9 411.6L350.4 415.8M352.3 420.7L352.7 417.8M350.4 415.8L352.7 417.8M347.5 413.1L347.4 413.1M361.9 409.1L361.2 412.4M363.7 413.9L361.8 413.1M361.2 412.4L361.8 413.1M355.4 412.7L357.4 415.6M361.2 412.4L357.4 415.6M363.5 417.2L362.5 416.6M361.8 413.1L362.5 416.6M352.5 431.5L351.2 430.5M351.2 430.5L349.9 430.2M355.8 421.0L358.4 418.0M355.8 421.0L355.4 420.8M355.4 420.8L356.5 416.6M356.5 416.6L357.4 416.0M357.4 416.0L357.7 416.3M357.7 416.3L358.3 417.7M358.3 417.7L358.4 418.0M357.4 422.0L357.0 421.8M357.0 421.8L355.8 421.0M359.6 422.0L358.4 418.0M351.7 423.8L357.0 421.8M351.7 423.8L351.6 423.6M352.4 421.4L355.4 420.8M352.7 417.8L356.5 416.6M357.4 415.6L357.4 416.0M362.5 416.6L357.7 416.3M363.6 419.0L358.3 417.7M350.4 428.6L352.5 427.8M350.4 428.6L350.4 425.6M351.8 424.2L353.2 425.3M351.8 424.2L350.4 425.6M353.2 425.3L353.3 426.6M353.3 426.6L352.5 427.8M351.2 430.5L352.5 427.8M349.8 430.0L350.4 428.6M348.8 426.5L350.4 425.6M351.7 423.8L351.8 424.2M353.9 425.3L353.2 425.3M355.2 430.3L353.3 426.6" fill="none" stroke="#94949c" stroke-width="0.42"/>
<defs><radialGradient id="dg"><stop offset="0" stop-color="#6e6e74" stop-opacity="0.42"/><stop offset="0.55" stop-color="#77777d" stop-opacity="0.2"/><stop offset="1" stop-color="#808086" stop-opacity="0"/></radialGradient><clipPath id="cw"><path d="M462.5 448.2 L447.5 452.5 L435.0 457.5 L422.5 455.0 L410.0 447.5 L397.5 435.0 L387.5 420.0 L380.0 405.0 L373.0 390.0 L362.5 387.8 L352.0 384.2 L338.0 380.8 L331.0 368.5 L327.5 359.8 L324.0 352.8 L315.2 349.2 L304.8 344.0 L297.8 343.0 L292.5 349.2 L282.0 356.2 L276.8 365.0 L275.4 370.0 L273.6 376.1 L271.0 382.2 L269.2 388.4 L262.2 385.8 L257.9 380.5 L254.4 377.9 L251.8 382.2 L247.4 385.0 L249.0 392.8 L250.9 405.0 L252.6 415.5 L248.2 421.6 L253.5 418.0 L262.2 415.5 L266.6 410.2 L271.0 406.8 L279.8 410.2 L286.8 412.0 L293.8 410.2 L296.4 405.0 L295.5 398.0 L299.0 391.0 L303.4 389.2 L309.5 394.5 L313.0 399.8 L318.2 399.0 L327.0 400.6 L334.0 404.0 L341.0 405.0 L348.0 403.2 L352.4 401.5 L353.2 406.8 L348.0 411.0 L346.2 417.2 L341.0 422.5 L339.2 426.0 L334.0 427.8 L327.0 428.6 L321.8 427.8 L316.5 426.0 L309.5 424.2 L306.0 420.8 L300.8 424.2 L295.5 426.0 L293.8 431.2 L295.5 438.2 L290.2 443.5 L286.8 447.0 L283.2 441.8 L278.0 438.2 L271.0 439.0 L265.8 441.8 L258.8 438.2 L253.5 431.2 L249.8 426.9 L250.0 427.8 L257.0 438.2 L265.8 442.6 L274.5 447.0 L281.5 454.0 L293.8 459.2 L306.0 462.8 L318.0 470.0 L330.0 480.0 L350.0 487.5 L367.5 492.5 L385.0 500.0 L400.0 501.0 L417.5 495.0 L435.0 492.5 L450.0 500.0 L465.0 507.5 L472.5 516.0 L475.0 495.0 L490.0 487.5 L499.0 482.5 L487.5 469.0 L489.5 458.8 L489.5 455.0 L479.0 455.0 L476.8 456.5 L470.0 453.5 L464.8 449.8 L464.0 448.2 L473.0 444.5 L462.5 448.2ZM518.8 455.0 L524.0 453.5 L527.0 447.5 L533.0 446.0 L539.0 447.5 L540.5 441.5 L543.5 432.5 L543.5 423.5 L545.0 416.0 L548.0 408.5 L551.8 399.5 L551.0 392.0 L546.5 389.0 L542.0 391.2 L530.0 391.2 L518.0 393.5 L506.0 398.0 L497.0 404.0 L493.2 410.0 L497.0 413.8 L504.5 419.0 L515.8 428.0 L516.5 440.0 L518.8 457.2 L518.8 455.0Z"/></clipPath></defs>
<g clip-path="url(#cw)">
<ellipse cx="395" cy="479" rx="30" ry="19" fill="url(#dg)" opacity="1"/>
<ellipse cx="373" cy="443" rx="15" ry="16" fill="url(#dg)" opacity="0.8"/>
<ellipse cx="520" cy="405" rx="17" ry="11" fill="url(#dg)" opacity="0.7"/>
<ellipse cx="456" cy="478" rx="17" ry="13" fill="url(#dg)" opacity="0.55"/>
<ellipse cx="392" cy="432" rx="12" ry="20" fill="url(#dg)" opacity="0.5"/>
<ellipse cx="345" cy="458" rx="12" ry="7" fill="url(#dg)" opacity="0.4"/>
<ellipse cx="352" cy="418" rx="10" ry="10" fill="url(#dg)" opacity="0.4"/>
</g>
<path d="M324.0 352.8 L317.0 363.2 L310.0 368.5 L303.0 372.0 L303.0 380.8 L310.0 384.2 L317.0 382.5 L317.0 391.2 L313.5 396.5" fill="none" stroke="#7f7f84" stroke-width="0.85" stroke-linejoin="round"/>
<path d="M362.5 387.8 L364.2 400.0 L359.0 407.0 L352.0 405.2" fill="none" stroke="#7f7f84" stroke-width="0.85" stroke-linejoin="round"/>
<path d="M363.0 390.5 L361.5 404.5 L365.0 415.0 L375.5 416.8 L380.8 425.5 L382.5 436.0 L386.0 448.2 L394.8 451.8 L403.5 457.0 L412.2 467.5 L424.5 472.8 L440.2 474.5" fill="none" stroke="#7f7f84" stroke-width="0.85" stroke-linejoin="round"/>
<path d="M364.0 435.0 L370.0 433.0 L376.0 436.0 L375.0 441.0 L368.0 442.0 L364.0 439.0 L364.0 435.0" fill="none" stroke="#7f7f84" stroke-width="0.85" stroke-linejoin="round"/>
<path d="M365.0 465.8 L377.2 460.5 L387.8 457.0 L394.8 451.8" fill="none" stroke="#7f7f84" stroke-width="0.85" stroke-linejoin="round"/>
<path d="M365.0 465.8 L370.2 478.0 L368.5 492.0" fill="none" stroke="#7f7f84" stroke-width="0.85" stroke-linejoin="round"/>
<path d="M356.2 450.0 L360.0 458.0 L365.0 465.8" fill="none" stroke="#7f7f84" stroke-width="0.85" stroke-linejoin="round"/>
<path d="M438.5 460.5 L450.8 457.0 L457.8 467.5 L470.0 459.0 L476.8 456.5" fill="none" stroke="#7f7f84" stroke-width="0.85" stroke-linejoin="round"/>
<path d="M440.2 474.5 L438.5 460.5 L436.0 457.5" fill="none" stroke="#7f7f84" stroke-width="0.85" stroke-linejoin="round"/>
<path d="M440.2 474.5 L439.0 485.0 L436.0 492.5" fill="none" stroke="#7f7f84" stroke-width="0.85" stroke-linejoin="round"/>
<path d="M306.0 462.8 L312.0 456.5 L322.0 453.0 L331.0 457.0 L338.0 452.5" fill="none" stroke="#7f7f84" stroke-width="0.85" stroke-linejoin="round"/>
<path d="M344.5 449.6 L350.0 452.0 L356.2 450.0" fill="none" stroke="#7f7f84" stroke-width="0.85" stroke-linejoin="round"/>
<path d="M290.2 443.5 L293.0 452.0 L293.8 459.2" fill="none" stroke="#7f7f84" stroke-width="0.85" stroke-linejoin="round"/>
<path d="M515.8 428.0 L539.0 393.5" fill="none" stroke="#7f7f84" stroke-width="0.85" stroke-linejoin="round"/>
<path d="M516.5 432.5 L542.0 432.5" fill="none" stroke="#7f7f84" stroke-width="0.85" stroke-linejoin="round"/>
<path d="M252.6 415.5 L258.0 410.0 L264.0 406.0 L270.0 398.0 L271.0 394.5" fill="none" stroke="#7f7f84" stroke-width="0.85" stroke-linejoin="round"/>
<path d="M280.6 403.0 L284.0 408.0 L286.8 412.0" fill="none" stroke="#7f7f84" stroke-width="0.85" stroke-linejoin="round"/>
<path d="M288.5 392.8 L294.0 392.0 L299.0 391.0" fill="none" stroke="#7f7f84" stroke-width="0.85" stroke-linejoin="round"/>
<path d="M353.2 406.8 L359.0 407.0" fill="none" stroke="#7f7f84" stroke-width="0.85" stroke-linejoin="round"/>
<path d="M348.0 411.0 L355.0 418.0 L352.0 428.0 L356.8 431.2" fill="none" stroke="#7f7f84" stroke-width="0.85" stroke-linejoin="round"/>
<path d="M360.2 433.9 L364.0 435.0" fill="none" stroke="#7f7f84" stroke-width="0.85" stroke-linejoin="round"/>
<path d="M361.1 440.0 L364.0 446.0 L360.0 452.0 L356.2 450.0" fill="none" stroke="#7f7f84" stroke-width="0.85" stroke-linejoin="round"/>
<path d="M92.0 224.0 L95.0 235.0 L101.0 252.5 L112.5 262.5 L120.0 272.5 L122.5 282.5 L110.0 287.5 L117.5 297.5 L127.5 305.0 L137.5 312.5 L147.5 322.5 L147.5 340.0 L155.0 350.0 L165.0 359.0 L175.0 365.0 L180.0 375.0 L185.0 374.0 L189.0 366.0 L185.0 360.0 L177.5 350.0 L172.5 340.0 L167.5 327.5 L165.0 312.5 L155.0 302.5 L147.5 295.0 L142.5 282.5 L132.5 270.0 L122.5 252.5 L116.0 229.0 L130.0 230.0 L142.5 242.5 L147.5 255.0 L155.0 270.0 L165.0 282.5 L172.5 290.0 L180.0 302.5 L190.0 315.0 L200.0 332.5 L210.0 345.0 L220.0 357.5 L232.5 370.0 L242.5 382.5 L247.4 385.0 L251.8 382.2 L254.4 377.9 L257.9 380.5 L262.2 385.8 L269.2 388.4 L271.0 382.2 L273.6 376.1 L275.4 370.0 L276.8 365.0 L282.0 356.2 L292.5 349.2 L297.8 343.0 L304.8 344.0 L315.2 349.2 L324.0 352.8 L327.5 359.8 L331.0 368.5 L338.0 380.8 L352.0 384.2 L362.5 387.8 L373.0 390.0 L375.0 375.0 L376.0 357.5 L379.0 340.0 L381.4 326.0 L370.0 324.5 L357.5 322.5 L347.5 312.5 L339.0 297.5 L331.0 282.5 L325.0 270.0 L317.5 264.0 L305.0 261.0 L296.0 262.5 L291.0 271.0 L285.0 272.5 L273.0 265.5 L268.0 261.0 L266.0 256.0 L263.0 248.0 L258.0 243.0 L253.0 238.0 L247.0 230.0 L245.0 226.0 L236.0 225.0 L214.5 224.2 L214.5 232.0 L202.0 231.6 L171.0 230.5 L164.5 227.5 L154.0 223.0 L133.0 212.5 L120.0 205.5 L120.5 197.0 L84.0 200.0 L86.0 209.0 L88.2 215.8 L92.0 224.0ZM280.6 403.0 L285.0 398.0 L288.5 392.8 L285.9 388.4 L279.8 387.5 L273.6 382.0 L270.0 387.5 L271.0 394.5 L273.6 399.8 L277.0 405.0 L280.6 403.0ZM316.5 426.0 L321.8 427.8 L327.0 428.6 L334.0 427.8 L339.2 426.0 L341.0 422.5 L346.2 417.2 L348.0 411.0 L353.2 406.8 L352.4 401.5 L348.0 403.2 L341.0 405.0 L334.0 404.0 L327.0 400.6 L318.2 399.0 L313.0 399.8 L309.5 394.5 L303.4 389.2 L299.0 391.0 L295.5 398.0 L296.4 405.0 L293.8 410.2 L286.8 412.0 L279.8 410.2 L271.0 406.8 L266.6 410.2 L262.2 415.5 L253.5 418.0 L248.2 421.6 L248.6 423.4 L249.4 426.5 L253.5 431.2 L258.8 438.2 L265.8 441.8 L271.0 439.0 L278.0 438.2 L283.2 441.8 L286.8 447.0 L290.2 443.5 L295.5 438.2 L293.8 431.2 L295.5 426.0 L300.8 424.2 L306.0 420.8 L309.5 424.2 L316.5 426.0ZM473.0 444.5 L464.0 448.2 L464.8 449.8 L470.0 453.5 L476.8 456.5 L479.0 455.0 L489.5 455.0 L489.5 458.8 L518.8 457.2 L516.5 440.0 L515.8 428.0 L504.5 419.0 L497.0 413.8 L493.2 410.0 L492.5 419.0 L491.0 429.5 L483.5 438.5 L473.0 444.5ZM359.4 445.2 L361.1 440.0 L360.2 433.9 L356.8 431.2 L351.5 433.9 L352.4 438.2 L355.0 440.0 L356.8 444.4 L359.4 445.2ZM330.5 447.0 L331.4 450.5 L334.0 455.8 L337.5 452.2 L344.5 449.6 L349.8 447.0 L351.5 440.0 L349.8 434.8 L344.5 431.2 L339.2 427.8 L338.4 431.2 L337.5 436.5 L334.0 443.5 L330.5 447.0Z" fill="#fcf7ad"/>
<path d="M368.3 366.4L371.8 370.1M368.3 366.4L368.4 363.2M368.4 363.2L370.9 362.6M370.9 362.6L372.9 363.6M371.8 370.1L372.9 363.6M372.2 376.8L373.4 373.5M372.2 376.8L367.4 375.3M367.4 375.3L366.7 368.8M366.7 368.8L368.3 366.4M371.8 370.1L373.4 373.5M340.3 436.1L338.4 433.9M340.3 436.1L341.0 438.7M338.4 433.9L337.8 434.6M336.9 443.6L334.7 442.2M336.9 443.6L340.8 440.2M341.0 438.7L340.8 440.2M295.6 406.5L295.9 406.7M292.9 410.5L293.5 412.1M295.9 406.7L296.2 411.1M293.5 412.1L296.2 411.1M317.5 411.7L322.7 418.6M317.5 411.7L312.3 414.0M312.3 414.0L312.4 415.3M312.4 415.3L319.9 418.5M319.9 418.5L322.7 418.6M374.6 378.2L372.7 377.9M372.7 377.9L372.0 380.9M372.0 380.9L373.9 383.1M328.4 407.0L330.4 411.7M328.4 407.0L337.2 406.5M337.2 406.5L338.7 412.3M338.7 412.3L335.9 413.1M330.4 411.7L335.9 413.1M181.9 355.9L178.7 356.3M178.7 356.3L179.8 353.1M170.9 288.4L173.3 285.3M176.7 290.0L173.3 285.3M176.7 290.0L175.7 293.8M175.0 294.1L175.7 293.8M288.8 424.4L292.4 424.3M288.8 424.4L288.0 426.1M288.0 426.1L294.5 429.1M292.4 424.3L294.7 428.3M293.6 440.1L295.3 437.3M293.4 440.4L288.4 436.3M288.4 436.3L287.0 430.6M294.2 433.1L287.5 429.4M287.5 429.4L287.0 430.6M287.2 427.6L288.0 426.1M287.2 427.6L287.5 429.4M312.4 415.3L311.8 417.0M319.9 418.5L316.8 422.0M316.8 422.0L311.8 417.0M286.4 411.9L286.3 414.5M286.3 414.5L285.3 414.5M285.3 414.5L281.6 410.7M275.6 408.6L277.9 409.9M277.9 409.9L278.8 409.9M324.5 410.9L320.6 411.7M324.5 410.9L324.0 419.0M320.6 411.7L323.2 418.7M324.0 419.0L323.2 418.7M317.5 411.7L318.1 411.2M322.7 418.6L323.2 418.7M318.1 411.2L320.6 411.7M367.4 375.3L361.2 375.6M366.7 368.8L361.6 367.9M361.2 375.6L361.6 367.9M257.1 272.6L253.8 283.6M257.1 272.6L259.3 284.5M253.8 283.6L259.3 284.5M292.7 296.4L290.8 293.6M292.7 296.4L297.8 293.3M290.8 293.6L297.2 289.9M297.2 289.9L297.8 293.3M284.0 288.3L288.3 279.4M284.0 288.3L286.7 291.0M286.7 291.0L287.6 290.9M289.9 280.6L288.3 279.4M289.9 280.6L288.9 289.6M288.9 289.6L287.6 290.9M294.4 281.9L289.9 280.6M294.4 281.9L295.1 286.6M295.1 286.6L288.9 289.6M278.3 284.4L278.3 284.3M278.3 284.4L279.5 286.6M279.5 286.6L284.0 288.3M287.1 277.6L288.3 279.4M287.1 277.6L282.8 278.2M282.8 278.2L278.3 284.3M328.3 276.8L323.4 272.0M323.4 272.0L325.1 270.2M323.4 272.0L322.1 272.3M322.1 272.3L320.1 269.5M320.2 266.2L320.1 269.5M372.2 376.8L372.7 377.9M372.0 380.9L368.9 385.1M359.7 377.1L363.0 383.6M359.7 377.1L359.8 376.5M361.2 375.6L359.8 376.5M368.9 385.1L363.0 383.6M339.5 298.5L338.7 302.2M334.8 300.2L337.2 294.1M334.8 300.2L336.9 301.9M336.9 301.9L338.7 302.2M496.9 415.6L493.1 412.1M496.9 415.6L497.2 415.6M497.2 415.6L498.2 414.6M497.7 425.5L496.6 428.9M497.7 425.5L500.5 424.4M496.6 428.9L500.8 429.1M500.5 424.4L500.8 429.1M263.4 249.0L260.4 248.1M260.4 248.1L262.1 247.1M265.7 255.2L264.2 255.9M256.3 249.1L260.4 248.1M256.3 249.1L257.0 253.6M257.0 253.6L263.3 255.7M264.2 255.9L263.3 255.7M374.6 372.3L373.4 373.5M374.6 372.3L374.9 364.8M372.9 363.6L373.2 363.7M374.9 364.8L373.2 363.7M374.6 372.3L375.2 372.0M374.9 364.8L375.6 364.9M465.8 450.5L466.2 449.1M466.2 449.1L465.8 447.8M465.8 447.8L465.5 447.6M97.5 202.0L95.1 203.6M97.5 202.0L97.5 202.0M88.2 199.7L88.0 201.0M88.0 201.0L88.6 201.9M88.6 201.9L95.1 203.6M97.5 202.0L97.3 198.9M88.0 201.0L84.6 202.9M120.9 276.0L123.1 275.4M123.1 275.4L125.1 278.0M125.1 278.0L122.5 282.3M122.3 282.6L122.1 282.9M121.2 283.0L122.1 282.9M88.6 201.9L91.2 211.0M95.1 203.6L92.7 210.7M92.7 210.7L91.2 211.0M143.3 284.4L141.9 283.6M142.4 282.4L142.2 282.4M142.2 282.4L141.9 283.6M145.0 288.8L139.8 288.1M139.8 288.1L141.9 283.6M172.0 347.0L173.3 345.2M172.0 347.0L178.9 352.0M173.3 345.2L174.9 344.8M178.9 352.0L179.0 352.0M181.4 295.5L175.7 293.8M181.4 295.5L179.5 301.7M185.4 295.5L183.7 295.0M185.4 295.5L187.7 298.1M183.7 295.0L181.4 295.5M187.7 298.1L180.4 303.0M176.7 290.0L180.1 287.6M173.3 285.3L173.3 285.2M173.3 285.2L178.5 283.8M180.1 287.6L178.5 283.8M183.7 295.0L182.1 287.8M180.1 287.6L182.1 287.8M187.6 309.1L185.3 309.1M187.6 309.1L187.9 312.3M330.4 411.7L328.8 420.5M335.9 413.1L332.4 421.8M328.8 420.5L332.4 421.8M345.4 442.9L344.7 449.5M345.4 442.9L345.4 442.9M336.9 443.6L336.9 447.6M340.8 440.2L345.4 442.9M343.7 449.9L336.9 447.6M284.0 399.1L283.7 398.8M276.5 404.2L276.4 403.4M276.4 403.4L280.6 398.5M280.6 398.5L283.7 398.8M275.1 408.4L272.7 409.5M276.4 403.4L275.7 403.0M270.6 407.1L272.7 409.5M285.3 414.5L282.8 415.4M277.9 409.9L278.3 413.3M278.3 413.3L282.8 415.4M252.8 242.2L254.1 239.1M252.8 242.2L249.6 241.5M247.1 238.4L249.6 241.5M247.1 238.4L247.1 238.3M252.1 236.8L247.1 238.3M355.9 369.2L361.5 367.7M355.9 369.2L355.5 362.1M357.5 361.2L355.5 362.1M357.5 361.2L361.0 361.8M361.0 361.8L361.5 367.7M359.8 376.5L355.2 374.2M361.6 367.9L361.5 367.7M355.2 374.2L354.8 371.8M354.8 371.8L355.9 369.2M348.7 365.7L354.8 371.8M348.7 365.7L349.7 362.9M349.7 362.9L355.5 362.1M363.2 360.8L368.4 363.2M363.2 360.8L361.0 361.8M192.2 318.8L194.0 317.0M194.0 317.0L190.5 315.8M194.7 316.9L194.4 322.8M194.7 316.9L194.0 317.0M214.8 334.9L208.1 338.4M214.8 334.9L210.4 331.7M210.4 331.7L207.7 337.9M208.1 338.4L207.7 337.9M272.8 285.1L278.3 284.4M272.8 285.1L272.4 285.5M272.4 285.5L270.4 292.7M279.5 286.6L276.7 291.9M270.4 292.7L271.1 292.8M276.7 291.9L271.1 292.8M272.4 285.5L261.1 285.3M270.4 292.7L270.1 292.8M261.1 285.3L261.8 288.0M270.1 292.8L261.8 288.0M301.5 261.6L302.1 264.7M296.5 262.4L296.7 262.6M296.7 262.6L302.1 264.7M308.4 308.6L309.4 307.7M308.4 308.6L310.4 310.8M309.4 307.7L320.7 307.5M310.4 310.8L319.6 312.1M319.6 312.1L320.7 307.5M322.5 304.3L320.7 307.5M322.5 304.3L315.2 302.3M315.2 302.3L311.7 304.6M311.7 304.6L309.4 307.7M295.5 286.9L297.3 289.3M295.5 286.9L302.2 283.8M297.3 289.3L303.9 288.3M303.9 288.3L304.0 286.4M304.0 286.4L303.3 284.0M303.3 284.0L302.2 283.8M295.1 286.6L295.5 286.9M290.8 293.6L287.6 290.9M297.2 289.9L297.3 289.3M294.4 281.9L295.2 281.3M295.2 281.3L296.6 280.7M296.6 280.7L302.2 283.8M297.8 293.3L299.5 294.6M299.5 294.6L304.5 289.3M304.5 289.3L303.9 288.3M303.0 276.6L304.4 281.7M303.0 276.6L302.2 276.1M302.2 276.1L298.1 278.4M304.4 281.7L303.3 284.0M296.6 280.7L298.1 278.4M318.0 277.1L322.1 272.3M318.0 277.1L317.7 276.7M318.7 269.0L320.1 269.5M318.7 269.0L315.6 269.6M315.6 269.6L317.7 276.7M359.7 377.1L355.1 383.5M355.2 374.2L351.4 375.5M355.1 383.5L351.4 375.5M340.3 436.1L346.4 432.5M341.0 438.7L346.7 436.9M346.9 432.9L346.7 436.9M345.4 442.9L348.7 440.0M348.7 440.0L348.2 438.3M346.7 436.9L348.2 438.3M363.0 387.9L362.6 384.1M359.3 386.7L362.6 384.1M368.9 385.1L368.9 385.4M363.0 383.6L362.6 384.1M367.5 388.8L368.9 385.4M373.2 388.6L372.4 388.4M372.4 388.4L372.6 389.9M368.9 385.4L372.4 388.4M492.7 426.4L494.3 422.4M492.7 426.4L491.4 426.4M494.3 417.9L492.6 418.2M494.3 417.9L494.3 422.4M497.7 425.5L494.3 422.4M494.7 429.8L492.7 426.4M494.7 429.8L496.6 428.9M496.9 415.6L494.3 417.9M497.2 415.6L502.0 421.8M500.5 424.4L502.0 421.8M502.5 422.0L506.9 429.1M502.5 422.0L505.5 421.1M506.9 429.1L509.2 427.1M509.2 427.1L505.5 421.1M466.2 449.1L472.8 453.3M472.0 454.4L472.8 453.3M493.6 449.3L489.1 453.0M493.6 449.3L498.9 455.5M489.1 453.5L489.1 453.0M489.1 453.5L493.1 458.6M495.1 458.5L498.8 455.7M498.9 455.5L498.8 455.7M489.1 453.5L487.9 455.0M510.2 445.6L507.1 447.5M510.2 445.6L511.1 446.1M507.1 447.5L506.6 455.5M506.6 455.5L508.2 457.8M509.3 457.7L512.6 451.3M511.1 446.1L512.6 451.3M256.2 248.7L258.3 243.3M256.2 248.7L256.2 249.0M256.3 249.1L256.2 249.0M252.8 242.2L256.2 248.7M363.2 360.8L365.2 354.9M370.9 362.6L373.0 356.7M365.2 354.9L366.7 353.7M366.7 353.7L371.2 354.8M373.0 356.7L371.2 354.8M366.7 353.7L366.9 350.6M366.9 350.6L374.6 349.2M371.2 354.8L374.6 349.2M366.9 350.6L366.9 350.3M366.9 350.3L373.3 346.2M375.9 347.9L374.6 349.2M375.9 347.9L374.8 346.6M374.8 346.6L373.3 346.2M360.5 331.1L356.9 329.6M360.5 331.1L361.0 330.9M361.0 330.9L361.5 329.4M361.5 329.4L358.3 322.6M356.9 329.6L353.1 320.7M353.6 318.6L353.1 320.7M364.2 323.6L364.1 326.6M364.1 326.6L361.5 329.4M375.6 330.8L371.8 327.3M375.6 330.8L376.9 335.9M371.8 327.3L367.2 334.8M376.9 335.9L375.8 336.5M375.8 336.5L369.1 336.9M367.2 334.8L369.1 336.9M371.1 325.2L371.8 327.3M371.1 325.2L364.1 326.6M361.0 330.9L367.2 334.8M378.7 336.1L379.1 339.6M378.7 336.1L376.9 335.9M377.6 348.5L375.9 347.9M374.8 346.6L375.8 336.5M355.8 354.3L352.5 352.8M355.8 354.3L359.3 351.5M359.3 351.5L359.3 346.9M359.3 346.9L353.7 349.9M353.7 349.9L352.5 352.8M365.2 354.9L359.3 351.5M357.5 361.2L355.8 354.3M366.9 350.3L366.6 349.6M366.6 349.6L359.4 346.7M359.4 346.7L359.3 346.9M488.4 433.9L487.4 433.8M488.4 433.9L488.4 432.7M472.5 444.7L472.5 444.7M472.5 444.7L472.5 444.7M465.8 447.8L469.1 446.1M164.1 311.6L161.9 312.6M161.9 312.6L163.5 319.8M163.5 319.8L166.1 319.0M170.2 339.0L171.7 338.1M170.2 339.0L169.0 338.2M169.7 332.9L166.9 334.4M169.0 338.2L166.9 334.4M179.6 374.3L179.7 374.3M179.7 374.3L179.7 374.3M181.5 373.5L179.7 374.3M181.5 373.5L183.5 366.1M183.5 366.1L181.7 365.2M181.7 365.2L177.2 369.4M185.4 373.0L185.5 373.1M185.4 373.0L181.5 373.5M165.3 359.2L165.5 359.1M160.4 354.9L160.8 354.9M165.5 359.1L160.8 354.9M126.0 278.4L127.7 285.3M126.0 278.4L133.4 277.7M133.4 277.7L127.7 285.3M134.1 288.2L133.7 277.5M134.1 288.2L127.6 285.8M127.6 285.8L127.7 285.3M133.7 277.5L133.4 277.7M127.6 285.8L127.1 286.1M125.1 278.0L126.0 278.4M122.1 282.9L126.5 286.2M127.1 286.1L126.5 286.2M114.7 285.6L115.2 285.8M118.0 284.3L118.1 284.3M118.1 284.3L117.9 284.6M115.2 285.8L117.9 284.6M113.2 291.7L113.6 291.7M115.2 285.8L113.6 291.7M168.8 278.6L167.7 279.6M168.8 278.6L169.2 277.5M169.2 277.5L169.2 277.3M169.2 277.3L162.8 273.0M167.7 279.6L163.5 280.6M162.8 273.0L158.7 274.6M166.8 284.3L167.7 279.6M173.3 285.2L168.8 278.6M179.7 280.3L178.5 283.8M179.7 280.3L179.0 277.6M179.0 277.6L169.2 277.5M156.7 272.1L161.9 270.0M161.9 270.0L162.8 273.0M177.3 262.0L174.7 263.7M177.3 262.0L178.9 262.8M178.9 262.8L179.0 270.2M174.7 263.7L173.8 269.5M173.8 269.5L179.0 270.2M169.3 269.5L172.6 263.6M169.3 269.5L170.6 271.6M172.6 263.6L174.7 263.7M170.6 271.6L173.8 269.5M188.2 266.4L188.1 266.6M188.2 266.4L194.4 270.5M188.1 266.6L190.6 274.7M190.6 274.7L194.5 270.7M194.4 270.5L194.5 270.7M191.1 261.6L198.8 268.2M191.1 261.6L188.2 266.2M198.8 268.2L194.4 270.5M188.2 266.2L188.2 266.4M196.8 277.2L194.5 270.7M196.8 277.2L200.4 268.3M200.4 268.3L200.3 268.0M198.8 268.2L200.3 268.0M146.5 292.5L138.4 289.9M139.2 293.7L138.4 289.9M139.2 293.7L147.6 295.1M139.8 288.1L138.4 289.8M138.4 289.8L138.4 289.9M173.3 345.2L170.2 339.0M187.7 298.1L191.5 300.9M181.7 304.6L190.9 302.7M190.9 302.7L191.5 300.9M187.6 309.1L190.8 305.6M190.9 302.7L190.8 305.6M196.8 277.2L197.1 278.4M190.3 277.0L194.3 279.4M190.3 277.0L190.6 274.7M197.1 278.4L194.3 279.4M235.2 305.4L235.8 303.2M235.2 305.4L228.3 303.9M235.8 303.2L232.0 300.5M232.0 300.5L228.3 303.9M224.3 286.9L228.9 292.1M224.3 286.9L224.4 286.7M230.6 284.4L224.4 286.7M230.6 284.4L232.0 292.1M228.9 292.1L232.0 292.1M232.6 292.1L236.3 286.5M232.6 292.1L232.1 292.2M236.3 286.5L236.6 280.9M230.6 284.4L231.0 282.5M231.0 282.5L236.6 280.9M236.6 280.9L236.6 280.9M232.1 292.2L232.0 292.1M209.6 323.7L210.6 318.7M209.6 323.7L201.7 323.2M201.7 323.2L200.9 319.3M200.9 319.3L210.6 318.7M316.8 422.0L317.1 423.8M311.8 417.0L310.3 419.2M310.3 419.2L310.4 422.6M310.4 422.6L312.5 425.0M317.1 423.8L314.7 425.5M336.9 447.6L333.8 451.1M333.8 451.1L331.0 449.1M310.4 422.6L309.9 423.0M309.4 424.2L309.9 423.0M301.3 418.2L304.8 419.3M301.3 418.2L298.9 420.4M304.8 419.3L304.9 421.5M298.9 420.4L298.3 423.0M298.3 423.0L299.3 424.7M301.9 412.7L310.3 411.5M301.9 412.7L301.3 418.2M310.3 411.5L312.3 414.0M310.3 419.2L304.8 419.3M291.4 414.8L298.9 420.4M291.4 414.8L293.5 412.1M296.2 411.1L300.5 411.2M300.5 411.2L301.9 412.7M309.9 423.0L308.7 423.5M291.4 414.8L288.2 415.9M288.2 415.9L287.9 421.1M287.9 421.1L288.8 424.4M292.4 424.3L298.3 423.0M345.4 442.9L350.2 445.1M220.8 358.3L224.1 358.2M219.3 356.6L222.9 355.1M224.1 358.2L222.9 355.1M216.7 337.6L214.7 343.1M216.7 337.6L222.9 338.5M214.7 343.1L221.3 343.8M222.9 338.5L221.3 343.8M188.6 365.4L188.5 366.3M188.7 366.7L188.5 366.3M185.4 373.0L185.7 372.7M183.5 366.1L188.5 366.3M184.3 359.1L180.6 361.5M180.6 361.5L181.7 365.2M202.2 334.9L202.1 334.4M202.2 334.9L202.0 335.0M202.1 334.4L201.2 334.0M272.7 409.5L271.6 412.0M278.3 413.3L275.5 416.1M271.6 412.0L275.5 416.1M282.8 415.4L276.9 420.0M275.5 416.1L276.9 420.0M286.3 414.5L288.2 415.9M287.9 421.1L276.6 421.6M276.9 420.0L276.6 421.6M271.6 412.0L266.4 414.9M264.6 412.7L266.4 414.9M255.0 418.8L256.0 417.3M255.0 418.8L252.0 420.7M251.1 419.7L252.0 420.7M255.0 418.8L261.6 425.6M261.6 425.6L263.9 423.9M263.9 423.9L265.9 420.4M265.9 420.4L265.7 419.4M257.0 417.0L265.7 419.4M265.9 420.4L274.2 422.8M274.2 422.8L276.0 422.5M276.6 421.6L276.0 422.5M265.7 419.4L266.4 414.9M285.8 427.5L276.2 422.7M285.8 427.5L277.8 430.7M277.8 430.7L276.2 422.7M287.2 427.6L285.8 427.5M276.0 422.5L276.2 422.7M274.2 422.8L270.8 429.9M277.8 430.7L276.4 435.0M276.4 435.0L270.8 429.9M263.9 423.9L269.2 430.0M270.8 429.9L269.2 430.0M246.7 384.6L246.4 379.3M251.6 382.3L251.6 381.2M251.6 381.2L246.6 379.1M246.4 379.3L246.6 379.1M246.4 379.3L241.5 381.2M276.1 394.6L273.1 394.6M276.1 394.6L278.9 386.8M278.3 386.2L272.6 389.9M272.6 389.9L273.1 394.6M280.6 398.5L277.5 395.5M277.5 395.5L276.1 394.6M273.1 394.6L271.5 395.5M227.2 269.2L231.9 271.4M227.2 269.2L226.7 262.9M232.4 271.3L231.9 271.4M232.4 271.3L234.5 266.7M226.7 262.9L226.8 262.9M234.5 266.7L226.8 262.9M232.4 271.3L236.1 274.5M236.1 274.5L242.3 268.0M242.3 268.0L235.5 265.3M234.5 266.7L235.5 265.3M226.2 262.9L222.2 257.8M226.2 262.9L218.7 264.8M222.2 257.8L218.6 261.9M218.7 264.8L218.6 261.9M222.8 255.2L222.2 257.8M222.8 255.2L227.2 255.0M226.7 262.9L226.2 262.9M227.9 261.4L226.8 262.9M227.9 261.4L228.6 256.4M227.2 255.0L228.6 256.4M223.5 270.3L218.6 265.0M223.5 270.3L227.2 269.2M218.6 265.0L218.7 264.8M222.4 254.8L222.8 255.2M222.4 254.8L214.1 256.1M214.1 256.1L218.6 261.9M232.9 235.8L237.2 231.9M232.9 235.8L233.3 236.8M235.4 239.8L233.3 236.8M235.4 239.8L241.0 238.2M241.0 238.2L237.2 231.9M217.6 224.4L217.7 225.6M218.7 224.4L217.7 225.6M244.0 239.7L247.1 238.4M244.0 239.7L243.0 239.0M247.1 238.3L246.7 231.0M243.0 239.0L242.0 228.2M242.0 228.2L242.2 228.2M242.2 228.2L246.7 231.0M318.8 346.7L312.3 340.7M318.8 346.7L315.6 349.4M312.3 340.7L311.1 345.3M311.1 345.3L313.4 348.3M297.2 394.6L300.4 399.2M296.0 401.8L300.3 401.5M300.4 399.2L300.3 401.5M302.2 390.4L298.1 392.8M302.2 390.4L305.8 394.7M300.4 399.2L305.8 394.7M295.9 406.7L300.5 401.9M300.5 411.2L301.8 403.2M301.8 403.2L300.5 401.9M300.5 401.9L300.3 401.5M310.3 407.2L310.3 411.5M310.3 407.2L315.0 402.8M318.1 411.2L318.9 407.2M318.9 407.2L316.5 403.3M315.0 402.8L316.5 403.3M314.2 399.6L314.1 399.8M311.9 398.1L312.1 399.0M312.1 399.0L312.6 399.2M313.7 399.7L314.1 399.8M302.2 390.4L302.4 389.7M305.8 394.7L306.3 394.7M306.3 394.7L308.0 393.3M350.0 382.8L351.3 375.5M350.0 382.8L344.6 379.1M351.3 375.5L348.5 374.6M344.6 379.1L348.5 374.6M348.7 365.7L348.4 366.0M348.4 366.0L346.7 372.0M351.3 375.5L351.4 375.5M348.5 374.6L346.7 372.0M201.5 323.8L200.2 325.5M201.5 323.8L207.4 329.3M200.2 325.5L203.0 332.3M207.4 329.3L203.0 332.3M209.6 323.7L210.5 326.5M210.5 326.5L209.0 328.7M201.7 323.2L201.5 323.8M209.0 328.7L207.4 329.3M202.1 334.4L203.0 332.3M196.5 326.4L200.2 325.5M209.0 328.7L210.4 331.7M202.2 334.9L202.3 335.1M202.3 335.1L207.7 337.9M212.2 344.9L213.8 349.7M212.2 344.9L209.6 343.8M209.6 343.8L209.2 344.0M213.9 349.8L213.8 349.7M222.1 345.2L213.8 349.7M222.1 345.2L221.3 343.8M214.7 343.1L212.2 344.9M215.5 335.0L214.8 334.9M215.5 335.0L216.7 337.6M208.1 338.4L209.6 343.8M202.3 335.1L202.3 335.4M211.4 326.6L214.8 325.1M211.4 326.6L217.9 331.2M214.8 325.1L219.4 325.7M217.9 331.2L221.5 329.6M221.5 329.6L220.3 327.1M220.3 327.1L219.4 325.7M215.5 335.0L217.9 331.2M210.5 326.5L211.4 326.6M217.2 319.7L214.8 325.1M217.2 319.7L219.0 320.6M219.0 320.6L219.4 325.7M224.9 319.1L227.4 325.4M224.9 319.1L224.3 319.3M222.5 329.8L227.4 325.4M222.5 329.8L221.5 329.6M224.3 319.3L220.3 327.1M224.3 319.3L219.0 320.6M321.3 339.6L325.9 336.0M321.3 339.6L317.9 335.4M325.9 336.0L319.4 332.8M317.9 335.4L319.4 332.8M312.0 339.2L316.6 335.8M312.0 339.2L305.5 337.7M305.2 335.6L305.5 337.7M305.2 335.6L311.5 331.1M316.6 335.8L311.5 331.1M303.0 329.5L305.2 335.6M303.0 329.5L310.8 329.1M310.8 329.1L311.5 331.1M288.6 318.1L288.7 317.5M288.6 318.1L281.2 322.1M288.7 317.5L282.9 312.5M281.2 322.1L278.6 318.1M282.9 312.5L282.8 312.5M282.8 312.5L278.6 318.1M273.5 323.5L281.2 323.0M273.5 323.5L278.3 318.1M281.2 323.0L281.2 322.1M278.3 318.1L278.6 318.1M311.8 316.2L310.4 310.8M311.8 316.2L304.2 321.2M308.4 308.6L307.9 308.6M304.3 312.2L307.9 308.6M304.3 312.2L303.3 318.1M303.3 318.1L304.2 321.2M311.8 316.2L313.0 317.9M313.0 317.9L313.4 322.1M313.4 322.1L304.1 322.6M304.2 321.2L304.1 322.6M303.3 318.1L296.9 317.3M304.1 322.6L302.8 325.0M302.8 325.0L296.2 317.9M296.9 317.3L296.2 317.9M304.3 312.2L298.4 312.8M296.9 317.3L298.4 312.8M276.7 291.9L279.8 296.8M271.1 292.8L275.6 298.1M275.6 298.1L279.8 296.8M282.9 312.5L287.5 306.4M287.5 306.4L278.5 304.2M278.6 309.7L282.8 312.5M278.6 309.7L277.0 305.5M277.0 305.5L278.5 304.2M285.3 293.3L286.7 291.0M285.3 293.3L280.7 297.3M280.7 297.3L279.8 296.8M275.6 298.1L272.9 301.0M281.2 299.2L278.5 304.2M281.2 299.2L280.7 297.3M277.0 305.5L275.4 305.1M275.4 305.1L272.9 301.0M278.6 309.7L273.1 313.6M278.3 318.1L273.2 315.7M273.1 313.6L273.2 315.7M272.5 324.1L273.5 323.5M272.5 324.1L268.7 320.2M273.2 315.7L268.7 320.2M251.3 294.8L247.8 288.6M251.3 294.8L248.6 297.8M247.8 288.6L244.6 295.1M248.6 297.8L244.6 295.1M232.6 292.1L239.9 295.1M235.8 303.2L238.5 301.8M232.0 300.5L231.8 300.0M232.1 292.2L231.8 300.0M238.5 301.8L239.9 295.1M236.3 286.5L241.9 288.1M241.9 288.1L241.3 294.6M241.3 294.6L239.9 295.1M249.9 281.4L244.9 282.1M249.9 281.4L252.2 283.7M252.2 283.7L252.1 283.7M252.1 283.7L247.9 288.2M247.9 288.2L242.2 287.8M244.9 282.1L242.4 286.6M242.2 287.8L242.4 286.6M253.8 283.6L252.2 283.7M259.3 284.5L260.9 284.9M261.1 285.3L260.9 284.9M261.8 288.0L260.1 292.4M252.6 293.8L252.1 283.7M252.6 293.8L256.6 294.1M256.6 294.1L260.1 292.4M251.3 294.8L252.6 293.8M247.8 288.6L247.9 288.2M241.9 288.1L242.2 287.8M244.6 295.1L241.3 294.6M237.7 279.0L244.9 282.1M237.7 279.0L237.0 279.9M237.0 279.9L236.6 280.9M236.6 280.9L242.4 286.6M300.6 269.7L293.1 271.3M300.6 269.7L301.2 268.7M301.2 268.7L294.5 265.1M292.9 271.3L291.0 271.0M292.9 271.3L293.1 271.3M302.2 276.1L300.6 269.7M298.1 278.4L293.1 271.3M295.2 281.3L292.9 271.3M287.1 277.6L289.4 271.4M296.7 262.6L294.8 264.5M304.4 281.7L312.9 280.8M304.0 286.4L311.9 284.1M311.9 284.1L312.9 280.8M308.6 275.5L303.0 276.6M308.6 275.5L313.4 280.3M312.9 280.8L313.4 280.3M308.4 293.8L309.0 294.3M308.4 293.8L308.3 292.7M309.0 294.3L316.0 296.4M308.3 292.7L312.1 288.7M312.1 288.7L315.6 289.5M315.6 289.5L317.6 293.4M317.6 293.4L316.2 296.2M316.0 296.4L316.2 296.2M303.9 299.1L303.8 298.1M303.9 299.1L307.4 308.1M303.8 298.1L308.4 293.8M311.7 304.6L309.0 294.3M307.4 308.1L307.9 308.6M299.5 294.6L300.6 296.7M304.5 289.3L308.3 292.7M300.6 296.7L303.8 298.1M315.2 302.3L316.0 296.4M311.9 284.1L312.1 288.7M318.6 286.9L315.6 289.5M318.6 286.9L314.6 280.0M314.6 280.0L313.4 280.3M318.6 286.9L320.2 287.1M320.2 287.1L321.5 292.1M321.5 292.1L317.6 293.4M323.7 299.0L323.6 292.8M323.7 299.0L316.2 296.2M323.6 292.8L321.5 292.1M325.5 302.3L323.7 299.0M325.5 302.3L325.2 303.1M322.5 304.3L325.2 303.1M318.7 269.0L314.1 263.4M315.6 269.6L312.7 267.9M314.1 263.4L312.7 267.9M317.7 276.7L310.9 270.0M312.7 267.9L310.9 270.0M302.1 264.7L302.7 265.4M301.2 268.7L302.6 266.9M302.6 266.9L302.7 265.4M308.6 275.5L309.5 270.5M302.6 266.9L309.5 270.5M317.9 277.4L314.6 280.0M317.9 277.4L318.0 277.1M309.5 270.5L310.9 270.0M306.9 261.5L307.0 262.2M307.0 262.2L309.6 262.1M302.7 265.4L307.0 262.2M314.1 263.4L314.1 263.2M355.1 383.5L354.2 385.0M350.0 382.8L350.4 383.9M349.3 402.7L350.9 406.3M350.9 406.3L353.2 406.6M348.9 402.9L346.6 406.3M350.9 406.3L348.8 407.3M348.8 407.3L346.6 406.3M325.2 303.1L326.1 304.5M326.1 304.5L326.1 308.8M319.6 312.1L321.7 315.2M326.1 308.8L321.7 315.2M313.0 317.9L321.9 315.9M321.9 315.9L321.7 315.2M326.1 308.8L328.7 313.2M323.3 317.4L328.3 315.4M323.3 317.4L321.9 315.9M328.7 313.2L328.3 315.4M338.7 302.2L342.0 304.0M342.0 304.0L342.4 303.5M342.9 306.9L342.0 304.0M342.9 306.9L344.1 306.6M371.1 325.2L371.4 324.7M509.2 427.1L512.1 425.0M505.5 421.1L506.5 420.6M502.0 421.8L502.5 422.0M499.0 455.4L503.7 453.5M499.0 455.4L501.1 448.2M503.7 453.5L502.1 448.6M501.1 448.2L502.1 448.6M493.6 449.3L494.3 448.0M494.3 448.0L499.1 446.8M499.1 446.8L501.1 448.2M498.9 455.5L499.0 455.4M507.1 447.5L502.1 448.6M506.6 455.5L503.7 453.5M498.8 455.7L501.1 458.2M518.7 456.9L516.0 452.0M516.0 452.0L517.9 450.7M512.6 451.3L516.0 452.0M225.4 230.7L225.6 231.9M225.4 230.7L226.6 228.9M225.6 231.9L238.1 229.4M226.6 228.9L237.5 225.2M238.0 225.2L239.2 227.3M239.2 227.3L238.1 229.4M223.7 237.1L225.8 234.0M223.7 237.1L214.8 235.4M217.3 226.2L216.4 226.4M217.3 226.2L225.4 230.7M225.8 234.0L225.6 231.9M214.8 235.4L212.9 232.8M212.9 232.8L213.2 232.0M214.5 228.6L216.4 226.4M226.8 224.7L226.6 228.9M217.3 226.2L217.7 225.6M225.8 234.0L232.9 235.8M237.2 231.9L238.1 229.4M243.0 239.0L241.0 238.2M242.0 228.2L239.2 227.3M225.7 282.9L228.3 281.0M225.7 282.9L220.5 278.1M228.3 281.0L227.8 277.3M222.0 276.1L227.6 277.0M222.0 276.1L220.5 277.7M227.6 277.0L227.8 277.3M220.5 278.1L220.5 277.7M231.0 282.5L228.3 281.0M224.4 286.7L225.7 282.9M219.6 281.3L220.5 278.1M219.6 281.3L221.8 286.9M224.3 286.9L221.8 286.9M237.0 279.9L227.8 277.3M223.5 270.3L222.1 273.8M222.1 273.8L222.0 276.1M231.9 271.4L227.6 277.0M237.7 279.0L237.7 277.6M249.0 275.4L247.5 274.3M249.0 275.4L249.9 281.4M237.7 277.6L247.5 274.3M236.1 274.5L237.4 276.7M237.7 277.6L237.4 276.7M259.2 262.9L264.2 265.0M259.2 262.9L254.6 261.6M264.2 265.0L256.0 270.9M254.2 264.0L254.6 261.6M254.2 264.0L255.8 270.8M255.8 270.8L256.0 270.9M264.2 255.9L264.7 265.0M263.3 255.7L259.2 262.9M264.7 265.0L264.2 265.0M257.0 253.6L253.5 258.5M253.5 258.5L254.6 261.6M257.1 272.6L257.1 272.0M254.2 271.5L249.0 275.4M254.2 271.5L255.8 270.8M257.1 272.0L256.0 270.9M282.6 271.1L278.3 271.7M280.0 269.6L278.3 271.7M270.4 263.2L270.4 264.1M270.4 264.1L271.3 263.9M264.7 265.0L267.5 266.7M270.4 264.1L268.0 266.5M267.5 266.7L268.0 266.5M277.0 267.8L276.8 269.4M268.0 266.5L276.8 269.4M282.8 278.2L277.5 273.2M278.3 284.3L272.9 275.8M272.9 275.8L277.5 273.2M278.3 271.7L277.9 271.9M276.8 269.4L277.9 271.9M277.5 273.2L277.9 271.9M375.9 358.8L374.2 356.7M374.2 356.7L376.3 355.5M373.2 363.7L375.8 361.3M373.0 356.7L374.2 356.7M378.7 336.1L379.7 336.0M356.9 329.6L352.8 329.1M353.1 320.7L349.9 327.1M349.9 327.1L352.8 329.1M368.0 339.4L368.3 343.5M368.0 339.4L359.7 342.2M359.7 342.2L359.1 344.8M359.1 344.8L367.2 345.0M367.2 345.0L368.3 343.5M373.3 346.2L368.3 343.5M369.1 336.9L368.0 339.4M360.5 331.1L357.6 335.9M357.6 335.9L359.7 342.2M366.6 349.6L367.2 345.0M359.4 346.7L359.1 344.8M359.1 344.8L359.1 344.8M349.7 362.9L347.8 360.3M352.5 352.8L348.6 353.0M348.6 353.0L348.1 353.9M347.8 360.3L348.1 353.9M111.5 206.3L108.8 209.1M111.5 206.3L109.3 197.9M104.9 204.8L107.7 208.4M104.9 204.8L105.0 202.0M107.7 208.4L108.8 209.1M105.0 202.0L105.9 198.8M105.9 198.8L107.9 198.0M97.5 202.0L99.8 205.8M97.5 202.0L105.0 202.0M99.8 205.8L104.9 204.8M104.8 198.3L105.9 198.8M89.8 219.1L91.9 218.8M87.0 212.0L90.7 211.5M90.7 211.5L91.9 218.8M91.8 223.6L93.5 222.2M93.5 222.2L93.3 221.0M93.3 221.0L91.9 218.8M91.2 211.0L90.7 211.5M97.3 211.2L99.5 216.3M97.3 211.2L92.7 210.7M99.5 216.3L93.3 221.0M158.0 305.5L156.3 307.3M153.7 305.5L153.2 300.7M153.7 305.5L154.8 307.1M154.8 307.1L156.3 307.3M158.9 344.8L158.9 344.8M158.9 344.8L166.1 349.3M160.8 354.9L166.1 349.3M158.9 344.8L155.1 350.1M158.9 344.8L157.9 342.7M150.0 343.3L153.1 340.3M157.9 342.7L153.1 340.3M167.6 349.7L168.0 358.3M167.6 349.7L169.7 348.6M171.1 348.0L169.7 348.6M171.1 348.0L175.2 354.0M175.2 354.0L175.2 358.6M173.3 361.0L169.5 359.3M173.3 361.0L174.7 360.1M169.5 359.3L168.0 358.3M175.2 358.6L174.7 360.1M165.5 359.1L168.0 358.3M166.1 349.3L167.6 349.7M165.7 341.2L158.9 344.8M165.7 341.2L169.7 348.6M172.0 347.0L171.1 348.0M169.0 338.2L165.7 341.2M178.9 352.0L175.2 354.0M178.7 356.3L175.2 358.6M168.5 361.1L169.5 359.3M173.1 363.9L173.3 361.0M180.6 361.5L174.7 360.1M222.4 254.8L220.7 249.1M214.1 256.1L212.6 255.4M213.8 251.8L220.7 249.1M213.8 251.8L212.1 254.9M212.6 255.4L212.1 254.9M212.9 232.8L211.4 233.1M211.4 233.1L210.0 231.9M223.7 237.1L223.8 243.7M214.8 235.4L213.8 239.5M213.8 239.5L223.8 243.7M233.3 236.8L227.5 245.4M227.5 245.4L223.8 243.7M223.8 243.7L223.8 243.7M213.8 251.8L212.8 246.2M211.0 254.9L212.1 254.9M211.0 254.9L207.1 250.5M206.7 249.7L207.1 250.5M206.7 249.7L206.7 245.6M206.7 245.6L212.8 246.2M213.8 239.5L213.2 240.6M222.1 245.3L214.2 244.6M222.1 245.3L223.8 243.7M213.2 240.6L214.2 244.6M220.7 249.1L222.1 245.3M212.8 246.2L214.2 244.6M127.5 268.8L128.2 262.5M127.5 268.8L127.7 268.9M127.7 268.9L130.3 266.1M130.1 270.2L131.8 268.7M130.1 270.2L127.7 268.9M139.3 278.4L134.6 276.5M135.0 273.1L134.3 273.8M134.6 276.5L134.3 273.8M134.1 288.2L135.1 289.3M133.7 277.5L134.6 276.5M142.2 282.4L141.9 281.8M135.1 289.3L138.4 289.8M130.1 270.2L134.3 273.8M125.1 269.2L127.5 268.8M125.1 269.2L123.1 275.4M107.1 257.8L109.9 253.9M115.5 257.4L113.2 255.0M115.5 257.4L116.1 259.6M113.3 263.5L116.1 259.6M113.2 255.0L109.9 253.9M119.2 250.0L110.4 247.8M119.2 250.0L119.5 249.9M110.4 247.8L117.4 242.8M119.5 249.9L117.4 242.8M115.5 257.4L121.9 254.6M119.2 250.0L113.2 255.0M119.5 249.9L121.5 250.8M121.9 254.6L121.5 250.8M116.1 259.6L121.6 262.1M121.6 262.1L124.5 258.0M121.9 254.6L124.5 258.0M115.9 267.0L122.0 266.8M118.8 270.9L122.4 267.2M122.4 267.2L122.0 266.8M121.6 262.1L122.0 266.8M118.1 284.3L118.1 284.2M125.1 269.2L122.4 267.2M124.5 258.0L125.6 257.9M114.7 292.5L113.6 291.7M114.7 292.5L114.7 293.8M135.1 289.3L131.3 293.2M139.3 300.6L137.3 301.5M139.3 300.6L139.2 293.7M137.3 301.5L131.8 301.1M131.8 301.1L131.3 293.2M127.1 286.1L128.1 293.3M131.3 293.2L128.1 293.3M139.3 300.6L142.7 301.9M149.3 296.8L145.0 301.4M142.7 301.9L145.0 301.4M153.7 305.5L146.5 302.6M146.5 302.6L145.0 301.4M137.3 301.5L136.2 308.7M130.3 301.8L131.8 301.1M130.3 301.8L131.3 307.6M136.2 308.7L131.3 307.6M125.4 303.4L127.9 301.8M130.3 301.8L127.9 301.8M131.3 307.6L131.2 307.8M123.8 288.8L125.2 294.3M123.8 288.8L120.6 288.7M120.6 288.7L120.5 288.9M120.5 288.9L121.3 295.4M124.8 294.8L125.2 294.3M124.8 294.8L121.4 295.4M121.4 295.4L121.3 295.4M126.5 286.2L123.8 288.8M128.1 293.3L125.2 294.3M117.9 284.6L120.6 288.7M116.0 292.4L120.5 288.9M116.0 292.4L114.7 292.5M116.0 292.4L121.3 295.4M127.9 301.8L124.8 294.8M119.6 299.0L121.4 295.4M108.6 242.7L103.9 241.0M108.6 242.7L108.9 248.3M103.7 247.2L102.8 242.6M103.7 247.2L107.4 248.8M102.8 242.6L103.9 241.0M107.4 248.8L108.4 248.9M108.4 248.9L108.9 248.3M97.4 242.0L102.8 242.6M101.9 247.3L97.9 243.6M101.9 247.3L103.7 247.2M109.9 253.9L108.4 248.9M101.5 253.0L107.4 248.8M110.4 247.8L108.9 248.3M150.8 243.7L156.9 243.6M150.8 243.7L153.2 237.3M160.8 241.0L157.9 237.2M160.8 241.0L160.6 242.3M156.9 243.6L160.6 242.3M153.2 237.3L157.9 237.2M187.4 267.3L179.8 270.9M187.4 267.3L185.6 276.4M179.8 270.9L180.0 276.5M185.6 276.4L180.0 276.5M181.3 262.7L188.2 266.2M181.3 262.7L178.9 262.8M179.0 270.2L179.8 270.9M188.1 266.6L187.4 267.3M186.5 277.0L190.3 277.0M186.5 277.0L185.6 276.4M170.6 271.6L169.2 277.3M179.0 277.6L180.0 276.5M172.6 263.6L170.4 262.8M176.2 257.8L172.7 257.7M176.2 257.8L177.3 262.0M172.7 257.7L170.4 262.8M156.4 271.8L155.8 265.7M153.0 265.9L155.3 265.4M155.8 265.7L155.3 265.4M149.4 258.8L151.8 255.3M151.8 255.3L147.3 254.4M191.1 306.1L199.2 309.1M191.1 306.1L196.2 316.1M199.2 309.1L198.0 315.8M196.2 316.1L198.0 315.8M190.8 305.6L191.1 306.1M196.6 298.5L200.0 307.9M196.6 298.5L191.5 300.9M200.0 307.9L199.2 309.1M194.7 316.9L196.2 316.1M200.9 319.3L198.4 316.0M198.4 316.0L198.0 315.8M200.4 268.3L204.3 274.9M197.1 278.4L199.0 279.0M199.0 279.0L204.3 274.9M216.1 276.6L220.5 277.7M216.1 276.6L210.6 281.3M219.6 281.3L210.4 285.4M210.6 281.3L210.4 285.4M194.3 279.4L192.9 282.1M199.0 279.0L202.3 284.9M195.7 290.3L192.9 282.1M195.7 290.3L196.8 291.2M196.8 291.2L202.3 284.9M185.4 295.5L187.2 292.4M187.2 292.4L197.3 293.9M197.0 298.2L197.6 295.7M197.0 298.2L196.6 298.5M197.3 293.9L197.6 295.7M221.8 286.9L217.4 290.0M228.9 292.1L223.0 297.1M217.4 290.0L223.0 297.1M200.0 307.9L205.5 307.3M198.4 316.0L203.7 313.7M203.7 313.7L205.5 307.3M197.0 298.2L206.0 302.1M206.0 302.1L206.8 306.3M205.5 307.3L206.8 306.3M324.0 419.0L326.0 421.0M326.0 421.0L324.3 423.7M317.1 423.8L321.6 424.6M324.3 423.7L321.6 424.6M321.6 424.6L319.8 427.1M329.5 428.3L330.4 427.7M330.4 427.7L330.5 428.2M326.0 421.0L328.8 420.5M332.4 421.8L332.5 421.9M332.5 421.9L330.4 427.7M324.9 428.3L324.3 423.7M338.4 433.9L338.1 433.3M333.8 451.1L333.5 452.5M333.5 452.5L335.4 454.3M231.3 367.9L234.5 362.1M231.3 367.9L228.0 365.5M234.5 362.1L226.1 362.9M225.8 363.3L226.1 362.9M231.6 369.1L231.3 367.9M224.1 358.2L226.4 359.5M226.4 359.5L226.1 362.9M230.4 348.2L237.1 357.8M230.4 348.2L231.5 346.6M241.5 350.8L235.5 345.1M241.5 350.8L240.0 354.6M237.1 357.8L240.0 354.6M231.5 346.6L235.5 345.1M223.2 346.3L217.4 351.8M223.2 346.3L229.4 348.7M217.4 351.8L224.9 352.3M224.9 352.3L228.0 350.9M229.4 348.7L228.0 350.9M215.8 352.3L217.4 351.8M222.1 345.2L223.2 346.3M222.9 355.1L224.9 352.3M226.4 359.5L228.0 357.3M228.0 357.3L228.0 350.9M251.0 330.3L253.2 332.2M251.0 330.3L253.6 327.1M253.2 332.2L259.1 328.4M253.6 327.1L259.1 328.4M254.0 323.1L262.2 327.1M254.0 323.1L253.6 327.1M261.9 328.1L259.1 328.4M261.9 328.1L262.2 327.5M262.2 327.5L262.2 327.1M228.5 314.8L226.5 315.8M228.5 314.8L236.6 321.8M224.9 319.1L226.2 316.1M227.4 325.4L231.4 326.0M226.2 316.1L226.5 315.8M231.4 326.0L235.6 324.7M235.6 324.7L236.6 321.8M230.4 311.1L228.5 314.8M230.4 311.1L234.5 309.5M234.5 309.5L239.2 312.0M239.7 318.4L239.2 312.0M239.7 318.4L237.7 320.9M236.6 321.8L237.7 320.9M287.0 430.6L281.3 435.8M276.4 435.0L276.5 435.7M276.5 435.7L281.3 435.8M288.4 436.3L284.0 438.1M281.3 435.8L284.0 438.1M286.8 444.9L290.2 443.6M286.8 444.9L284.4 439.4M284.4 439.4L284.0 438.1M252.6 380.8L251.6 381.2M267.4 385.7L267.8 379.3M267.4 385.7L262.1 385.5M264.4 379.0L267.8 379.3M264.4 379.0L260.2 383.3M246.6 379.1L246.7 375.1M235.5 373.7L236.7 372.8M246.7 375.1L236.7 372.8M272.5 324.1L272.9 326.2M268.7 320.2L264.2 319.7M264.2 319.7L262.2 327.1M262.2 327.5L269.1 329.0M269.1 329.0L272.9 326.2M267.6 386.0L269.8 386.5M270.5 386.7L270.8 386.8M267.6 386.0L267.1 387.6M270.2 388.9L271.1 387.5M270.8 386.8L271.1 387.5M267.4 385.7L267.6 386.0M272.6 389.9L271.1 387.5M244.0 239.7L243.0 243.9M243.0 243.9L242.2 243.9M235.4 239.8L235.3 242.2M242.2 243.9L235.3 242.2M227.2 255.0L227.9 252.4M227.5 245.4L228.0 245.7M227.9 252.4L228.0 245.7M235.3 242.2L232.7 246.1M228.0 245.7L232.7 246.1M246.7 252.9L245.4 246.9M246.7 252.9L253.5 248.5M245.4 246.9L249.6 246.8M253.5 248.5L249.6 246.8M256.2 249.0L253.5 248.5M253.5 258.5L247.5 258.3M247.5 258.3L245.5 257.2M245.5 257.2L246.7 252.9M249.6 241.5L249.6 246.8M243.0 243.9L243.8 246.1M243.8 246.1L245.4 246.9M243.8 246.1L239.8 251.1M242.2 243.9L235.0 247.3M239.8 251.1L235.0 247.3M227.9 252.4L233.1 251.7M232.7 246.1L233.2 246.6M233.1 251.7L233.2 246.6M235.0 247.3L233.2 246.6M216.4 226.4L214.6 224.3M242.2 228.2L245.0 226.1M246.7 231.0L247.6 230.8M318.8 346.7L322.0 346.0M322.0 346.0L319.6 351.0M347.8 360.3L337.8 360.3M348.1 353.9L342.2 354.1M342.2 354.1L338.0 357.2M338.0 357.2L337.7 360.1M337.8 360.3L337.7 360.1M321.3 339.6L323.9 343.3M312.3 340.7L312.0 339.2M317.9 335.4L316.6 335.8M322.0 346.0L323.0 345.8M323.0 345.8L323.9 343.3M329.3 337.9L325.9 342.5M329.3 337.9L329.2 336.5M325.9 336.0L329.2 336.5M323.9 343.3L325.9 342.5M309.6 398.7L307.5 396.5M309.6 398.7L305.8 403.9M307.5 396.5L304.3 403.5M305.8 403.9L304.3 403.5M306.3 394.7L307.5 396.5M312.1 399.0L309.6 398.7M310.3 407.2L305.8 403.9M315.0 402.8L314.1 399.8M301.8 403.2L304.3 403.5M321.7 401.1L322.1 399.7M321.7 401.1L327.6 406.9M327.9 401.0L329.5 403.0M329.5 403.0L328.3 407.0M328.3 407.0L327.9 407.0M327.9 407.0L327.6 406.9M318.9 407.2L327.6 406.9M316.5 403.3L321.7 401.1M338.6 404.7L337.2 406.5M328.4 407.0L328.3 407.0M330.1 402.1L329.5 403.0M324.5 410.9L327.9 407.0M341.6 379.7L339.8 377.1M341.6 379.7L341.3 381.6M339.8 377.1L337.4 376.4M337.4 376.4L336.0 377.3M342.9 372.3L346.7 372.0M342.9 372.3L339.8 377.1M344.6 379.1L341.6 379.7M321.7 328.0L320.5 330.1M321.7 328.0L321.3 326.0M320.5 330.1L311.0 328.8M321.3 326.0L314.2 323.3M314.2 323.3L311.8 326.2M311.8 326.2L311.0 328.8M330.0 331.2L321.7 328.0M330.0 331.2L329.2 336.5M319.4 332.8L320.5 330.1M310.8 329.1L311.0 328.8M323.0 322.9L323.3 317.4M323.0 322.9L321.3 326.0M313.4 322.1L314.2 323.3M302.8 325.0L311.8 326.2M302.8 325.0L302.8 325.0M301.5 327.6L303.0 329.5M301.5 327.6L302.8 325.0M268.6 371.5L267.9 379.3M268.6 371.5L274.3 373.8M267.9 379.3L271.0 379.5M271.0 379.5L272.8 378.0M277.5 395.5L284.6 388.2M283.7 398.8L287.3 390.7M305.5 337.7L303.8 339.4M311.1 345.3L310.3 345.7M303.8 339.4L304.5 343.3M310.3 345.7L304.5 343.3M295.5 319.8L292.5 325.0M295.5 319.8L299.7 327.9M292.5 325.0L296.8 328.8M299.7 327.9L296.8 328.8M301.5 327.6L299.7 327.9M295.6 318.1L296.2 317.9M295.6 318.1L295.5 319.8M300.6 296.7L294.5 300.7M303.9 299.1L297.8 303.2M297.8 303.2L294.5 300.7M307.4 308.1L299.0 305.8M297.8 303.2L299.0 305.8M287.5 306.4L289.0 305.2M281.2 299.2L289.3 303.4M289.0 305.2L289.3 303.4M285.3 293.3L289.6 303.0M292.7 296.4L292.9 300.4M292.9 300.4L289.6 303.0M292.9 300.4L294.5 300.7M289.6 303.0L289.3 303.4M290.5 316.7L291.4 307.8M290.5 316.7L290.7 316.7M290.7 316.7L296.3 311.2M291.4 307.8L295.5 309.3M296.3 311.2L295.5 309.3M288.7 317.5L290.5 316.7M289.0 305.2L291.4 307.8M288.7 318.7L291.5 324.6M288.7 318.7L288.6 318.1M291.5 324.6L292.5 325.0M295.6 318.1L290.7 316.7M298.4 312.8L296.3 311.2M299.0 305.8L295.5 309.3M270.1 292.8L268.3 298.7M272.9 301.0L269.5 299.6M268.3 298.7L269.5 299.6M264.2 319.7L263.3 318.6M254.0 323.1L253.3 321.2M263.3 318.6L253.3 321.2M252.1 307.0L250.3 305.3M252.1 307.0L252.2 315.8M250.3 305.3L247.1 312.7M247.1 312.7L249.6 318.5M252.2 315.8L249.6 318.5M247.1 312.7L240.8 311.1M239.7 318.4L249.5 318.8M239.2 312.0L240.8 311.1M249.6 318.5L249.5 318.8M256.6 294.1L256.3 298.0M248.6 297.8L249.9 302.9M249.9 302.9L253.9 301.7M253.9 301.7L256.3 298.0M260.1 292.4L262.9 299.3M256.3 298.0L262.9 299.3M268.3 298.7L263.5 300.4M262.9 299.3L263.5 300.4M241.7 309.4L249.9 304.2M241.7 309.4L240.8 303.1M240.8 303.1L249.8 303.1M249.9 304.2L249.8 303.1M250.3 305.3L249.9 304.2M240.8 311.1L241.7 309.4M234.5 309.5L235.2 305.4M238.5 301.8L240.8 303.1M249.9 302.9L249.8 303.1M330.4 299.1L330.6 293.7M330.4 299.1L325.5 302.3M323.6 292.8L326.2 291.3M326.2 291.3L330.6 293.7M334.8 300.2L330.4 299.1M335.5 291.0L334.1 291.0M334.1 291.0L330.6 293.7M317.9 277.4L322.7 280.8M320.2 287.1L320.6 286.8M320.6 286.8L322.7 280.8M329.2 278.7L325.6 281.4M325.6 281.4L322.7 280.8M342.8 404.6L344.3 406.4M344.3 406.4L346.6 406.3M338.7 412.3L340.2 413.2M344.3 406.4L344.0 411.0M340.2 413.2L344.0 411.0M348.8 407.3L349.1 410.1M344.0 411.0L347.6 412.4M348.2 438.3L350.3 436.3M351.6 434.3L351.6 433.8M360.1 433.8L360.3 434.4M330.3 311.4L335.7 311.1M330.3 311.4L330.1 306.8M335.7 311.1L333.3 307.1M330.1 306.8L333.3 307.1M326.1 304.5L330.1 306.8M328.7 313.2L330.3 311.4M336.9 301.9L333.3 307.1M352.8 317.8L346.8 317.3M346.1 310.0L344.1 310.2M346.8 317.3L344.1 310.2M342.9 306.9L342.8 308.9M335.7 311.1L336.9 312.1M336.9 312.1L342.8 308.9M344.1 310.2L342.8 308.9M488.4 433.9L491.6 435.7M494.7 429.8L493.3 434.8M493.3 434.8L491.6 435.7M494.3 448.0L490.5 440.8M490.5 440.8L491.0 439.3M499.1 446.8L500.4 442.5M500.4 442.5L491.0 439.3M490.5 440.8L485.0 443.0M480.1 440.4L480.1 440.8M480.1 440.8L480.1 440.8M485.0 443.0L480.1 440.8M491.6 435.7L491.0 439.3M500.8 429.1L504.4 431.8M506.9 429.1L506.1 431.3M506.1 431.3L504.4 431.8M511.1 446.1L517.1 444.4M510.2 445.6L508.8 442.1M509.8 439.7L508.8 442.1M509.8 439.7L513.2 437.8M516.8 442.5L513.2 437.8M513.2 437.8L514.7 436.2M516.3 436.9L514.7 436.2M509.8 439.7L507.8 434.6M506.9 432.0L507.8 434.6M506.9 432.0L514.4 433.1M514.7 436.2L514.4 433.1M514.5 427.0L515.4 431.8M506.9 432.0L506.1 431.3M514.4 433.1L515.4 431.8M244.6 270.0L246.7 273.0M244.6 270.0L244.0 268.2M246.7 273.0L249.8 268.3M244.0 268.2L246.2 266.3M246.2 266.3L248.7 266.6M248.7 266.6L249.8 268.3M237.4 276.7L244.6 270.0M247.5 274.3L246.7 273.0M242.3 268.0L243.2 267.9M243.2 267.9L244.0 268.2M254.2 271.5L249.8 268.3M247.5 258.3L246.2 266.3M254.2 264.0L248.7 266.6M267.5 266.7L267.4 269.4M272.9 275.8L268.9 275.8M267.4 269.4L268.9 275.8M160.8 241.0L167.1 236.4M167.1 236.4L172.9 240.0M161.5 244.1L160.6 242.3M161.5 244.1L167.3 247.5M172.9 240.0L167.3 247.5M176.2 257.8L178.5 252.9M178.5 252.9L175.5 250.0M169.1 256.1L174.3 250.1M169.1 256.1L169.2 256.4M169.2 256.4L172.7 257.7M175.5 250.0L174.3 250.1M165.8 253.6L167.4 247.7M165.8 253.6L169.1 256.1M174.3 250.1L167.4 247.7M172.9 240.0L174.4 240.0M176.6 243.4L176.1 242.5M176.6 243.4L175.5 250.0M167.4 247.7L167.3 247.5M176.1 242.5L174.4 240.0M350.5 333.6L347.1 331.9M350.5 333.6L351.3 335.6M347.1 331.9L346.6 336.4M351.3 335.6L346.6 336.4M350.5 333.6L352.8 329.1M357.6 335.9L353.2 337.1M351.3 335.6L353.2 337.1M487.2 451.8L477.8 453.0M487.2 451.8L485.1 447.5M485.1 447.5L479.1 448.3M479.1 448.3L476.5 451.5M477.8 453.0L476.5 451.7M476.5 451.7L476.5 451.5M489.1 453.0L487.2 451.8M478.3 455.4L477.8 453.0M485.0 443.0L485.1 447.5M480.1 440.8L479.1 448.3M472.5 444.7L476.5 451.5M480.1 440.8L479.3 440.9M472.8 453.3L476.5 451.7M101.6 211.8L106.1 208.8M101.6 211.8L97.6 211.0M106.1 208.8L98.4 210.0M97.6 211.0L98.4 210.0M99.8 205.8L98.4 210.0M107.7 208.4L106.1 208.8M97.3 211.2L97.6 211.0M108.8 209.1L109.3 211.4M101.6 211.8L107.5 214.0M109.3 211.4L107.5 214.0M161.9 312.6L161.7 312.5M156.3 307.3L157.8 309.5M161.7 312.5L157.8 309.5M157.3 329.7L153.4 327.2M157.3 329.7L163.6 328.9M153.4 327.2L153.9 321.9M163.6 328.9L164.6 327.0M164.6 327.0L163.0 320.6M163.0 320.6L161.3 320.6M161.3 320.6L155.3 320.8M153.9 321.9L155.3 320.8M167.3 326.2L164.6 327.0M166.9 334.4L166.6 334.2M166.6 334.2L163.6 328.9M163.5 319.8L163.0 320.6M158.8 315.3L161.7 312.5M158.8 315.3L161.3 320.6M157.3 330.3L157.2 331.7M157.3 330.3L162.3 337.0M157.2 331.7L159.1 339.8M162.3 337.0L159.1 339.8M166.6 334.2L162.3 337.0M157.3 329.7L157.3 330.3M157.9 342.7L159.1 339.8M152.0 338.8L157.2 331.7M152.0 338.8L153.1 340.3M121.9 250.5L121.5 250.8M138.2 238.2L138.5 237.8M134.7 234.7L136.3 233.5M138.5 237.8L136.3 233.5M143.9 245.9L145.5 242.5M142.5 242.6L144.9 241.6M145.5 242.5L144.9 241.6M145.9 250.9L150.0 248.1M149.2 244.3L150.0 248.1M149.2 244.3L145.5 242.5M138.5 237.8L144.6 240.2M144.6 240.2L144.9 241.6M150.8 243.7L149.2 244.3M150.3 235.4L153.2 237.3M150.3 235.4L145.2 238.8M145.2 238.8L144.6 240.2M200.3 268.0L202.2 265.0M206.9 274.7L204.3 274.9M206.9 274.7L210.3 270.6M210.3 270.6L202.2 265.0M216.1 276.6L212.6 269.5M206.9 274.7L210.6 281.3M210.3 270.6L212.6 269.5M222.1 273.8L213.2 268.8M212.6 269.5L213.2 268.8M218.6 265.0L213.6 267.7M213.6 267.7L213.2 268.8M188.3 231.1L189.6 233.6M189.6 233.6L192.6 234.4M192.6 234.4L194.2 231.3M206.7 245.6L205.8 244.4M213.2 240.6L206.6 240.9M205.8 244.4L206.6 240.9M211.4 233.1L205.1 236.4M206.6 240.9L205.1 236.4M204.0 231.7L203.6 235.7M205.1 236.4L203.6 235.7M192.6 234.4L193.2 238.6M193.2 238.6L201.2 237.0M198.4 231.5L203.3 235.7M201.2 237.0L203.3 235.7M203.6 235.7L203.3 235.7M154.8 307.1L151.8 309.6M146.5 302.6L148.8 309.1M151.8 309.6L148.8 309.1M117.4 242.8L117.5 242.5M108.6 242.7L110.6 238.1M110.6 238.1L117.5 242.5M119.5 241.6L119.2 241.4M117.5 242.5L119.2 241.4M119.2 241.4L119.3 241.0M110.6 238.1L109.9 234.5M118.5 237.9L112.0 232.3M112.0 232.3L109.9 234.5M103.9 241.0L103.9 240.7M109.9 234.5L107.1 234.3M103.9 240.7L107.1 234.3M111.5 206.3L116.2 204.7M116.2 204.7L116.3 202.5M110.6 197.8L116.3 202.5M117.0 226.6L120.3 229.3M117.0 226.6L118.1 229.1M117.0 226.5L117.0 226.6M117.0 226.5L114.8 227.4M114.8 227.4L112.0 232.3M126.5 229.7L126.7 228.9M130.9 230.9L131.6 229.8M126.7 228.9L131.6 229.8M121.8 223.6L126.7 228.9M121.8 223.6L118.5 224.8M118.5 224.8L117.0 226.5M134.4 228.8L136.7 228.6M134.4 228.8L131.6 229.8M136.3 233.5L136.7 228.6M124.2 221.6L134.4 228.8M124.2 221.6L121.8 223.6M161.9 270.0L161.7 267.4M169.3 269.5L166.3 265.7M161.7 267.4L166.3 265.7M170.4 262.8L167.2 262.9M166.3 265.7L167.2 262.9M169.2 256.4L167.0 262.3M167.0 262.3L167.2 262.9M165.8 253.6L162.8 254.8M161.5 244.1L159.7 249.4M162.8 254.8L159.7 249.4M156.9 243.6L153.6 252.6M159.7 249.4L153.6 252.6M150.0 248.1L153.4 252.9M151.8 255.3L153.2 254.7M153.2 254.7L153.4 252.9M153.4 252.9L153.6 252.6M192.6 282.2L189.1 289.1M192.6 282.2L186.2 283.7M185.4 285.6L185.5 284.5M185.4 285.6L188.8 289.1M188.8 289.1L189.1 289.1M186.2 283.7L185.5 284.5M195.7 290.3L189.1 289.1M192.9 282.1L192.6 282.2M186.5 277.0L186.2 283.7M182.1 287.8L185.4 285.6M179.7 280.3L185.5 284.5M187.2 292.4L188.8 289.1M196.8 291.2L197.3 293.9M204.3 294.5L198.2 295.5M204.3 294.5L210.8 288.0M198.2 295.5L209.9 286.3M210.8 288.0L210.9 287.8M210.9 287.8L210.1 286.3M210.1 286.3L209.9 286.3M206.0 302.1L209.5 298.6M209.5 298.6L204.3 294.5M197.6 295.7L198.2 295.5M209.5 298.6L210.2 298.3M210.2 298.3L210.8 288.0M202.3 284.9L209.9 286.3M210.2 298.3L215.1 300.0M216.3 289.9L215.1 300.0M216.3 289.9L210.9 287.8M210.4 285.4L210.1 286.3M217.4 290.0L216.3 289.9M223.0 297.1L222.8 297.9M215.1 300.0L215.4 300.3M215.4 300.3L222.8 297.9M231.8 300.0L223.6 299.3M223.6 299.3L222.8 297.9M217.2 319.7L213.5 316.2M226.2 316.1L218.4 312.7M218.4 312.7L213.5 316.2M210.6 318.7L212.1 316.2M213.5 316.2L212.1 316.2M203.7 313.7L212.0 316.0M212.1 316.2L212.0 316.0M333.5 452.5L332.7 453.2M241.5 350.8L245.2 350.2M240.0 354.6L245.2 356.2M245.2 356.2L245.2 350.2M228.7 340.6L232.7 336.3M228.7 340.6L225.0 337.1M225.0 337.1L225.4 334.8M225.4 334.8L230.3 333.2M232.7 336.3L231.3 333.7M231.3 333.7L230.3 333.2M230.4 348.2L229.4 348.7M222.9 338.5L225.0 337.1M231.5 346.6L228.7 340.6M222.5 329.8L225.4 334.8M231.4 326.0L230.3 333.2M235.5 345.1L237.0 343.4M232.7 336.3L237.1 338.1M237.0 343.4L237.1 338.1M237.7 320.9L245.4 325.0M249.6 318.9L249.5 318.8M249.6 318.9L247.3 324.3M247.3 324.3L245.4 325.0M251.0 330.3L249.7 330.2M253.3 321.2L249.6 318.9M247.3 324.3L249.7 330.2M261.6 425.6L261.4 425.8M252.0 420.7L251.4 423.7M261.4 425.8L256.6 426.2M256.6 426.2L251.4 423.7M261.4 425.8L261.3 432.4M256.6 426.2L254.8 430.1M254.8 430.1L257.8 432.8M261.3 432.4L257.8 432.8M255.8 379.0L256.3 376.3M251.4 370.6L256.3 376.3M251.4 370.6L249.6 371.3M246.7 375.1L248.4 372.7M249.6 371.3L248.4 372.7M236.7 372.8L238.7 368.9M248.4 372.7L238.7 368.9M265.4 370.2L261.3 370.0M265.4 370.2L262.6 376.8M261.3 370.0L258.9 375.5M262.6 376.8L258.9 375.5M267.4 369.6L265.4 370.2M267.4 369.6L268.7 366.0M257.8 365.0L256.5 366.2M257.8 365.0L267.3 363.1M256.5 366.2L261.3 370.0M268.7 366.0L267.3 363.1M264.4 379.0L262.6 376.8M267.8 379.3L267.9 379.3M267.4 369.6L268.6 371.5M251.4 370.6L253.9 366.5M256.3 376.3L258.9 375.5M253.9 366.5L256.5 366.2M239.8 254.2L234.7 256.2M239.8 254.2L244.3 257.2M241.5 261.1L235.7 263.2M241.5 261.1L244.3 257.2M235.1 262.1L235.7 263.2M235.1 262.1L234.7 256.3M234.7 256.3L234.7 256.2M239.8 251.1L239.8 254.2M233.1 251.7L234.7 256.2M245.5 257.2L244.3 257.2M243.2 267.9L241.5 261.1M235.5 265.3L235.7 263.2M227.9 261.4L235.1 262.1M228.6 256.4L234.7 256.3M189.6 233.6L184.5 234.1M181.5 230.9L181.6 231.5M181.6 231.5L181.9 232.6M184.5 234.1L181.9 232.6M174.6 239.8L180.2 236.2M174.6 239.8L174.6 234.7M174.6 234.7L181.6 231.5M181.9 232.6L180.2 236.2M176.1 242.5L182.6 239.6M174.6 239.8L174.4 240.0M180.2 236.2L182.6 239.6M328.3 351.5L325.3 350.6M328.3 351.5L326.5 357.8M325.3 350.6L324.0 352.8M323.0 345.8L325.3 350.6M330.5 359.0L331.5 359.7M330.5 359.0L327.3 359.3M331.5 359.7L329.6 364.9M329.3 337.9L335.6 339.8M325.9 342.5L332.3 344.8M332.3 344.8L335.6 339.8M331.0 330.9L330.0 331.2M331.0 330.9L338.4 338.9M335.6 339.8L338.4 338.9M336.9 375.3L333.7 372.0M336.9 375.3L339.7 368.1M333.7 372.0L334.4 368.2M334.4 368.2L337.9 365.8M337.9 365.8L339.3 366.9M339.3 366.9L339.7 368.1M333.1 372.2L333.7 372.0M337.4 376.4L336.9 375.3M342.9 372.3L339.7 368.1M330.4 367.0L334.4 368.2M331.5 359.7L337.7 360.1M337.8 360.3L337.9 365.8M348.4 366.0L339.3 366.9M268.7 366.0L271.7 365.9M275.4 370.0L275.3 369.8M271.7 365.9L275.3 369.8M270.8 386.8L274.1 384.1M276.8 384.8L274.1 384.1M271.0 379.5L271.8 380.5M274.1 384.1L273.3 382.5M266.5 310.4L272.0 312.5M266.5 310.4L267.3 308.0M267.3 308.0L269.4 306.8M272.0 312.5L273.3 306.3M273.3 306.3L269.4 306.8M269.5 299.6L269.4 306.8M263.4 300.8L263.5 300.4M263.4 300.8L267.3 308.0M275.4 305.1L273.3 306.3M273.1 313.6L272.0 312.5M263.1 312.9L262.3 313.8M263.1 312.9L261.4 302.3M262.3 313.8L259.5 312.5M259.5 312.5L257.4 309.5M257.4 309.5L260.3 302.7M261.4 302.3L260.3 302.7M263.3 318.6L262.3 313.8M266.5 310.4L263.1 312.9M263.4 300.8L261.4 302.3M252.2 315.8L259.5 312.5M252.1 307.0L257.4 309.5M253.9 301.7L260.3 302.7M326.3 290.4L331.0 286.6M326.3 290.4L325.1 287.1M325.1 287.1L326.3 284.1M326.3 284.1L330.9 286.2M330.9 286.2L331.0 286.6M326.2 291.3L326.3 290.4M334.1 291.0L331.0 286.6M320.6 286.8L325.1 287.1M325.6 281.4L326.3 284.1M332.1 284.6L330.9 286.2M357.7 432.0L354.4 432.4M345.3 418.2L341.3 419.7M341.3 419.7L339.3 424.3M339.9 424.6L339.3 424.4M339.3 424.4L339.3 424.3M340.2 413.2L341.3 419.7M332.5 421.9L339.3 424.3M338.7 426.2L339.3 424.4M360.6 436.1L355.8 442.0M360.4 434.8L352.8 438.5M352.8 438.5L352.8 438.5M359.5 445.1L356.5 443.8M352.0 436.2L352.8 438.5M348.7 440.0L351.3 440.7M334.2 317.7L335.3 317.9M334.2 317.7L326.3 322.7M335.3 317.9L335.9 318.9M335.9 318.9L335.4 321.9M335.4 321.9L333.4 324.1M333.4 324.1L326.3 322.7M328.3 315.4L334.2 317.7M336.9 312.1L335.3 317.9M323.0 322.9L326.3 322.7M346.8 317.3L344.8 319.3M344.8 319.3L335.9 318.9M331.0 330.9L331.9 330.1M331.9 330.1L333.4 324.1M501.4 441.1L500.2 436.2M501.4 441.1L508.6 442.0M508.6 442.0L505.3 437.9M505.3 437.9L501.5 435.1M500.2 436.2L501.5 435.1M493.3 434.8L500.2 436.2M500.4 442.5L501.4 441.1M508.8 442.1L508.6 442.0M507.8 434.6L505.3 437.9M504.4 431.8L501.5 435.1M515.4 431.8L516.0 431.8M257.8 272.3L260.2 272.1M257.8 272.3L264.3 279.6M260.2 272.1L268.4 276.4M264.3 279.6L268.2 276.8M268.2 276.8L268.4 276.4M257.1 272.0L257.8 272.3M267.4 269.4L260.2 272.1M260.9 284.9L264.3 279.6M268.9 275.8L268.4 276.4M272.8 285.1L268.2 276.8M193.3 249.9L193.4 245.6M193.3 249.9L185.8 254.0M193.4 245.6L191.4 246.1M185.3 253.8L185.8 254.0M185.3 253.8L184.5 252.9M191.4 246.1L184.5 252.9M181.3 262.7L185.3 253.8M178.5 252.9L183.7 252.4M183.7 252.4L184.5 252.9M167.1 236.4L167.1 235.3M174.6 234.7L173.6 230.6M167.1 235.3L169.6 230.7M170.4 230.2L169.6 230.7M350.8 341.5L344.1 341.4M350.8 341.5L352.8 344.5M352.7 344.5L352.8 344.5M352.7 344.5L347.5 349.8M344.1 341.4L344.1 346.9M347.5 349.8L344.1 346.9M353.2 337.1L350.8 341.5M343.0 340.0L346.6 336.4M343.0 340.0L344.1 341.4M359.1 344.8L352.8 344.5M353.7 349.9L352.7 344.5M348.6 353.0L347.5 349.8M340.9 348.7L344.1 346.9M340.9 348.7L336.5 349.1M340.3 338.6L343.0 340.0M340.3 338.6L339.1 338.9M336.5 349.1L339.1 338.9M340.9 348.7L342.2 354.1M96.6 238.3L96.1 238.1M96.6 238.3L96.6 239.7M101.9 247.3L99.8 248.9M155.9 317.6L156.0 317.4M155.9 317.6L154.2 314.8M156.0 317.4L157.2 310.9M154.2 314.8L157.2 310.9M158.8 315.3L156.0 317.4M155.3 320.8L155.9 317.6M149.2 318.8L149.6 314.8M149.2 318.8L153.9 321.9M151.2 312.8L149.6 314.8M151.2 312.8L154.2 314.8M157.8 309.5L157.2 310.9M151.2 312.8L151.8 309.6M212.6 255.4L212.1 263.7M213.6 267.7L213.1 266.9M212.1 263.7L213.1 266.9M200.4 245.3L200.4 240.8M200.4 245.3L199.3 245.9M200.4 240.8L193.5 240.5M199.3 245.9L194.4 244.5M194.4 244.5L193.5 240.5M205.8 244.4L200.4 245.3M201.2 237.0L200.4 240.8M206.7 249.7L200.0 250.6M200.0 250.6L199.3 245.9M193.1 239.0L193.5 240.5M193.1 239.0L193.2 238.6M152.0 338.8L150.0 337.4M153.4 327.2L148.9 329.6M150.0 337.4L148.9 329.6M147.5 327.9L148.5 329.6M149.2 318.8L144.6 319.6M148.9 329.6L148.5 329.6M143.7 311.8L144.5 310.0M143.7 311.8L141.7 313.4M141.7 313.4L137.2 312.2M142.9 304.3L144.5 310.0M142.9 304.3L137.2 312.1M137.2 312.1L137.2 312.2M149.6 314.8L143.7 311.8M148.8 309.1L144.5 310.0M142.9 317.9L141.7 313.4M137.1 312.2L137.2 312.2M142.7 301.9L142.9 304.3M136.2 308.7L137.2 312.1M105.1 224.2L110.8 225.1M105.1 224.2L103.2 221.7M110.8 225.1L109.6 218.2M103.2 221.7L103.3 218.4M103.3 218.4L107.0 215.4M107.0 215.4L109.6 218.2M103.8 227.1L103.5 233.0M103.8 227.1L105.1 224.2M114.8 227.4L110.8 225.1M107.1 234.3L103.5 233.0M96.7 224.3L103.2 221.7M96.7 224.3L97.4 227.3M97.4 227.3L103.8 227.1M99.5 216.3L103.3 218.4M96.7 224.3L93.5 222.2M107.5 214.0L107.0 215.4M98.2 237.2L96.3 229.6M98.2 237.2L98.5 237.1M98.5 237.1L103.2 233.1M103.2 233.1L97.2 228.7M96.3 229.6L97.2 228.7M96.6 238.3L98.2 237.2M93.8 230.7L96.3 229.6M103.9 240.7L98.5 237.1M103.5 233.0L103.2 233.1M97.4 227.3L97.2 228.7M116.3 197.3L116.7 201.9M117.9 197.2L120.4 198.2M116.7 201.9L120.3 199.6M116.3 202.5L116.7 201.9M116.2 204.7L120.6 208.1M123.8 207.5L120.7 208.1M120.6 208.1L120.7 208.1M127.1 221.1L132.6 223.5M127.1 221.1L131.3 219.7M131.3 219.7L132.6 223.5M134.9 217.7L139.8 222.6M134.9 217.7L131.3 219.7M132.6 223.5L137.3 226.9M139.8 222.6L137.3 226.9M124.2 221.6L124.4 221.3M124.4 221.3L127.1 221.1M136.7 228.6L136.8 228.5M136.8 228.5L137.3 226.9M155.8 265.7L158.4 265.9M161.7 267.4L159.3 266.2M158.4 265.9L159.3 266.2M167.0 262.3L163.7 260.3M159.3 266.2L163.7 260.3M155.7 258.3L160.7 260.7M155.7 258.3L155.5 256.7M155.5 256.7L162.3 255.4M162.3 255.4L163.3 259.8M163.3 259.8L160.7 260.7M155.3 265.4L155.7 258.3M158.4 265.9L160.7 260.7M153.2 254.7L155.5 256.7M162.8 254.8L162.3 255.4M163.7 260.3L163.3 259.8M221.6 307.4L221.0 307.2M221.6 307.4L227.6 307.6M221.0 307.2L223.8 300.1M223.8 300.1L227.7 304.3M227.6 307.6L227.7 304.3M230.4 311.1L227.6 307.6M226.5 315.8L221.6 307.4M228.3 303.9L227.7 304.3M223.6 299.3L223.8 300.1M206.8 306.3L207.3 306.6M212.0 316.0L210.9 311.3M207.3 306.6L210.9 311.3M261.9 328.1L261.9 331.1M269.1 329.0L269.7 338.0M269.7 338.0L269.6 338.1M269.6 338.1L269.1 338.4M269.1 338.4L261.9 331.1M269.2 430.0L267.1 432.5M276.5 435.7L276.0 436.5M276.0 436.5L267.1 432.5M284.4 439.4L281.6 440.7M276.0 436.5L275.7 437.1M275.7 437.1L275.9 438.5M286.8 444.9L286.0 445.8M254.8 430.1L252.9 430.6M257.8 432.8L255.8 434.4M275.7 437.1L269.5 437.9M267.1 432.5L265.1 434.5M269.5 437.9L265.1 434.5M261.3 432.4L262.8 434.5M262.8 434.5L265.1 434.5M238.8 368.7L243.7 366.5M238.8 368.7L235.9 361.2M242.4 360.7L237.0 359.3M242.4 360.7L244.0 364.6M244.0 364.6L243.7 366.5M235.9 361.2L236.3 360.1M236.3 360.1L237.0 359.3M249.6 371.3L243.7 366.5M238.7 368.9L238.8 368.7M234.5 362.1L235.9 361.2M237.1 357.8L237.0 359.3M246.5 358.2L245.2 356.2M246.5 358.2L242.4 360.7M251.4 361.1L251.6 362.0M251.4 361.1L248.3 358.4M251.6 362.0L244.0 364.6M248.3 358.4L246.5 358.2M253.9 366.5L251.6 362.0M228.0 357.3L236.3 360.1M251.4 361.1L253.5 358.9M248.3 358.4L250.3 351.1M253.5 358.9L254.2 352.9M254.2 352.9L250.3 351.1M245.2 350.2L248.5 348.3M250.3 351.1L248.5 348.3M240.2 343.1L237.0 343.4M240.2 343.1L249.0 345.6M248.5 348.3L249.0 345.6M272.9 326.2L273.4 326.7M269.7 338.0L275.6 333.4M275.6 333.4L276.2 330.7M273.4 326.7L276.2 330.7M281.2 323.0L281.5 324.4M273.4 326.7L281.5 324.4M291.5 324.6L285.3 328.2M296.8 328.8L295.0 331.3M295.0 331.3L286.5 331.7M286.5 331.7L285.3 328.2M288.7 318.7L284.1 327.3M285.3 328.2L284.1 327.3M281.5 324.4L282.8 326.8M284.1 327.3L282.8 326.8M276.2 330.7L278.4 330.0M282.8 326.8L278.4 330.0M264.9 353.9L266.9 355.6M264.9 353.9L259.6 357.3M266.9 355.6L266.7 361.7M266.7 361.7L260.0 358.5M260.0 358.5L259.6 357.5M259.6 357.3L259.6 357.5M257.8 365.0L260.0 358.5M267.3 363.1L267.3 362.9M267.3 362.9L266.7 361.7M253.5 358.9L259.6 357.5M257.2 352.4L254.2 352.9M257.2 352.4L259.6 357.3M295.0 331.7L291.8 338.6M295.0 331.7L298.5 337.7M291.8 338.6L298.5 337.7M303.8 339.4L301.0 339.9M295.0 331.7L295.0 331.3M298.5 337.7L301.0 339.9M183.5 240.3L186.5 238.8M183.5 240.3L182.8 244.3M186.0 244.7L183.9 245.5M186.0 244.7L189.0 239.6M189.0 239.6L186.5 238.8M182.8 244.3L183.9 245.5M184.5 234.1L186.5 238.8M182.6 239.6L183.5 240.3M176.6 243.4L182.8 244.3M191.4 246.1L186.0 244.7M183.7 252.4L183.9 245.5M193.1 239.0L189.0 239.6M193.4 245.6L194.4 244.5M333.8 348.5L336.3 349.2M333.8 348.5L328.6 351.6M329.9 354.1L336.8 354.2M329.9 354.1L328.6 351.6M336.8 354.2L336.3 349.2M332.3 344.8L333.8 348.5M336.5 349.1L336.3 349.2M338.4 338.9L339.1 338.9M328.3 351.5L328.6 351.6M330.5 359.0L329.9 354.1M338.0 357.2L336.8 354.2M345.4 327.7L344.9 328.7M345.4 327.7L344.7 325.7M344.7 325.7L337.4 323.9M344.9 328.7L341.1 331.3M337.4 323.9L339.2 330.3M339.2 330.3L341.1 331.3M349.9 327.1L345.4 327.7M347.1 331.9L344.9 328.7M344.8 319.3L344.7 325.7M335.4 321.9L337.4 323.9M340.3 338.6L341.1 331.3M331.9 330.1L339.2 330.3M376.8 328.7L376.4 325.3M376.8 328.7L380.2 326.8M380.2 326.8L380.8 325.9M375.6 330.8L376.8 328.7M380.3 332.7L380.2 326.8M109.9 211.7L114.4 218.5M109.9 211.7L111.4 211.9M111.4 211.9L117.0 214.6M117.0 214.6L116.2 219.4M116.2 219.4L114.4 218.5M109.3 211.4L109.9 211.7M109.6 218.2L114.4 218.5M120.6 208.1L111.4 211.9M118.9 213.1L120.7 208.1M118.9 213.1L117.0 214.6M124.4 221.3L124.7 219.0M118.5 224.8L116.2 219.4M124.7 219.0L118.9 213.1M211.0 254.9L206.6 257.9M212.1 263.7L205.9 259.4M206.6 257.9L205.9 259.4M207.1 250.5L201.9 254.1M206.6 257.9L201.9 254.1M213.1 266.9L204.0 261.9M205.9 259.4L204.0 261.9M200.0 250.6L199.4 253.3M201.9 254.1L199.4 253.3M150.0 337.4L149.3 337.6M147.5 338.7L149.3 337.6M148.5 329.6L147.5 329.8M149.3 337.6L147.5 336.8M128.4 211.5L127.7 209.6M128.4 211.5L133.8 214.0M134.7 213.3L133.8 214.0M124.7 219.0L128.4 211.5M134.9 217.7L133.8 214.0M142.6 217.3L142.4 220.7M142.4 220.7L146.8 219.4M139.8 222.6L141.5 221.9M142.4 220.7L141.5 221.9M214.5 307.7L215.0 304.0M214.5 307.7L218.7 311.1M220.9 307.2L215.5 303.5M220.9 307.2L218.7 311.1M215.5 303.5L215.0 304.0M207.3 306.6L215.0 304.0M210.9 311.3L214.5 307.7M218.4 312.7L218.7 311.1M215.4 300.3L215.5 303.5M221.0 307.2L220.9 307.2M248.8 330.9L245.6 332.5M248.8 330.9L250.0 335.3M245.6 332.5L244.6 335.2M244.6 335.2L245.4 337.0M245.4 337.0L250.9 342.0M250.0 335.3L251.0 342.0M250.9 342.0L251.0 342.0M245.4 325.0L241.8 328.6M249.7 330.2L248.8 330.9M241.8 328.6L245.6 332.5M253.2 332.2L254.3 334.0M254.3 334.0L250.0 335.3M240.2 343.1L245.4 337.0M249.0 345.6L250.4 343.9M250.4 343.9L250.9 342.0M238.2 336.3L239.6 335.7M238.2 336.3L235.8 332.0M239.6 335.7L240.2 328.3M235.8 332.0L236.8 326.5M236.8 326.5L240.2 328.3M237.1 338.1L238.2 336.3M244.6 335.2L239.6 335.7M231.3 333.7L235.8 332.0M241.8 328.6L240.2 328.3M235.6 324.7L236.8 326.5M264.0 343.7L253.6 340.2M264.0 343.7L265.4 342.7M265.4 342.7L258.3 334.8M253.6 340.2L255.4 335.7M255.4 335.7L258.3 334.8M266.0 342.4L269.1 338.4M266.0 342.4L265.4 342.7M261.9 331.1L258.3 334.8M254.3 334.0L255.4 335.7M251.0 342.0L253.6 340.2M251.3 428.7L250.9 424.1M248.9 424.5L250.9 424.1M251.4 423.7L250.9 424.1M260.8 437.9L262.2 436.1M260.8 437.9L260.4 439.1M262.2 436.1L265.8 441.7M258.1 437.3L260.8 437.9M262.8 434.5L262.2 436.1M269.5 437.9L268.0 440.5M259.0 349.8L253.6 345.7M259.0 349.8L262.3 348.2M253.6 345.7L263.5 344.9M262.3 348.2L263.5 344.9M257.2 352.4L259.0 349.8M250.4 343.9L253.6 345.7M264.4 351.7L264.9 353.9M264.4 351.7L262.3 348.2M264.0 343.7L263.5 344.9M264.4 351.7L272.6 349.6M272.6 349.6L266.0 342.4M277.0 348.3L278.9 345.2M277.0 348.3L270.4 338.6M270.4 338.6L278.9 345.2M276.2 339.8L270.3 338.6M276.2 339.8L279.0 345.1M270.3 338.6L270.4 338.6M279.0 345.1L278.9 345.2M310.3 345.7L309.6 346.4M304.5 343.3L304.4 344.0M301.0 339.9L298.1 342.5M298.1 343.0L298.1 342.5M290.5 350.6L290.5 348.0M293.4 348.1L290.5 348.0M267.3 362.9L272.5 358.8M266.9 355.6L271.5 354.1M272.5 358.8L271.5 354.1M272.6 349.6L274.4 350.8M271.5 354.1L274.4 350.8M269.6 338.1L270.3 338.6M277.0 348.3L276.1 350.6M274.4 350.8L276.1 350.6M271.7 365.9L275.1 364.2M275.3 369.8L275.5 369.5M277.2 364.3L275.1 364.2M272.5 358.8L274.2 359.4M275.1 364.2L274.2 359.4M196.3 254.8L197.9 254.4M196.3 254.8L191.8 259.6M197.9 254.4L203.1 262.5M191.8 259.6L191.8 259.8M191.8 259.8L202.3 263.5M202.3 263.5L203.1 262.5M193.3 249.9L196.3 254.8M199.4 253.3L197.9 254.4M185.8 254.0L191.8 259.6M204.0 261.9L203.1 262.5M191.1 261.6L191.8 259.8M202.2 265.0L202.3 263.5M136.8 228.5L142.3 231.5M141.5 221.9L149.3 227.6M149.3 227.6L142.3 231.5M145.2 238.8L144.0 233.8M144.0 233.8L142.3 231.5M150.3 235.4L151.0 229.9M144.0 233.8L151.0 229.9M291.4 339.1L291.6 340.8M291.4 339.1L285.2 335.3M291.6 340.8L288.6 346.2M282.7 342.8L288.0 346.2M282.7 342.8L282.3 337.9M288.0 346.2L288.6 346.2M282.3 337.9L282.3 337.8M282.3 337.8L284.8 335.5M285.2 335.3L284.8 335.5M291.8 338.6L291.4 339.1M298.1 342.5L291.6 340.8M286.5 331.7L285.2 335.3M290.5 348.0L288.6 346.2M276.2 339.8L282.3 337.9M279.0 345.1L282.7 342.8M275.6 333.4L282.3 337.8M278.4 330.0L284.8 335.5M285.1 354.2L285.2 349.2M281.8 356.5L280.2 356.6M285.2 349.2L277.2 351.6M277.2 351.6L279.9 356.4M280.2 356.6L279.9 356.4M288.0 346.2L285.2 349.2M280.1 359.4L280.2 356.6M276.1 350.6L277.2 351.6M274.2 359.4L279.9 356.4M169.6 230.7L166.0 228.2M167.1 235.3L161.7 230.7M161.7 230.7L161.6 226.3M157.9 237.2L157.8 234.3M161.7 230.7L157.8 234.3M152.6 222.3L151.0 228.1M160.6 225.8L153.0 229.1M153.0 229.1L151.5 228.8M151.5 228.8L151.0 228.1M149.3 227.6L151.0 228.1M157.8 234.3L153.0 229.1M151.0 229.9L151.5 228.8" fill="none" stroke="#dbd37a" stroke-width="0.5"/>
<path d="M84.0 200.0 L120.5 197.0 L120.0 205.5 L133.0 212.5 L154.0 223.0 L164.5 227.5 L171.0 230.5 L202.0 231.6 L214.5 232.0 L214.5 224.2 L236.0 225.0 L245.0 226.0 L247.0 230.0 L253.0 238.0 L258.0 243.0 L263.0 248.0 L266.0 256.0 L268.0 261.0 L273.0 265.5 L285.0 272.5 L291.0 271.0 L296.0 262.5 L305.0 261.0 L317.5 264.0 L325.0 270.0 L331.0 282.5 L339.0 297.5 L347.5 312.5 L357.5 322.5 L370.0 324.5 L381.4 326.0 L379.0 340.0 L376.0 357.5 L375.0 375.0 L373.0 390.0 L380.0 405.0 L387.5 420.0 L397.5 435.0 L410.0 447.5 L422.5 455.0 L435.0 457.5 L447.5 452.5 L462.5 448.2 L473.0 444.5 L483.5 438.5 L491.0 429.5 L492.5 419.0 L493.2 410.0 L497.0 404.0 L506.0 398.0 L518.0 393.5 L530.0 391.2 L542.0 391.2 L546.5 389.0 L551.0 392.0 L551.8 399.5 L548.0 408.5 L545.0 416.0 L543.5 423.5 L543.5 432.5 L540.5 441.5 L539.0 447.5 L533.0 446.0 L527.0 447.5 L524.0 453.5 L518.8 455.0 L518.8 457.2 L489.5 458.8 L487.5 469.0 L499.0 482.5 L490.0 487.5 L475.0 495.0 L472.5 516.0 L465.0 507.5 L450.0 500.0 L435.0 492.5 L417.5 495.0 L400.0 501.0 L385.0 500.0 L367.5 492.5 L350.0 487.5 L330.0 480.0 L318.0 470.0 L306.0 462.8 L293.8 459.2 L281.5 454.0 L274.5 447.0 L265.8 442.6 L257.0 438.2 L250.0 427.8 L248.2 421.6 L252.6 415.5 L250.9 405.0 L249.0 392.8 L247.4 385.0 L242.5 382.5 L232.5 370.0 L220.0 357.5 L210.0 345.0 L200.0 332.5 L190.0 315.0 L180.0 302.5 L172.5 290.0 L165.0 282.5 L155.0 270.0 L147.5 255.0 L142.5 242.5 L130.0 230.0 L116.0 229.0 L122.5 252.5 L132.5 270.0 L142.5 282.5 L147.5 295.0 L155.0 302.5 L165.0 312.5 L167.5 327.5 L172.5 340.0 L177.5 350.0 L185.0 360.0 L189.0 366.0 L185.0 374.0 L180.0 375.0 L175.0 365.0 L165.0 359.0 L155.0 350.0 L147.5 340.0 L147.5 322.5 L137.5 312.5 L127.5 305.0 L117.5 297.5 L110.0 287.5 L122.5 282.5 L120.0 272.5 L112.5 262.5 L101.0 252.5 L95.0 235.0 L92.0 224.0 L88.2 215.8 L86.0 209.0 L84.0 200.0Z" fill="none" stroke="#7c7c80" stroke-width="1" stroke-linejoin="round"/>
<path d="M92.0 224.0L95.0 235.0L101.0 252.5L112.5 262.5L120.0 272.5L122.5 282.5L110.0 287.5L117.5 297.5L127.5 305.0L137.5 312.5L147.5 322.5L147.5 340.0L155.0 350.0L165.0 359.0L175.0 365.0L180.0 375.0L185.0 374.0L189.0 366.0L185.0 360.0L177.5 350.0L172.5 340.0L167.5 327.5L165.0 312.5L155.0 302.5L147.5 295.0L142.5 282.5L132.5 270.0L122.5 252.5L116.0 229.0L130.0 230.0L142.5 242.5L147.5 255.0L155.0 270.0L165.0 282.5L172.5 290.0L180.0 302.5L190.0 315.0L200.0 332.5L210.0 345.0L220.0 357.5L232.5 370.0L242.5 382.5L247.4 385.0L251.8 382.2L254.4 377.9L257.9 380.5L262.2 385.8L269.2 388.4L271.0 382.2L273.6 376.1L275.4 370.0L276.8 365.0L282.0 356.2L292.5 349.2L297.8 343.0L304.8 344.0L315.2 349.2L324.0 352.8L327.5 359.8L331.0 368.5L338.0 380.8L352.0 384.2L362.5 387.8L373.0 390.0L375.0 375.0L376.0 357.5L379.0 340.0L381.4 326.0L370.0 324.5L357.5 322.5L347.5 312.5L339.0 297.5L331.0 282.5L325.0 270.0L317.5 264.0L305.0 261.0L296.0 262.5L291.0 271.0L285.0 272.5L273.0 265.5L268.0 261.0L266.0 256.0L263.0 248.0L258.0 243.0L253.0 238.0L247.0 230.0L245.0 226.0L236.0 225.0L214.5 224.2L214.5 232.0L202.0 231.6L171.0 230.5L164.5 227.5L154.0 223.0L133.0 212.5L120.0 205.5L120.5 197.0L84.0 200.0L86.0 209.0L88.2 215.8L92.0 224.0M280.6 403.0L285.0 398.0L288.5 392.8L285.9 388.4L279.8 387.5L273.6 382.0L270.0 387.5L271.0 394.5L273.6 399.8L277.0 405.0L280.6 403.0M316.5 426.0L321.8 427.8L327.0 428.6L334.0 427.8L339.2 426.0L341.0 422.5L346.2 417.2L348.0 411.0L353.2 406.8L352.4 401.5L348.0 403.2L341.0 405.0L334.0 404.0L327.0 400.6L318.2 399.0L313.0 399.8L309.5 394.5L303.4 389.2L299.0 391.0L295.5 398.0L296.4 405.0L293.8 410.2L286.8 412.0L279.8 410.2L271.0 406.8L266.6 410.2L262.2 415.5L253.5 418.0L248.2 421.6L248.6 423.4L249.4 426.5L253.5 431.2L258.8 438.2L265.8 441.8L271.0 439.0L278.0 438.2L283.2 441.8L286.8 447.0L290.2 443.5L295.5 438.2L293.8 431.2L295.5 426.0L300.8 424.2L306.0 420.8L309.5 424.2L316.5 426.0M473.0 444.5L464.0 448.2L464.8 449.8L470.0 453.5L476.8 456.5L479.0 455.0L489.5 455.0L489.5 458.8L518.8 457.2L516.5 440.0L515.8 428.0L504.5 419.0L497.0 413.8L493.2 410.0L492.5 419.0L491.0 429.5L483.5 438.5L473.0 444.5M359.4 445.2L361.1 440.0L360.2 433.9L356.8 431.2L351.5 433.9L352.4 438.2L355.0 440.0L356.8 444.4L359.4 445.2M330.5 447.0L331.4 450.5L334.0 455.8L337.5 452.2L344.5 449.6L349.8 447.0L351.5 440.0L349.8 434.8L344.5 431.2L339.2 427.8L338.4 431.2L337.5 436.5L334.0 443.5L330.5 447.0" fill="none" stroke="#857a3a" stroke-width="0.9" stroke-linejoin="round"/>
<path d="M314.5 399.5 L310.0 408.5 L307.0 417.5 L309.2 423.5" fill="none" stroke="#6f6a2c" stroke-width="1" stroke-linejoin="round"/>
<path d="M122.5 283.0 L143.0 283.0" fill="none" stroke="#6f6a2c" stroke-width="1" stroke-linejoin="round"/>
<path d="M204.5 232.0 L206.0 237.0 L203.5 239.5 L205.0 245.0 L206.0 265.0 L200.0 285.0 L207.5 307.5 L215.0 317.5 L225.0 332.5" fill="none" stroke="#6f6a2c" stroke-width="1" stroke-linejoin="round"/>
<path d="M192.0 318.0 L200.0 312.0 L207.5 307.5" fill="none" stroke="#6f6a2c" stroke-width="1" stroke-linejoin="round"/>
<path d="M225.0 332.5 L232.5 350.0 L242.5 360.0 L247.0 370.0 L254.4 377.9" fill="none" stroke="#6f6a2c" stroke-width="1" stroke-linejoin="round"/>
<path d="M225.0 332.5 L235.0 330.0 L242.5 312.5 L252.5 315.0 L265.0 316.0 L280.0 314.0" fill="none" stroke="#6f6a2c" stroke-width="1" stroke-linejoin="round"/>
<path d="M291.0 272.0 L280.0 290.0 L277.5 305.0 L280.0 314.0" fill="none" stroke="#6f6a2c" stroke-width="1" stroke-linejoin="round"/>
<path d="M280.0 314.0 L286.0 315.0 L285.0 335.0 L290.0 345.0 L297.8 343.0" fill="none" stroke="#6f6a2c" stroke-width="1" stroke-linejoin="round"/>
<path d="M338.0 296.0 L330.0 305.0 L327.0 312.0 L320.0 320.0 L322.0 330.0 L325.0 337.0 L327.0 345.0 L327.5 359.8" fill="none" stroke="#6f6a2c" stroke-width="1" stroke-linejoin="round"/>
<path d="M342.0 302.0 L344.0 310.0 L352.0 320.0 L360.0 327.0 L362.0 334.0 L350.0 345.0 L342.8 350.5 L344.7 359.7 L340.0 365.2 L337.5 379.5" fill="none" stroke="#6f6a2c" stroke-width="1" stroke-linejoin="round"/>
<path d="M84.0 200.0 L120.5 197.0 L120.0 205.5 L133.0 212.5 L154.0 223.0 L164.5 227.5 L171.0 230.5 L202.0 231.6 L214.5 232.0 L214.5 224.2 L236.0 225.0 L245.0 226.0 L247.0 230.0 L253.0 238.0 L258.0 243.0 L263.0 248.0 L266.0 256.0 L268.0 261.0 L273.0 265.5 L285.0 272.5 L291.0 271.0 L296.0 262.5 L305.0 261.0 L317.5 264.0 L325.0 270.0 L331.0 282.5 L339.0 297.5 L347.5 312.5 L357.5 322.5 L370.0 324.5 L381.4 326.0" fill="none" stroke="#786e30" stroke-width="1.15" stroke-linejoin="round"/>
<ellipse cx="134.5" cy="263.5" rx="1.8" ry="6.5" transform="rotate(-25 134.5 263.5)" fill="#fcf7ad" stroke="#857a3a" stroke-width="0.7"/>
<ellipse cx="148.5" cy="269" rx="2.4" ry="3.4" transform="rotate(0 148.5 269)" fill="#fcf7ad" stroke="#857a3a" stroke-width="0.7"/>
<ellipse cx="104" cy="279" rx="1.6" ry="2.2" transform="rotate(-20 104 279)" fill="#fcf7ad" stroke="#857a3a" stroke-width="0.7"/>
<ellipse cx="166" cy="330" rx="1" ry="2.5" transform="rotate(-20 166 330)" fill="#fcf7ad" stroke="#857a3a" stroke-width="0.7"/>
<ellipse cx="170" cy="343" rx="1" ry="2" transform="rotate(0 170 343)" fill="#fcf7ad" stroke="#857a3a" stroke-width="0.7"/>
<ellipse cx="181" cy="352" rx="0.9" ry="2.2" transform="rotate(-30 181 352)" fill="#fcf7ad" stroke="#857a3a" stroke-width="0.7"/>
<ellipse cx="47" cy="172" rx="5" ry="1.1" transform="rotate(5 47 172)" fill="#fff" stroke="#8a8a8a" stroke-width="0.6"/>
<ellipse cx="66.5" cy="184" rx="1.2" ry="2.2" transform="rotate(-30 66.5 184)" fill="#fff" stroke="#8a8a8a" stroke-width="0.6"/>
<ellipse cx="64.5" cy="192.5" rx="1.1" ry="2" transform="rotate(-25 64.5 192.5)" fill="#fff" stroke="#8a8a8a" stroke-width="0.6"/>
<ellipse cx="216" cy="438" rx="1" ry="1.6" transform="rotate(0 216 438)" fill="#fff" stroke="#8a8a8a" stroke-width="0.6"/>
<ellipse cx="219" cy="441" rx="1" ry="1.6" transform="rotate(0 219 441)" fill="#fff" stroke="#8a8a8a" stroke-width="0.6"/>
<ellipse cx="233" cy="397" rx="0.8" ry="1.4" transform="rotate(0 233 397)" fill="#fff" stroke="#8a8a8a" stroke-width="0.6"/>
<ellipse cx="503" cy="378" rx="1.6" ry="1.2" transform="rotate(0 503 378)" fill="#fff" stroke="#8a8a8a" stroke-width="0.6"/>
<ellipse cx="551" cy="408.5" rx="1.2" ry="2.6" transform="rotate(10 551 408.5)" fill="#fff" stroke="#8a8a8a" stroke-width="0.6"/>
<path d="M20.0 96.4 L24.0 95.5 L28.0 97.5 L32.4 97.2" fill="none" stroke="#6b6455" stroke-width="1.3" stroke-linecap="round"/>
<path d="M18.4 100.8 L20.0 104.0 L23.6 106.9" fill="none" stroke="#6b6455" stroke-width="1.3" stroke-linecap="round"/>
<circle cx="98" cy="206.75" r="8.6" fill="#fde3cf" opacity="0.75"/>
<circle cx="111" cy="219.5" r="9.8" fill="#fde3cf" opacity="0.75"/>
<circle cx="124.3" cy="216.5" r="8.8" fill="#fde3cf" opacity="0.75"/>
<circle cx="138.5" cy="225.25" r="10.0" fill="#fde3cf" opacity="0.75"/>
<circle cx="145.75" cy="221.5" r="8.8" fill="#fde3cf" opacity="0.75"/>
<circle cx="149" cy="238.1" r="8.1" fill="#fde3cf" opacity="0.75"/>
<circle cx="172.3" cy="233" r="9.7" fill="#fde3cf" opacity="0.75"/>
<circle cx="171.5" cy="241.75" r="8.2" fill="#fde3cf" opacity="0.75"/>
<circle cx="112.5" cy="248.8" r="9.7" fill="#fde3cf" opacity="0.75"/>
<circle cx="154.4" cy="253.5" r="8.5" fill="#fde3cf" opacity="0.75"/>
<circle cx="162.5" cy="270" r="8.0" fill="#fde3cf" opacity="0.75"/>
<circle cx="185.5" cy="293" r="8.4" fill="#fde3cf" opacity="0.75"/>
<circle cx="173.8" cy="288.7" r="3.3" fill="#fde3cf" opacity="0.75"/>
<circle cx="192.5" cy="305.5" r="5.0" fill="#fde3cf" opacity="0.75"/>
<circle cx="139" cy="299.5" r="6.5" fill="#fde3cf" opacity="0.75"/>
<circle cx="160.4" cy="319.8" r="10.1" fill="#fde3cf" opacity="0.75"/>
<circle cx="170.2" cy="353.7" r="6.8" fill="#fde3cf" opacity="0.75"/>
<circle cx="195.3" cy="325.8" r="10.1" fill="#fde3cf" opacity="0.75"/>
<circle cx="205" cy="333.3" r="6.0" fill="#fde3cf" opacity="0.75"/>
<circle cx="214.2" cy="347" r="5.5" fill="#fde3cf" opacity="0.75"/>
<circle cx="238.3" cy="369.3" r="5.2" fill="#fde3cf" opacity="0.75"/>
<circle cx="261.5" cy="361" r="8.4" fill="#fde3cf" opacity="0.75"/>
<circle cx="280" cy="348.5" r="5.2" fill="#fde3cf" opacity="0.75"/>
<circle cx="220.5" cy="247" r="8.5" fill="#fde3cf" opacity="0.75"/>
<circle cx="242.5" cy="274.25" r="5.0" fill="#fde3cf" opacity="0.75"/>
<circle cx="269.7" cy="291.8" r="3.5" fill="#fde3cf" opacity="0.75"/>
<circle cx="238.6" cy="233.4" r="6.3" fill="#fde3cf" opacity="0.75"/>
<circle cx="335.8" cy="328.5" r="6.3" fill="#fde3cf" opacity="0.75"/>
<circle cx="327.5" cy="330" r="3.5" fill="#fde3cf" opacity="0.75"/>
<circle cx="323.3" cy="337.3" r="3.5" fill="#fde3cf" opacity="0.75"/>
<circle cx="273.3" cy="414.1" r="8.35" fill="#fde3cf" opacity="0.75"/>
<circle cx="277.65" cy="430.7" r="3.3" fill="#fde3cf" opacity="0.75"/>
<circle cx="301.6" cy="398.9" r="5.2" fill="#fde3cf" opacity="0.75"/>
<circle cx="316.85" cy="420.75" r="5.2" fill="#fde3cf" opacity="0.75"/>
<circle cx="325.8" cy="421.1" r="3.1" fill="#fde3cf" opacity="0.75"/>
<circle cx="332.8" cy="417.25" r="5.9" fill="#fde3cf" opacity="0.75"/>
<circle cx="337.15" cy="416.9" r="3.6" fill="#fde3cf" opacity="0.75"/>
<circle cx="344.85" cy="441.75" r="6.6" fill="#fde3cf" opacity="0.75"/>
<circle cx="479.45" cy="449.3" r="4.8" fill="#fde3cf" opacity="0.75"/>
<circle cx="285.9" cy="418.5" r="2.2" fill="#fde3cf" opacity="0.75"/>
<circle cx="98" cy="206.75" r="7.6" fill="#f2783f" />
<circle cx="111" cy="219.5" r="8.8" fill="#f2783f" />
<circle cx="124.3" cy="216.5" r="7.8" fill="#f2783f" />
<circle cx="138.5" cy="225.25" r="9" fill="#f2783f" />
<circle cx="145.75" cy="221.5" r="7.8" fill="#f2783f" />
<circle cx="149" cy="238.1" r="7.1" fill="#f2783f" />
<circle cx="172.3" cy="233" r="8.7" fill="#f2783f" />
<circle cx="171.5" cy="241.75" r="7.2" fill="#f2783f" />
<circle cx="112.5" cy="248.8" r="8.7" fill="#f2783f" />
<circle cx="154.4" cy="253.5" r="7.5" fill="#f2783f" />
<circle cx="162.5" cy="270" r="7" fill="#f2783f" />
<circle cx="185.5" cy="293" r="7.4" fill="#f2783f" />
<circle cx="173.8" cy="288.7" r="2.3" fill="#f2783f" />
<circle cx="192.5" cy="305.5" r="4" fill="#f2783f" />
<circle cx="139" cy="299.5" r="5.5" fill="#f2783f" />
<circle cx="160.4" cy="319.8" r="9.1" fill="#f2783f" />
<circle cx="170.2" cy="353.7" r="5.8" fill="#f2783f" />
<circle cx="195.3" cy="325.8" r="9.1" fill="#f2783f" />
<circle cx="205" cy="333.3" r="5" fill="#f2783f" />
<circle cx="214.2" cy="347" r="4.5" fill="#f2783f" />
<circle cx="238.3" cy="369.3" r="4.2" fill="#f2783f" />
<circle cx="261.5" cy="361" r="7.4" fill="#f2783f" />
<circle cx="280" cy="348.5" r="4.2" fill="#f2783f" />
<circle cx="220.5" cy="247" r="7.5" fill="#f2783f" />
<circle cx="242.5" cy="274.25" r="4" fill="#f2783f" />
<circle cx="269.7" cy="291.8" r="2.5" fill="#f2783f" />
<circle cx="238.6" cy="233.4" r="5.3" fill="#f2783f" />
<circle cx="335.8" cy="328.5" r="5.3" fill="#f2783f" />
<circle cx="327.5" cy="330" r="2.5" fill="#f2783f" />
<circle cx="323.3" cy="337.3" r="2.5" fill="#f2783f" />
<circle cx="273.3" cy="414.1" r="7.35" fill="#f2783f" />
<circle cx="277.65" cy="430.7" r="2.3" fill="#f2783f" />
<circle cx="301.6" cy="398.9" r="4.2" fill="#f2783f" />
<circle cx="316.85" cy="420.75" r="4.2" fill="#f2783f" />
<circle cx="325.8" cy="421.1" r="2.1" fill="#f2783f" />
<circle cx="332.8" cy="417.25" r="4.9" fill="#f2783f" />
<circle cx="337.15" cy="416.9" r="2.6" fill="#f2783f" />
<circle cx="344.85" cy="441.75" r="5.6" fill="#f2783f" />
<circle cx="479.45" cy="449.3" r="3.8" fill="#f2783f" />
<circle cx="285.9" cy="418.5" r="1.2" fill="#f2783f" />
<circle cx="97.25" cy="206" r="3.5" fill="#f6ddd6" opacity="0.9"/>
<circle cx="97.25" cy="206" r="2.6" fill="#0f5a9c" />
<circle cx="111.1" cy="219.1" r="5.1000000000000005" fill="#f6ddd6" opacity="0.9"/>
<circle cx="111.1" cy="219.1" r="4.2" fill="#0f5a9c" />
<circle cx="123.5" cy="215.8" r="6.6000000000000005" fill="#f6ddd6" opacity="0.9"/>
<circle cx="123.5" cy="215.8" r="5.7" fill="#0f5a9c" />
<circle cx="145.2" cy="222.2" r="4.9" fill="#f6ddd6" opacity="0.9"/>
<circle cx="145.2" cy="222.2" r="4" fill="#0f5a9c" />
<circle cx="139.2" cy="225.1" r="5.2" fill="#f6ddd6" opacity="0.9"/>
<circle cx="139.2" cy="225.1" r="4.3" fill="#0f5a9c" />
<circle cx="149" cy="238.1" r="3.3" fill="#f6ddd6" opacity="0.9"/>
<circle cx="149" cy="238.1" r="2.4" fill="#0f5a9c" />
<circle cx="172.3" cy="233" r="6.9" fill="#f6ddd6" opacity="0.9"/>
<circle cx="172.3" cy="233" r="6" fill="#0f5a9c" />
<circle cx="171.5" cy="241.2" r="3.3" fill="#f6ddd6" opacity="0.9"/>
<circle cx="171.5" cy="241.2" r="2.4" fill="#0f5a9c" />
<circle cx="112.5" cy="248.8" r="6.6000000000000005" fill="#f6ddd6" opacity="0.9"/>
<circle cx="112.5" cy="248.8" r="5.7" fill="#0f5a9c" />
<circle cx="162.5" cy="270" r="3.1999999999999997" fill="#f6ddd6" opacity="0.9"/>
<circle cx="162.5" cy="270" r="2.3" fill="#0f5a9c" />
<circle cx="185.5" cy="293" r="3.6999999999999997" fill="#f6ddd6" opacity="0.9"/>
<circle cx="185.5" cy="293" r="2.8" fill="#0f5a9c" />
<circle cx="160.4" cy="319.8" r="3.0" fill="#f6ddd6" opacity="0.9"/>
<circle cx="160.4" cy="319.8" r="2.1" fill="#0f5a9c" />
<circle cx="159.8" cy="324.2" r="2.6" fill="#f6ddd6" opacity="0.9"/>
<circle cx="159.8" cy="324.2" r="1.7" fill="#0f5a9c" />
<circle cx="170.2" cy="353.7" r="2.9" fill="#f6ddd6" opacity="0.9"/>
<circle cx="170.2" cy="353.7" r="2" fill="#0f5a9c" />
<circle cx="195.3" cy="325.8" r="5.5" fill="#f6ddd6" opacity="0.9"/>
<circle cx="195.3" cy="325.8" r="4.6" fill="#0f5a9c" />
<circle cx="238.3" cy="233.5" r="2.5" fill="#f6ddd6" opacity="0.9"/>
<circle cx="238.3" cy="233.5" r="1.6" fill="#0f5a9c" />
<circle cx="87.8" cy="205.9" r="9.0" fill="#e9f1f4" opacity="0.85"/>
<circle cx="87.8" cy="205.9" r="7.5" fill="#0f5a9c" />
<circle cx="90.8" cy="194.7" r="10.8" fill="#e9f1f4" opacity="0.85"/>
<circle cx="90.8" cy="194.7" r="9.3" fill="#0f5a9c" />
<circle cx="108.5" cy="197.1" r="5.25" fill="#e9f1f4" opacity="0.85"/>
<circle cx="108.5" cy="197.1" r="3.75" fill="#0f5a9c" />
<circle cx="121.5" cy="204.4" r="7.4" fill="#e9f1f4" opacity="0.85"/>
<circle cx="121.5" cy="204.4" r="5.9" fill="#0f5a9c" />
<circle cx="173.1" cy="216.25" r="9.1" fill="#e9f1f4" opacity="0.85"/>
<circle cx="173.1" cy="216.25" r="7.6" fill="#0f5a9c" />
<circle cx="173.3" cy="253.6" r="9.3" fill="#e9f1f4" opacity="0.85"/>
<circle cx="173.3" cy="253.6" r="7.8" fill="#0f5a9c" />
<circle cx="240.75" cy="225.5" r="9.0" fill="#e9f1f4" opacity="0.85"/>
<circle cx="240.75" cy="225.5" r="7.5" fill="#0f5a9c" />
<circle cx="255.75" cy="307.5" r="5.7" fill="#e9f1f4" opacity="0.85"/>
<circle cx="255.75" cy="307.5" r="4.2" fill="#0f5a9c" />
<circle cx="288.7" cy="263" r="4.0" fill="#e9f1f4" opacity="0.85"/>
<circle cx="288.7" cy="263" r="2.5" fill="#0f5a9c" />
<circle cx="323.3" cy="268.8" r="4.0" fill="#e9f1f4" opacity="0.85"/>
<circle cx="323.3" cy="268.8" r="2.5" fill="#0f5a9c" />
<circle cx="323.3" cy="288" r="6.0" fill="#e9f1f4" opacity="0.85"/>
<circle cx="323.3" cy="288" r="4.5" fill="#0f5a9c" />
<circle cx="345.8" cy="300.2" r="9.3" fill="#e9f1f4" opacity="0.85"/>
<circle cx="345.8" cy="300.2" r="7.8" fill="#0f5a9c" />
<circle cx="355.8" cy="319.2" r="6.0" fill="#e9f1f4" opacity="0.85"/>
<circle cx="355.8" cy="319.2" r="4.5" fill="#0f5a9c" />
<circle cx="333" cy="333.3" r="4.3" fill="#e9f1f4" opacity="0.85"/>
<circle cx="333" cy="333.3" r="2.8" fill="#0f5a9c" />
<circle cx="337.5" cy="339.2" r="6.0" fill="#e9f1f4" opacity="0.85"/>
<circle cx="337.5" cy="339.2" r="4.5" fill="#0f5a9c" />
<circle cx="331.7" cy="348" r="4.0" fill="#e9f1f4" opacity="0.85"/>
<circle cx="331.7" cy="348" r="2.5" fill="#0f5a9c" />
<circle cx="224.2" cy="348.7" r="9.7" fill="#e9f1f4" opacity="0.85"/>
<circle cx="224.2" cy="348.7" r="8.2" fill="#0f5a9c" />
<circle cx="211.7" cy="325.4" r="3.8" fill="#e9f1f4" opacity="0.85"/>
<circle cx="211.7" cy="325.4" r="2.3" fill="#0f5a9c" />
<circle cx="282.4" cy="416.4" r="3.8" fill="#e9f1f4" opacity="0.85"/>
<circle cx="282.4" cy="416.4" r="2.3" fill="#0f5a9c" />
</g></g>
<g filter="url(#bl)">
<circle cx="579.75" cy="194.6" r="4.1" fill="#0f5a9c" stroke="#0b4c88" stroke-width="0.5"/>
<circle cx="579.75" cy="219" r="6.6" fill="#0f5a9c" stroke="#0b4c88" stroke-width="0.5"/>
<circle cx="579.75" cy="244" r="9.100000000000001" fill="#0f5a9c" stroke="#0b4c88" stroke-width="0.5"/>
<circle cx="579.75" cy="268.1" r="11.3" fill="#0f5a9c" stroke="#0b4c88" stroke-width="0.5"/>
<circle cx="579.75" cy="293.75" r="14.55" fill="#0f5a9c" stroke="#0b4c88" stroke-width="0.5"/>
<circle cx="579.5" cy="363.1" r="4.1" fill="#f2783f" stroke="#dd6a3a" stroke-width="0.5"/>
<circle cx="579.5" cy="388.1" r="6.6" fill="#f2783f" stroke="#dd6a3a" stroke-width="0.5"/>
<circle cx="579.5" cy="413.1" r="9.100000000000001" fill="#f2783f" stroke="#dd6a3a" stroke-width="0.5"/>
<circle cx="579.5" cy="437" r="11.3" fill="#f2783f" stroke="#dd6a3a" stroke-width="0.5"/>
<circle cx="579.5" cy="463" r="14.8" fill="#f2783f" stroke="#dd6a3a" stroke-width="0.5"/>
<text x="361.6" y="96.7" font-family="Liberation Sans, sans-serif" font-size="22.3" font-weight="bold" stroke="#0a0a0a" stroke-width="0.8" word-spacing="-2.5" fill="#0a0a0a" textLength="396.5" lengthAdjust="spacingAndGlyphs">Decomisos de la sustancia en México</text>
<text x="361.8" y="121.6" font-family="Liberation Sans, sans-serif" font-size="22.3" font-weight="bold" stroke="#0a0a0a" stroke-width="0.8" word-spacing="-2.5" fill="#0a0a0a" textLength="411" lengthAdjust="spacingAndGlyphs">y en la frontera sur de Estados Unidos</text>
<text x="560.5" y="171.6" font-family="Liberation Sans, sans-serif" font-size="17.2" font-weight="bold" stroke="#111" stroke-width="0.3" fill="#111" textLength="97.5" lengthAdjust="spacingAndGlyphs">Kilogramos</text>
<text x="603.8" y="196.9" font-family="Liberation Sans, sans-serif" font-size="17.0" stroke="#161616" stroke-width="0.2" word-spacing="-1.6" fill="#161616" textLength="72.0" lengthAdjust="spacingAndGlyphs">0.05 - 28</text>
<text x="603.8" y="221.4" font-family="Liberation Sans, sans-serif" font-size="17.0" stroke="#161616" stroke-width="0.2" word-spacing="-1.6" fill="#161616" textLength="61.9" lengthAdjust="spacingAndGlyphs">29 - 159</text>
<text x="603.8" y="245.9" font-family="Liberation Sans, sans-serif" font-size="17.0" stroke="#161616" stroke-width="0.2" word-spacing="-1.6" fill="#161616" textLength="72.0" lengthAdjust="spacingAndGlyphs">160 - 310</text>
<text x="603.8" y="269.9" font-family="Liberation Sans, sans-serif" font-size="17.0" stroke="#161616" stroke-width="0.2" word-spacing="-1.6" fill="#161616" textLength="78.7" lengthAdjust="spacingAndGlyphs">311 - 7,158</text>
<text x="603.8" y="294.7" font-family="Liberation Sans, sans-serif" font-size="17.0" stroke="#161616" stroke-width="0.2" word-spacing="-1.6" fill="#161616" textLength="101.9" lengthAdjust="spacingAndGlyphs">7,159 - 9,709</text>
<text x="560.6" y="340.3" font-family="Liberation Sans, sans-serif" font-size="17.2" font-weight="bold" stroke="#111" stroke-width="0.3" fill="#111" textLength="69.2" lengthAdjust="spacingAndGlyphs">Pastillas</text>
<text x="603.3" y="365.4" font-family="Liberation Sans, sans-serif" font-size="17.0" stroke="#161616" stroke-width="0.2" word-spacing="-1.6" fill="#161616" textLength="76.2" lengthAdjust="spacingAndGlyphs">21 - 1,900</text>
<text x="603.3" y="390.0" font-family="Liberation Sans, sans-serif" font-size="17.0" stroke="#161616" stroke-width="0.2" word-spacing="-1.6" fill="#161616" textLength="99.8" lengthAdjust="spacingAndGlyphs">1,901 - 7,202</text>
<text x="603.3" y="414.4" font-family="Liberation Sans, sans-serif" font-size="17.0" stroke="#161616" stroke-width="0.2" word-spacing="-1.6" fill="#161616" textLength="112.8" lengthAdjust="spacingAndGlyphs">7,203 - 36,914</text>
<text x="603.3" y="438.9" font-family="Liberation Sans, sans-serif" font-size="17.0" stroke="#161616" stroke-width="0.2" word-spacing="-1.6" fill="#161616" textLength="132.8" lengthAdjust="spacingAndGlyphs">36,915 - 398,336</text>
<text x="603.3" y="463.4" font-family="Liberation Sans, sans-serif" font-size="17.0" stroke="#161616" stroke-width="0.2" word-spacing="-1.6" fill="#161616" textLength="161.4" lengthAdjust="spacingAndGlyphs">398,337 - 2,304,084</text>
</g>
</svg>
</body></html>
